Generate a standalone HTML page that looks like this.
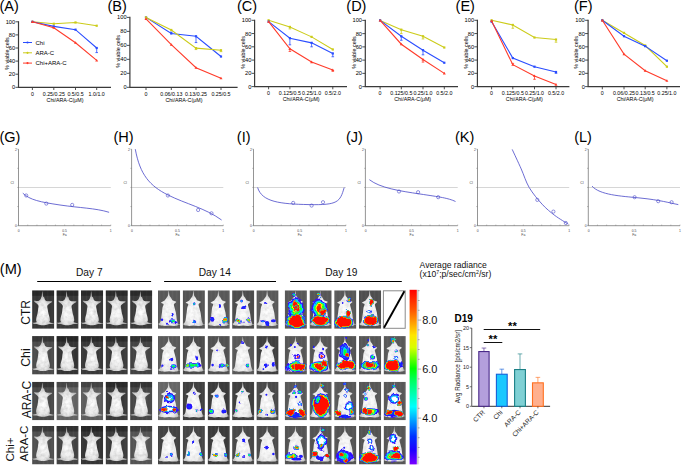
<!DOCTYPE html>
<html><head><meta charset="utf-8"><style>
html,body{margin:0;padding:0;background:#fff;width:685px;height:467px;overflow:hidden}
svg{display:block}
text{font-family:"Liberation Sans",sans-serif}
</style></head><body>
<svg width="685" height="467" viewBox="0 0 685 467">
<defs><radialGradient id="mg7" cx="0.5" cy="0.62" r="0.55"><stop offset="0" stop-color="#ffffff"/><stop offset="0.6" stop-color="#e8e8e8"/><stop offset="1" stop-color="#b0b0b0"/></radialGradient>
<radialGradient id="mg14" cx="0.5" cy="0.6" r="0.6"><stop offset="0" stop-color="#ffffff"/><stop offset="0.65" stop-color="#f0f0f0"/><stop offset="1" stop-color="#c8c8c8"/></radialGradient>
<linearGradient id="bg7" x1="0" y1="0" x2="0" y2="1"><stop offset="0" stop-color="#252525"/><stop offset="0.17" stop-color="#262626"/><stop offset="0.18" stop-color="#3b3b3b"/><stop offset="0.85" stop-color="#3d3d3d"/><stop offset="1" stop-color="#303030"/></linearGradient>
<linearGradient id="bg14" x1="0" y1="0" x2="1" y2="0"><stop offset="0" stop-color="#4e4e4e"/><stop offset="0.3" stop-color="#5c5c5c"/><stop offset="0.5" stop-color="#545454"/><stop offset="0.75" stop-color="#5e5e5e"/><stop offset="1" stop-color="#505050"/></linearGradient>
<filter id="bl" x="-20%" y="-20%" width="140%" height="140%"><feGaussianBlur stdDeviation="0.45"/></filter>
<pattern id="stripes" x="0" y="0" width="4.3" height="40" patternUnits="userSpaceOnUse"><rect x="0" y="0" width="0.9" height="40" fill="#fff" opacity="0.03"/><rect x="2.2" y="0" width="0.9" height="40" fill="#000" opacity="0.04"/></pattern>
<filter id="tex" x="-10%" y="-10%" width="120%" height="120%"><feTurbulence type="fractalNoise" baseFrequency="0.28" numOctaves="2" seed="11" result="n"/><feColorMatrix in="n" type="matrix" values="0 0 0 0 0  0 0 0 0 0  0 0 0 0 0  0 0 0 -1.6 1.0" result="na"/><feComposite in="na" in2="SourceAlpha" operator="in" result="nm"/><feComponentTransfer in="nm" result="nm2"><feFuncA type="linear" slope="0.32"/></feComponentTransfer><feMerge result="m"><feMergeNode in="SourceGraphic"/><feMergeNode in="nm2"/></feMerge><feGaussianBlur in="m" stdDeviation="0.45"/></filter>
<filter id="tex14" x="-10%" y="-10%" width="120%" height="120%"><feTurbulence type="fractalNoise" baseFrequency="0.28" numOctaves="2" seed="11" result="n"/><feColorMatrix in="n" type="matrix" values="0 0 0 0 0  0 0 0 0 0  0 0 0 0 0  0 0 0 -1.6 1.0" result="na"/><feComposite in="na" in2="SourceAlpha" operator="in" result="nm"/><feComponentTransfer in="nm" result="nm2"><feFuncA type="linear" slope="0.26"/></feComponentTransfer><feMerge result="m"><feMergeNode in="SourceGraphic"/><feMergeNode in="nm2"/></feMerge><feGaussianBlur in="m" stdDeviation="0.45"/></filter>
<filter id="bl3" x="-30%" y="-30%" width="160%" height="160%"><feTurbulence type="fractalNoise" baseFrequency="0.16" numOctaves="2" seed="8" result="t"/><feDisplacementMap in="SourceGraphic" in2="t" scale="5.0" xChannelSelector="R" yChannelSelector="G" result="d"/><feGaussianBlur in="d" stdDeviation="0.45"/></filter>
<filter id="bl2" x="-20%" y="-20%" width="140%" height="140%" filterUnits="objectBoundingBox"><feTurbulence type="fractalNoise" baseFrequency="0.22" numOctaves="2" seed="5" result="t"/><feDisplacementMap in="SourceGraphic" in2="t" scale="3.0" xChannelSelector="R" yChannelSelector="G" result="d"/><feGaussianBlur in="d" stdDeviation="0.5"/></filter>
<linearGradient id="cbar" x1="0" y1="0" x2="0" y2="1">
<stop offset="0" stop-color="#ff0000"/><stop offset="0.12" stop-color="#ff5a00"/><stop offset="0.26" stop-color="#ffe600"/><stop offset="0.33" stop-color="#d8ff00"/><stop offset="0.45" stop-color="#00ff00"/><stop offset="0.52" stop-color="#00ff60"/><stop offset="0.67" stop-color="#00ffff"/><stop offset="0.84" stop-color="#0030ff"/><stop offset="0.92" stop-color="#2000ff"/><stop offset="1" stop-color="#7a00ff"/></linearGradient><clipPath id="tc1"><rect x="32.1" y="290.3" width="22.2" height="38.5"/></clipPath><clipPath id="tc2"><rect x="56.4" y="290.3" width="22.2" height="38.5"/></clipPath><clipPath id="tc3"><rect x="81.0" y="290.3" width="22.2" height="38.5"/></clipPath><clipPath id="tc4"><rect x="105.6" y="290.3" width="22.2" height="38.5"/></clipPath><clipPath id="tc5"><rect x="130.1" y="290.3" width="22.2" height="38.5"/></clipPath><clipPath id="tc6"><rect x="158.0" y="290.3" width="22.2" height="38.5"/></clipPath><clipPath id="tc7"><rect x="182.7" y="290.3" width="22.2" height="38.5"/></clipPath><clipPath id="tc8"><rect x="207.6" y="290.3" width="22.2" height="38.5"/></clipPath><clipPath id="tc9"><rect x="232.1" y="290.3" width="22.2" height="38.5"/></clipPath><clipPath id="tc10"><rect x="256.4" y="290.3" width="22.2" height="38.5"/></clipPath><clipPath id="tc11"><rect x="284.7" y="290.3" width="22.2" height="38.5"/></clipPath><clipPath id="tc12"><rect x="309.5" y="290.3" width="22.2" height="38.5"/></clipPath><clipPath id="tc13"><rect x="334.2" y="290.3" width="22.2" height="38.5"/></clipPath><clipPath id="tc14"><rect x="359.0" y="290.3" width="22.2" height="38.5"/></clipPath><clipPath id="tc15"><rect x="32.1" y="336.1" width="22.2" height="38.5"/></clipPath><clipPath id="tc16"><rect x="56.4" y="336.1" width="22.2" height="38.5"/></clipPath><clipPath id="tc17"><rect x="81.0" y="336.1" width="22.2" height="38.5"/></clipPath><clipPath id="tc18"><rect x="105.6" y="336.1" width="22.2" height="38.5"/></clipPath><clipPath id="tc19"><rect x="130.1" y="336.1" width="22.2" height="38.5"/></clipPath><clipPath id="tc20"><rect x="158.0" y="336.1" width="22.2" height="38.5"/></clipPath><clipPath id="tc21"><rect x="182.7" y="336.1" width="22.2" height="38.5"/></clipPath><clipPath id="tc22"><rect x="207.6" y="336.1" width="22.2" height="38.5"/></clipPath><clipPath id="tc23"><rect x="232.1" y="336.1" width="22.2" height="38.5"/></clipPath><clipPath id="tc24"><rect x="256.4" y="336.1" width="22.2" height="38.5"/></clipPath><clipPath id="tc25"><rect x="284.7" y="336.1" width="22.2" height="38.5"/></clipPath><clipPath id="tc26"><rect x="309.5" y="336.1" width="22.2" height="38.5"/></clipPath><clipPath id="tc27"><rect x="334.2" y="336.1" width="22.2" height="38.5"/></clipPath><clipPath id="tc28"><rect x="359.0" y="336.1" width="22.2" height="38.5"/></clipPath><clipPath id="tc29"><rect x="383.6" y="336.1" width="22.2" height="38.5"/></clipPath><clipPath id="tc30"><rect x="32.1" y="381.8" width="22.2" height="38.5"/></clipPath><clipPath id="tc31"><rect x="56.4" y="381.8" width="22.2" height="38.5"/></clipPath><clipPath id="tc32"><rect x="81.0" y="381.8" width="22.2" height="38.5"/></clipPath><clipPath id="tc33"><rect x="105.6" y="381.8" width="22.2" height="38.5"/></clipPath><clipPath id="tc34"><rect x="130.1" y="381.8" width="22.2" height="38.5"/></clipPath><clipPath id="tc35"><rect x="158.0" y="381.8" width="22.2" height="38.5"/></clipPath><clipPath id="tc36"><rect x="182.7" y="381.8" width="22.2" height="38.5"/></clipPath><clipPath id="tc37"><rect x="207.6" y="381.8" width="22.2" height="38.5"/></clipPath><clipPath id="tc38"><rect x="232.1" y="381.8" width="22.2" height="38.5"/></clipPath><clipPath id="tc39"><rect x="256.4" y="381.8" width="22.2" height="38.5"/></clipPath><clipPath id="tc40"><rect x="284.7" y="381.8" width="22.2" height="38.5"/></clipPath><clipPath id="tc41"><rect x="309.5" y="381.8" width="22.2" height="38.5"/></clipPath><clipPath id="tc42"><rect x="334.2" y="381.8" width="22.2" height="38.5"/></clipPath><clipPath id="tc43"><rect x="359.0" y="381.8" width="22.2" height="38.5"/></clipPath><clipPath id="tc44"><rect x="383.6" y="381.8" width="22.2" height="38.5"/></clipPath><clipPath id="tc45"><rect x="32.1" y="426.0" width="22.2" height="38.5"/></clipPath><clipPath id="tc46"><rect x="56.4" y="426.0" width="22.2" height="38.5"/></clipPath><clipPath id="tc47"><rect x="81.0" y="426.0" width="22.2" height="38.5"/></clipPath><clipPath id="tc48"><rect x="105.6" y="426.0" width="22.2" height="38.5"/></clipPath><clipPath id="tc49"><rect x="130.1" y="426.0" width="22.2" height="38.5"/></clipPath><clipPath id="tc50"><rect x="158.0" y="426.0" width="22.2" height="38.5"/></clipPath><clipPath id="tc51"><rect x="182.7" y="426.0" width="22.2" height="38.5"/></clipPath><clipPath id="tc52"><rect x="207.6" y="426.0" width="22.2" height="38.5"/></clipPath><clipPath id="tc53"><rect x="232.1" y="426.0" width="22.2" height="38.5"/></clipPath><clipPath id="tc54"><rect x="256.4" y="426.0" width="22.2" height="38.5"/></clipPath><clipPath id="tc55"><rect x="284.7" y="426.0" width="22.2" height="38.5"/></clipPath><clipPath id="tc56"><rect x="309.5" y="426.0" width="22.2" height="38.5"/></clipPath><clipPath id="tc57"><rect x="334.2" y="426.0" width="22.2" height="38.5"/></clipPath><clipPath id="tc58"><rect x="359.0" y="426.0" width="22.2" height="38.5"/></clipPath><clipPath id="tc59"><rect x="383.6" y="426.0" width="22.2" height="38.5"/></clipPath></defs>
<text x="-0.50" y="10.80" font-size="14.5" text-anchor="start" fill="#000" font-weight="normal" >(A)</text>
<path d="M18.5 21.2 V87.3 H111" fill="none" stroke="#3a3a3a" stroke-width="1.2"/>
<line x1="15.5" y1="87.30" x2="18.5" y2="87.30" stroke="#3a3a3a" stroke-width="0.9"/>
<text x="15.20" y="89.30" font-size="5.7" text-anchor="end" fill="#000" font-weight="normal" >0</text>
<line x1="15.5" y1="74.20" x2="18.5" y2="74.20" stroke="#3a3a3a" stroke-width="0.9"/>
<text x="15.20" y="76.20" font-size="5.7" text-anchor="end" fill="#000" font-weight="normal" >20</text>
<line x1="15.5" y1="61.10" x2="18.5" y2="61.10" stroke="#3a3a3a" stroke-width="0.9"/>
<text x="15.20" y="63.10" font-size="5.7" text-anchor="end" fill="#000" font-weight="normal" >40</text>
<line x1="15.5" y1="48.00" x2="18.5" y2="48.00" stroke="#3a3a3a" stroke-width="0.9"/>
<text x="15.20" y="50.00" font-size="5.7" text-anchor="end" fill="#000" font-weight="normal" >60</text>
<line x1="15.5" y1="34.90" x2="18.5" y2="34.90" stroke="#3a3a3a" stroke-width="0.9"/>
<text x="15.20" y="36.90" font-size="5.7" text-anchor="end" fill="#000" font-weight="normal" >80</text>
<line x1="15.5" y1="21.80" x2="18.5" y2="21.80" stroke="#3a3a3a" stroke-width="0.9"/>
<text x="15.20" y="23.80" font-size="5.7" text-anchor="end" fill="#000" font-weight="normal" >100</text>
<line x1="32.40" y1="87.3" x2="32.40" y2="90.0" stroke="#3a3a3a" stroke-width="0.9"/>
<text x="32.40" y="95.70" font-size="5.3" text-anchor="middle" fill="#000" font-weight="normal" >0</text>
<line x1="53.80" y1="87.3" x2="53.80" y2="90.0" stroke="#3a3a3a" stroke-width="0.9"/>
<text x="53.80" y="95.70" font-size="5.3" text-anchor="middle" fill="#000" font-weight="normal" >0.25/0.25</text>
<line x1="75.50" y1="87.3" x2="75.50" y2="90.0" stroke="#3a3a3a" stroke-width="0.9"/>
<text x="75.50" y="95.70" font-size="5.3" text-anchor="middle" fill="#000" font-weight="normal" >0.5/0.5</text>
<line x1="96.70" y1="87.3" x2="96.70" y2="90.0" stroke="#3a3a3a" stroke-width="0.9"/>
<text x="96.70" y="95.70" font-size="5.3" text-anchor="middle" fill="#000" font-weight="normal" >1.0/1.0</text>
<text x="65.05" y="101.50" font-size="5.3" text-anchor="middle" fill="#000" font-weight="normal" >Chi/ARA-C(μM)</text>
<text x="8.70" y="53.55" font-size="5.4" text-anchor="middle" fill="#000" font-weight="normal" transform="rotate(-90 8.7 53.55)" >% viable cells</text>
<polyline points="32.40,21.80 53.80,23.77 75.50,22.45 96.70,25.73" fill="none" stroke="#cccc1a" stroke-width="1.1"/>
<rect x="31.30" y="20.70" width="2.2" height="2.2" fill="#cccc1a"/>
<rect x="52.70" y="22.66" width="2.2" height="2.2" fill="#cccc1a"/>
<rect x="74.40" y="21.35" width="2.2" height="2.2" fill="#cccc1a"/>
<rect x="95.60" y="24.63" width="2.2" height="2.2" fill="#cccc1a"/>
<polyline points="32.40,21.80 53.80,26.38 75.50,29.66 96.70,48.00" fill="none" stroke="#2a4dff" stroke-width="1.1"/>
<rect x="31.30" y="20.70" width="2.2" height="2.2" fill="#2a4dff"/>
<rect x="52.70" y="25.28" width="2.2" height="2.2" fill="#2a4dff"/>
<rect x="74.40" y="28.56" width="2.2" height="2.2" fill="#2a4dff"/>
<rect x="95.60" y="46.90" width="2.2" height="2.2" fill="#2a4dff"/>
<path d="M96.70 48.00V52.58M95.40 52.58h2.6" stroke="#2a4dff" stroke-width="0.8" fill="none"/>
<polyline points="32.40,21.80 53.80,27.70 75.50,42.76 96.70,60.44" fill="none" stroke="#ff3b2a" stroke-width="1.1"/>
<path d="M32.40 20.30L33.90 22.90H30.90Z" fill="#ff3b2a"/>
<path d="M53.80 26.20L55.30 28.80H52.30Z" fill="#ff3b2a"/>
<path d="M75.50 41.26L77.00 43.86H74.00Z" fill="#ff3b2a"/>
<path d="M96.70 58.94L98.20 61.54H95.20Z" fill="#ff3b2a"/>
<line x1="23" y1="42.5" x2="32" y2="42.5" stroke="#2a4dff" stroke-width="1"/>
<circle cx="27.5" cy="42.5" r="1.1" fill="#2a4dff"/>
<text x="35.50" y="44.60" font-size="6.0" text-anchor="start" fill="#000" font-weight="normal" >Chi</text>
<line x1="23" y1="52.8" x2="32" y2="52.8" stroke="#cccc1a" stroke-width="1"/>
<circle cx="27.5" cy="52.8" r="1.1" fill="#cccc1a"/>
<text x="35.50" y="54.90" font-size="6.0" text-anchor="start" fill="#000" font-weight="normal" >ARA-C</text>
<line x1="23" y1="63.1" x2="32" y2="63.1" stroke="#ff3b2a" stroke-width="1"/>
<circle cx="27.5" cy="63.1" r="1.1" fill="#ff3b2a"/>
<text x="35.50" y="65.20" font-size="6.0" text-anchor="start" fill="#000" font-weight="normal" >Chi+ARA-C</text>
<text x="107.50" y="10.80" font-size="14.5" text-anchor="start" fill="#000" font-weight="normal" >(B)</text>
<path d="M129.9 16.799999999999997 V87.3 H237.6" fill="none" stroke="#3a3a3a" stroke-width="1.2"/>
<line x1="126.9" y1="87.30" x2="129.9" y2="87.30" stroke="#3a3a3a" stroke-width="0.9"/>
<text x="126.60" y="89.30" font-size="5.7" text-anchor="end" fill="#000" font-weight="normal" >0</text>
<line x1="126.9" y1="73.32" x2="129.9" y2="73.32" stroke="#3a3a3a" stroke-width="0.9"/>
<text x="126.60" y="75.32" font-size="5.7" text-anchor="end" fill="#000" font-weight="normal" >20</text>
<line x1="126.9" y1="59.34" x2="129.9" y2="59.34" stroke="#3a3a3a" stroke-width="0.9"/>
<text x="126.60" y="61.34" font-size="5.7" text-anchor="end" fill="#000" font-weight="normal" >40</text>
<line x1="126.9" y1="45.36" x2="129.9" y2="45.36" stroke="#3a3a3a" stroke-width="0.9"/>
<text x="126.60" y="47.36" font-size="5.7" text-anchor="end" fill="#000" font-weight="normal" >60</text>
<line x1="126.9" y1="31.38" x2="129.9" y2="31.38" stroke="#3a3a3a" stroke-width="0.9"/>
<text x="126.60" y="33.38" font-size="5.7" text-anchor="end" fill="#000" font-weight="normal" >80</text>
<line x1="126.9" y1="17.40" x2="129.9" y2="17.40" stroke="#3a3a3a" stroke-width="0.9"/>
<text x="126.60" y="19.40" font-size="5.7" text-anchor="end" fill="#000" font-weight="normal" >100</text>
<line x1="146.00" y1="87.3" x2="146.00" y2="90.0" stroke="#3a3a3a" stroke-width="0.9"/>
<text x="146.00" y="95.70" font-size="5.3" text-anchor="middle" fill="#000" font-weight="normal" >0</text>
<line x1="171.30" y1="87.3" x2="171.30" y2="90.0" stroke="#3a3a3a" stroke-width="0.9"/>
<text x="171.30" y="95.70" font-size="5.3" text-anchor="middle" fill="#000" font-weight="normal" >0.06/0.13</text>
<line x1="196.00" y1="87.3" x2="196.00" y2="90.0" stroke="#3a3a3a" stroke-width="0.9"/>
<text x="196.00" y="95.70" font-size="5.3" text-anchor="middle" fill="#000" font-weight="normal" >0.13/0.25</text>
<line x1="221.00" y1="87.3" x2="221.00" y2="90.0" stroke="#3a3a3a" stroke-width="0.9"/>
<text x="221.00" y="95.70" font-size="5.3" text-anchor="middle" fill="#000" font-weight="normal" >0.25/0.5</text>
<text x="184.00" y="101.50" font-size="5.3" text-anchor="middle" fill="#000" font-weight="normal" >Chi/ARA-C(μM)</text>
<text x="120.10" y="51.35" font-size="5.4" text-anchor="middle" fill="#000" font-weight="normal" transform="rotate(-90 120.10000000000001 51.349999999999994)" >% viable cells</text>
<polyline points="146.00,17.40 171.30,33.48 196.00,36.27 221.00,56.54" fill="none" stroke="#2a4dff" stroke-width="1.1"/>
<rect x="144.90" y="16.30" width="2.2" height="2.2" fill="#2a4dff"/>
<rect x="170.20" y="32.38" width="2.2" height="2.2" fill="#2a4dff"/>
<path d="M171.30 33.48V32.08M170.00 32.08h2.6" stroke="#2a4dff" stroke-width="0.8" fill="none"/>
<rect x="194.90" y="35.17" width="2.2" height="2.2" fill="#2a4dff"/>
<path d="M196.00 36.27V42.56M194.70 42.56h2.6" stroke="#2a4dff" stroke-width="0.8" fill="none"/>
<rect x="219.90" y="55.44" width="2.2" height="2.2" fill="#2a4dff"/>
<polyline points="146.00,17.40 171.30,29.98 196.00,48.16 221.00,50.25" fill="none" stroke="#cccc1a" stroke-width="1.1"/>
<rect x="144.90" y="16.30" width="2.2" height="2.2" fill="#cccc1a"/>
<rect x="170.20" y="28.88" width="2.2" height="2.2" fill="#cccc1a"/>
<rect x="194.90" y="47.06" width="2.2" height="2.2" fill="#cccc1a"/>
<path d="M196.00 48.16V49.55M194.70 49.55h2.6" stroke="#cccc1a" stroke-width="0.8" fill="none"/>
<rect x="219.90" y="49.15" width="2.2" height="2.2" fill="#cccc1a"/>
<path d="M221.00 50.25V51.65M219.70 51.65h2.6" stroke="#cccc1a" stroke-width="0.8" fill="none"/>
<polyline points="146.00,18.80 171.30,44.66 196.00,67.73 221.00,78.21" fill="none" stroke="#ff3b2a" stroke-width="1.1"/>
<path d="M146.00 17.30L147.50 19.90H144.50Z" fill="#ff3b2a"/>
<path d="M171.30 43.16L172.80 45.76H169.80Z" fill="#ff3b2a"/>
<path d="M196.00 66.23L197.50 68.83H194.50Z" fill="#ff3b2a"/>
<path d="M221.00 76.71L222.50 79.31H219.50Z" fill="#ff3b2a"/>
<text x="237.00" y="10.80" font-size="14.5" text-anchor="start" fill="#000" font-weight="normal" >(C)</text>
<path d="M254.6 19.7 V86.6 H347" fill="none" stroke="#3a3a3a" stroke-width="1.2"/>
<line x1="251.6" y1="86.60" x2="254.6" y2="86.60" stroke="#3a3a3a" stroke-width="0.9"/>
<text x="251.30" y="88.60" font-size="5.7" text-anchor="end" fill="#000" font-weight="normal" >0</text>
<line x1="251.6" y1="73.34" x2="254.6" y2="73.34" stroke="#3a3a3a" stroke-width="0.9"/>
<text x="251.30" y="75.34" font-size="5.7" text-anchor="end" fill="#000" font-weight="normal" >20</text>
<line x1="251.6" y1="60.08" x2="254.6" y2="60.08" stroke="#3a3a3a" stroke-width="0.9"/>
<text x="251.30" y="62.08" font-size="5.7" text-anchor="end" fill="#000" font-weight="normal" >40</text>
<line x1="251.6" y1="46.82" x2="254.6" y2="46.82" stroke="#3a3a3a" stroke-width="0.9"/>
<text x="251.30" y="48.82" font-size="5.7" text-anchor="end" fill="#000" font-weight="normal" >60</text>
<line x1="251.6" y1="33.56" x2="254.6" y2="33.56" stroke="#3a3a3a" stroke-width="0.9"/>
<text x="251.30" y="35.56" font-size="5.7" text-anchor="end" fill="#000" font-weight="normal" >80</text>
<line x1="251.6" y1="20.30" x2="254.6" y2="20.30" stroke="#3a3a3a" stroke-width="0.9"/>
<text x="251.30" y="22.30" font-size="5.7" text-anchor="end" fill="#000" font-weight="normal" >100</text>
<line x1="268.60" y1="86.6" x2="268.60" y2="89.3" stroke="#3a3a3a" stroke-width="0.9"/>
<text x="268.60" y="95.00" font-size="5.3" text-anchor="middle" fill="#000" font-weight="normal" >0</text>
<line x1="289.90" y1="86.6" x2="289.90" y2="89.3" stroke="#3a3a3a" stroke-width="0.9"/>
<text x="289.90" y="95.00" font-size="5.3" text-anchor="middle" fill="#000" font-weight="normal" >0.125/0.5</text>
<line x1="311.60" y1="86.6" x2="311.60" y2="89.3" stroke="#3a3a3a" stroke-width="0.9"/>
<text x="311.60" y="95.00" font-size="5.3" text-anchor="middle" fill="#000" font-weight="normal" >0.25/1.0</text>
<line x1="332.80" y1="86.6" x2="332.80" y2="89.3" stroke="#3a3a3a" stroke-width="0.9"/>
<text x="332.80" y="95.00" font-size="5.3" text-anchor="middle" fill="#000" font-weight="normal" >0.5/2.0</text>
<text x="301.20" y="100.80" font-size="5.3" text-anchor="middle" fill="#000" font-weight="normal" >Chi/ARA-C(μM)</text>
<text x="244.80" y="52.45" font-size="5.4" text-anchor="middle" fill="#000" font-weight="normal" transform="rotate(-90 244.79999999999998 52.449999999999996)" >% viable cells</text>
<polyline points="268.60,20.30 289.90,26.93 311.60,36.87 332.80,49.47" fill="none" stroke="#cccc1a" stroke-width="1.1"/>
<rect x="267.50" y="19.20" width="2.2" height="2.2" fill="#cccc1a"/>
<rect x="288.80" y="25.83" width="2.2" height="2.2" fill="#cccc1a"/>
<path d="M289.90 26.93V28.92M288.60 28.92h2.6" stroke="#cccc1a" stroke-width="0.8" fill="none"/>
<rect x="310.50" y="35.77" width="2.2" height="2.2" fill="#cccc1a"/>
<rect x="331.70" y="48.37" width="2.2" height="2.2" fill="#cccc1a"/>
<polyline points="268.60,21.63 289.90,38.20 311.60,42.84 332.80,53.45" fill="none" stroke="#2a4dff" stroke-width="1.1"/>
<rect x="267.50" y="20.53" width="2.2" height="2.2" fill="#2a4dff"/>
<rect x="288.80" y="37.10" width="2.2" height="2.2" fill="#2a4dff"/>
<path d="M289.90 38.20V44.83M288.60 44.83h2.6" stroke="#2a4dff" stroke-width="0.8" fill="none"/>
<rect x="310.50" y="41.74" width="2.2" height="2.2" fill="#2a4dff"/>
<path d="M311.60 42.84V46.82M310.30 46.82h2.6" stroke="#2a4dff" stroke-width="0.8" fill="none"/>
<rect x="331.70" y="52.35" width="2.2" height="2.2" fill="#2a4dff"/>
<path d="M332.80 53.45V56.76M331.50 56.76h2.6" stroke="#2a4dff" stroke-width="0.8" fill="none"/>
<polyline points="268.60,21.63 289.90,48.81 311.60,62.07 332.80,70.02" fill="none" stroke="#ff3b2a" stroke-width="1.1"/>
<path d="M268.60 20.13L270.10 22.73H267.10Z" fill="#ff3b2a"/>
<path d="M289.90 47.31L291.40 49.91H288.40Z" fill="#ff3b2a"/>
<path d="M289.90 48.81V51.46M288.60 51.46h2.6" stroke="#ff3b2a" stroke-width="0.8" fill="none"/>
<path d="M311.60 60.57L313.10 63.17H310.10Z" fill="#ff3b2a"/>
<path d="M332.80 68.52L334.30 71.12H331.30Z" fill="#ff3b2a"/>
<path d="M332.80 70.02V71.35M331.50 71.35h2.6" stroke="#ff3b2a" stroke-width="0.8" fill="none"/>
<text x="346.30" y="10.80" font-size="14.5" text-anchor="start" fill="#000" font-weight="normal" >(D)</text>
<path d="M365.3 19.799999999999997 V86.6 H458" fill="none" stroke="#3a3a3a" stroke-width="1.2"/>
<line x1="362.3" y1="86.60" x2="365.3" y2="86.60" stroke="#3a3a3a" stroke-width="0.9"/>
<text x="362.00" y="88.60" font-size="5.7" text-anchor="end" fill="#000" font-weight="normal" >0</text>
<line x1="362.3" y1="73.36" x2="365.3" y2="73.36" stroke="#3a3a3a" stroke-width="0.9"/>
<text x="362.00" y="75.36" font-size="5.7" text-anchor="end" fill="#000" font-weight="normal" >20</text>
<line x1="362.3" y1="60.12" x2="365.3" y2="60.12" stroke="#3a3a3a" stroke-width="0.9"/>
<text x="362.00" y="62.12" font-size="5.7" text-anchor="end" fill="#000" font-weight="normal" >40</text>
<line x1="362.3" y1="46.88" x2="365.3" y2="46.88" stroke="#3a3a3a" stroke-width="0.9"/>
<text x="362.00" y="48.88" font-size="5.7" text-anchor="end" fill="#000" font-weight="normal" >60</text>
<line x1="362.3" y1="33.64" x2="365.3" y2="33.64" stroke="#3a3a3a" stroke-width="0.9"/>
<text x="362.00" y="35.64" font-size="5.7" text-anchor="end" fill="#000" font-weight="normal" >80</text>
<line x1="362.3" y1="20.40" x2="365.3" y2="20.40" stroke="#3a3a3a" stroke-width="0.9"/>
<text x="362.00" y="22.40" font-size="5.7" text-anchor="end" fill="#000" font-weight="normal" >100</text>
<line x1="380.10" y1="86.6" x2="380.10" y2="89.3" stroke="#3a3a3a" stroke-width="0.9"/>
<text x="380.10" y="95.00" font-size="5.3" text-anchor="middle" fill="#000" font-weight="normal" >0</text>
<line x1="401.30" y1="86.6" x2="401.30" y2="89.3" stroke="#3a3a3a" stroke-width="0.9"/>
<text x="401.30" y="95.00" font-size="5.3" text-anchor="middle" fill="#000" font-weight="normal" >0.125/0.5</text>
<line x1="423.00" y1="86.6" x2="423.00" y2="89.3" stroke="#3a3a3a" stroke-width="0.9"/>
<text x="423.00" y="95.00" font-size="5.3" text-anchor="middle" fill="#000" font-weight="normal" >0.25/1.0</text>
<line x1="444.30" y1="86.6" x2="444.30" y2="89.3" stroke="#3a3a3a" stroke-width="0.9"/>
<text x="444.30" y="95.00" font-size="5.3" text-anchor="middle" fill="#000" font-weight="normal" >0.5/2.0</text>
<text x="412.70" y="100.80" font-size="5.3" text-anchor="middle" fill="#000" font-weight="normal" >Chi/ARA-C(μM)</text>
<text x="355.50" y="52.50" font-size="5.4" text-anchor="middle" fill="#000" font-weight="normal" transform="rotate(-90 355.5 52.5)" >% viable cells</text>
<polyline points="380.10,20.40 401.30,29.67 423.00,36.29 444.30,47.54" fill="none" stroke="#cccc1a" stroke-width="1.1"/>
<rect x="379.00" y="19.30" width="2.2" height="2.2" fill="#cccc1a"/>
<rect x="400.20" y="28.57" width="2.2" height="2.2" fill="#cccc1a"/>
<path d="M401.30 29.67V33.64M400.00 33.64h2.6" stroke="#cccc1a" stroke-width="0.8" fill="none"/>
<rect x="421.90" y="35.19" width="2.2" height="2.2" fill="#cccc1a"/>
<path d="M423.00 36.29V38.94M421.70 38.94h2.6" stroke="#cccc1a" stroke-width="0.8" fill="none"/>
<rect x="443.20" y="46.44" width="2.2" height="2.2" fill="#cccc1a"/>
<polyline points="380.10,20.40 401.30,36.29 423.00,50.19 444.30,62.77" fill="none" stroke="#2a4dff" stroke-width="1.1"/>
<rect x="379.00" y="19.30" width="2.2" height="2.2" fill="#2a4dff"/>
<rect x="400.20" y="35.19" width="2.2" height="2.2" fill="#2a4dff"/>
<path d="M401.30 36.29V40.26M400.00 40.26h2.6" stroke="#2a4dff" stroke-width="0.8" fill="none"/>
<rect x="421.90" y="49.09" width="2.2" height="2.2" fill="#2a4dff"/>
<path d="M423.00 50.19V54.82M421.70 54.82h2.6" stroke="#2a4dff" stroke-width="0.8" fill="none"/>
<rect x="443.20" y="61.67" width="2.2" height="2.2" fill="#2a4dff"/>
<polyline points="380.10,20.40 401.30,44.23 423.00,59.46 444.30,73.36" fill="none" stroke="#ff3b2a" stroke-width="1.1"/>
<path d="M380.10 18.90L381.60 21.50H378.60Z" fill="#ff3b2a"/>
<path d="M401.30 42.73L402.80 45.33H399.80Z" fill="#ff3b2a"/>
<path d="M423.00 57.96L424.50 60.56H421.50Z" fill="#ff3b2a"/>
<path d="M423.00 59.46V62.11M421.70 62.11h2.6" stroke="#ff3b2a" stroke-width="0.8" fill="none"/>
<path d="M444.30 71.86L445.80 74.46H442.80Z" fill="#ff3b2a"/>
<text x="455.60" y="10.80" font-size="14.5" text-anchor="start" fill="#000" font-weight="normal" >(E)</text>
<path d="M477.4 19.7 V86.6 H569.4" fill="none" stroke="#3a3a3a" stroke-width="1.2"/>
<line x1="474.4" y1="86.60" x2="477.4" y2="86.60" stroke="#3a3a3a" stroke-width="0.9"/>
<text x="474.10" y="88.60" font-size="5.7" text-anchor="end" fill="#000" font-weight="normal" >0</text>
<line x1="474.4" y1="73.34" x2="477.4" y2="73.34" stroke="#3a3a3a" stroke-width="0.9"/>
<text x="474.10" y="75.34" font-size="5.7" text-anchor="end" fill="#000" font-weight="normal" >20</text>
<line x1="474.4" y1="60.08" x2="477.4" y2="60.08" stroke="#3a3a3a" stroke-width="0.9"/>
<text x="474.10" y="62.08" font-size="5.7" text-anchor="end" fill="#000" font-weight="normal" >40</text>
<line x1="474.4" y1="46.82" x2="477.4" y2="46.82" stroke="#3a3a3a" stroke-width="0.9"/>
<text x="474.10" y="48.82" font-size="5.7" text-anchor="end" fill="#000" font-weight="normal" >60</text>
<line x1="474.4" y1="33.56" x2="477.4" y2="33.56" stroke="#3a3a3a" stroke-width="0.9"/>
<text x="474.10" y="35.56" font-size="5.7" text-anchor="end" fill="#000" font-weight="normal" >80</text>
<line x1="474.4" y1="20.30" x2="477.4" y2="20.30" stroke="#3a3a3a" stroke-width="0.9"/>
<text x="474.10" y="22.30" font-size="5.7" text-anchor="end" fill="#000" font-weight="normal" >100</text>
<line x1="491.60" y1="86.6" x2="491.60" y2="89.3" stroke="#3a3a3a" stroke-width="0.9"/>
<text x="491.60" y="95.00" font-size="5.3" text-anchor="middle" fill="#000" font-weight="normal" >0</text>
<line x1="512.80" y1="86.6" x2="512.80" y2="89.3" stroke="#3a3a3a" stroke-width="0.9"/>
<text x="512.80" y="95.00" font-size="5.3" text-anchor="middle" fill="#000" font-weight="normal" >0.125/0.5</text>
<line x1="534.50" y1="86.6" x2="534.50" y2="89.3" stroke="#3a3a3a" stroke-width="0.9"/>
<text x="534.50" y="95.00" font-size="5.3" text-anchor="middle" fill="#000" font-weight="normal" >0.25/1.0</text>
<line x1="556.00" y1="86.6" x2="556.00" y2="89.3" stroke="#3a3a3a" stroke-width="0.9"/>
<text x="556.00" y="95.00" font-size="5.3" text-anchor="middle" fill="#000" font-weight="normal" >0.5/2.0</text>
<text x="524.30" y="100.80" font-size="5.3" text-anchor="middle" fill="#000" font-weight="normal" >Chi/ARA-C(μM)</text>
<text x="467.60" y="52.45" font-size="5.4" text-anchor="middle" fill="#000" font-weight="normal" transform="rotate(-90 467.59999999999997 52.449999999999996)" >% viable cells</text>
<polyline points="491.60,20.30 512.80,24.94 534.50,37.54 556.00,39.53" fill="none" stroke="#cccc1a" stroke-width="1.1"/>
<rect x="490.50" y="19.20" width="2.2" height="2.2" fill="#cccc1a"/>
<rect x="511.70" y="23.84" width="2.2" height="2.2" fill="#cccc1a"/>
<path d="M512.80 24.94V28.26M511.50 28.26h2.6" stroke="#cccc1a" stroke-width="0.8" fill="none"/>
<rect x="533.40" y="36.44" width="2.2" height="2.2" fill="#cccc1a"/>
<rect x="554.90" y="38.43" width="2.2" height="2.2" fill="#cccc1a"/>
<path d="M556.00 39.53V42.18M554.70 42.18h2.6" stroke="#cccc1a" stroke-width="0.8" fill="none"/>
<polyline points="491.60,21.63 512.80,58.09 534.50,66.71 556.00,72.01" fill="none" stroke="#2a4dff" stroke-width="1.1"/>
<rect x="490.50" y="20.53" width="2.2" height="2.2" fill="#2a4dff"/>
<rect x="511.70" y="56.99" width="2.2" height="2.2" fill="#2a4dff"/>
<rect x="533.40" y="65.61" width="2.2" height="2.2" fill="#2a4dff"/>
<rect x="554.90" y="70.91" width="2.2" height="2.2" fill="#2a4dff"/>
<path d="M556.00 72.01V73.34M554.70 73.34h2.6" stroke="#2a4dff" stroke-width="0.8" fill="none"/>
<polyline points="491.60,20.96 512.80,64.72 534.50,75.99 556.00,84.61" fill="none" stroke="#ff3b2a" stroke-width="1.1"/>
<path d="M491.60 19.46L493.10 22.06H490.10Z" fill="#ff3b2a"/>
<path d="M512.80 63.22L514.30 65.82H511.30Z" fill="#ff3b2a"/>
<path d="M512.80 64.72V63.39M511.50 63.39h2.6" stroke="#ff3b2a" stroke-width="0.8" fill="none"/>
<path d="M534.50 74.49L536.00 77.09H533.00Z" fill="#ff3b2a"/>
<path d="M534.50 75.99V79.31M533.20 79.31h2.6" stroke="#ff3b2a" stroke-width="0.8" fill="none"/>
<path d="M556.00 83.11L557.50 85.71H554.50Z" fill="#ff3b2a"/>
<text x="574.00" y="10.80" font-size="14.5" text-anchor="start" fill="#000" font-weight="normal" >(F)</text>
<path d="M588.1 19.7 V86.6 H680" fill="none" stroke="#3a3a3a" stroke-width="1.2"/>
<line x1="585.1" y1="86.60" x2="588.1" y2="86.60" stroke="#3a3a3a" stroke-width="0.9"/>
<text x="584.80" y="88.60" font-size="5.7" text-anchor="end" fill="#000" font-weight="normal" >0</text>
<line x1="585.1" y1="73.34" x2="588.1" y2="73.34" stroke="#3a3a3a" stroke-width="0.9"/>
<text x="584.80" y="75.34" font-size="5.7" text-anchor="end" fill="#000" font-weight="normal" >20</text>
<line x1="585.1" y1="60.08" x2="588.1" y2="60.08" stroke="#3a3a3a" stroke-width="0.9"/>
<text x="584.80" y="62.08" font-size="5.7" text-anchor="end" fill="#000" font-weight="normal" >40</text>
<line x1="585.1" y1="46.82" x2="588.1" y2="46.82" stroke="#3a3a3a" stroke-width="0.9"/>
<text x="584.80" y="48.82" font-size="5.7" text-anchor="end" fill="#000" font-weight="normal" >60</text>
<line x1="585.1" y1="33.56" x2="588.1" y2="33.56" stroke="#3a3a3a" stroke-width="0.9"/>
<text x="584.80" y="35.56" font-size="5.7" text-anchor="end" fill="#000" font-weight="normal" >80</text>
<line x1="585.1" y1="20.30" x2="588.1" y2="20.30" stroke="#3a3a3a" stroke-width="0.9"/>
<text x="584.80" y="22.30" font-size="5.7" text-anchor="end" fill="#000" font-weight="normal" >100</text>
<line x1="602.30" y1="86.6" x2="602.30" y2="89.3" stroke="#3a3a3a" stroke-width="0.9"/>
<text x="602.30" y="95.00" font-size="5.3" text-anchor="middle" fill="#000" font-weight="normal" >0</text>
<line x1="624.00" y1="86.6" x2="624.00" y2="89.3" stroke="#3a3a3a" stroke-width="0.9"/>
<text x="624.00" y="95.00" font-size="5.3" text-anchor="middle" fill="#000" font-weight="normal" >0.06/0.25</text>
<line x1="645.20" y1="86.6" x2="645.20" y2="89.3" stroke="#3a3a3a" stroke-width="0.9"/>
<text x="645.20" y="95.00" font-size="5.3" text-anchor="middle" fill="#000" font-weight="normal" >0.13/0.5</text>
<line x1="666.90" y1="86.6" x2="666.90" y2="89.3" stroke="#3a3a3a" stroke-width="0.9"/>
<text x="666.90" y="95.00" font-size="5.3" text-anchor="middle" fill="#000" font-weight="normal" >0.25/1.0</text>
<text x="635.10" y="100.80" font-size="5.3" text-anchor="middle" fill="#000" font-weight="normal" >Chi/ARA-C(μM)</text>
<text x="578.30" y="52.45" font-size="5.4" text-anchor="middle" fill="#000" font-weight="normal" transform="rotate(-90 578.3000000000001 52.449999999999996)" >% viable cells</text>
<polyline points="602.30,20.30 624.00,32.90 645.20,45.49 666.90,66.71" fill="none" stroke="#cccc1a" stroke-width="1.1"/>
<rect x="601.20" y="19.20" width="2.2" height="2.2" fill="#cccc1a"/>
<rect x="622.90" y="31.80" width="2.2" height="2.2" fill="#cccc1a"/>
<rect x="644.10" y="44.39" width="2.2" height="2.2" fill="#cccc1a"/>
<rect x="665.80" y="65.61" width="2.2" height="2.2" fill="#cccc1a"/>
<polyline points="602.30,20.30 624.00,36.21 645.20,46.16 666.90,60.74" fill="none" stroke="#2a4dff" stroke-width="1.1"/>
<rect x="601.20" y="19.20" width="2.2" height="2.2" fill="#2a4dff"/>
<rect x="622.90" y="35.11" width="2.2" height="2.2" fill="#2a4dff"/>
<rect x="644.10" y="45.06" width="2.2" height="2.2" fill="#2a4dff"/>
<rect x="665.80" y="59.64" width="2.2" height="2.2" fill="#2a4dff"/>
<polyline points="602.30,20.30 624.00,54.11 645.20,70.69 666.90,80.63" fill="none" stroke="#ff3b2a" stroke-width="1.1"/>
<path d="M602.30 18.80L603.80 21.40H600.80Z" fill="#ff3b2a"/>
<path d="M624.00 52.61L625.50 55.21H622.50Z" fill="#ff3b2a"/>
<path d="M645.20 69.19L646.70 71.79H643.70Z" fill="#ff3b2a"/>
<path d="M666.90 79.13L668.40 81.73H665.40Z" fill="#ff3b2a"/>
<text x="-0.50" y="141.70" font-size="14.5" text-anchor="start" fill="#000" font-weight="normal" >(G)</text>
<line x1="18.5" y1="187.45" x2="110.8" y2="187.45" stroke="#d6d6d6" stroke-width="1.1"/>
<path d="M18.5 149.2 V225.7 H110.8" fill="none" stroke="#7a7a7a" stroke-width="0.8"/>
<line x1="18.50" y1="225.7" x2="18.50" y2="224.6" stroke="#777" stroke-width="0.5"/>
<line x1="27.73" y1="225.7" x2="27.73" y2="224.6" stroke="#777" stroke-width="0.5"/>
<line x1="36.96" y1="225.7" x2="36.96" y2="224.6" stroke="#777" stroke-width="0.5"/>
<line x1="46.19" y1="225.7" x2="46.19" y2="224.6" stroke="#777" stroke-width="0.5"/>
<line x1="55.42" y1="225.7" x2="55.42" y2="224.6" stroke="#777" stroke-width="0.5"/>
<line x1="64.65" y1="225.7" x2="64.65" y2="224.6" stroke="#777" stroke-width="0.5"/>
<line x1="73.88" y1="225.7" x2="73.88" y2="224.6" stroke="#777" stroke-width="0.5"/>
<line x1="83.11" y1="225.7" x2="83.11" y2="224.6" stroke="#777" stroke-width="0.5"/>
<line x1="92.34" y1="225.7" x2="92.34" y2="224.6" stroke="#777" stroke-width="0.5"/>
<line x1="101.57" y1="225.7" x2="101.57" y2="224.6" stroke="#777" stroke-width="0.5"/>
<line x1="110.80" y1="225.7" x2="110.80" y2="224.6" stroke="#777" stroke-width="0.5"/>
<line x1="17.4" y1="225.70" x2="18.5" y2="225.70" stroke="#777" stroke-width="0.6"/>
<line x1="17.4" y1="206.57" x2="18.5" y2="206.57" stroke="#777" stroke-width="0.6"/>
<line x1="17.4" y1="187.45" x2="18.5" y2="187.45" stroke="#777" stroke-width="0.6"/>
<line x1="17.4" y1="168.32" x2="18.5" y2="168.32" stroke="#777" stroke-width="0.6"/>
<line x1="17.4" y1="149.20" x2="18.5" y2="149.20" stroke="#777" stroke-width="0.6"/>
<text x="16.90" y="150.90" font-size="3.4" text-anchor="end" fill="#444" font-weight="normal" >2</text>
<text x="16.90" y="226.90" font-size="3.4" text-anchor="end" fill="#444" font-weight="normal" >0</text>
<text x="13.90" y="184.25" font-size="3.4" text-anchor="end" fill="#444" font-weight="normal" >CI</text>
<text x="18.80" y="231.50" font-size="3.4" text-anchor="middle" fill="#444" font-weight="normal" >0</text>
<text x="64.65" y="231.50" font-size="3.4" text-anchor="middle" fill="#444" font-weight="normal" >0.5</text>
<text x="110.80" y="231.50" font-size="3.4" text-anchor="middle" fill="#444" font-weight="normal" >1</text>
<text x="64.65" y="235.50" font-size="3.4" text-anchor="middle" fill="#444" font-weight="normal" >Fa</text>
<path d="M22.8 193.2 C30 200, 40 202, 60 205 S95 208, 109.1 212.3" fill="none" stroke="#4848c8" stroke-width="0.8"/>
<circle cx="26.2" cy="195.5" r="1.6" fill="none" stroke="#4848c8" stroke-width="0.6"/>
<circle cx="46.3" cy="203.6" r="1.6" fill="none" stroke="#4848c8" stroke-width="0.6"/>
<circle cx="72.2" cy="204.9" r="1.6" fill="none" stroke="#4848c8" stroke-width="0.6"/>
<text x="113.50" y="141.70" font-size="14.5" text-anchor="start" fill="#000" font-weight="normal" >(H)</text>
<line x1="131.6" y1="187.45" x2="223.3" y2="187.45" stroke="#d6d6d6" stroke-width="1.1"/>
<path d="M131.6 149.2 V225.7 H223.3" fill="none" stroke="#7a7a7a" stroke-width="0.8"/>
<line x1="131.60" y1="225.7" x2="131.60" y2="224.6" stroke="#777" stroke-width="0.5"/>
<line x1="140.77" y1="225.7" x2="140.77" y2="224.6" stroke="#777" stroke-width="0.5"/>
<line x1="149.94" y1="225.7" x2="149.94" y2="224.6" stroke="#777" stroke-width="0.5"/>
<line x1="159.11" y1="225.7" x2="159.11" y2="224.6" stroke="#777" stroke-width="0.5"/>
<line x1="168.28" y1="225.7" x2="168.28" y2="224.6" stroke="#777" stroke-width="0.5"/>
<line x1="177.45" y1="225.7" x2="177.45" y2="224.6" stroke="#777" stroke-width="0.5"/>
<line x1="186.62" y1="225.7" x2="186.62" y2="224.6" stroke="#777" stroke-width="0.5"/>
<line x1="195.79" y1="225.7" x2="195.79" y2="224.6" stroke="#777" stroke-width="0.5"/>
<line x1="204.96" y1="225.7" x2="204.96" y2="224.6" stroke="#777" stroke-width="0.5"/>
<line x1="214.13" y1="225.7" x2="214.13" y2="224.6" stroke="#777" stroke-width="0.5"/>
<line x1="223.30" y1="225.7" x2="223.30" y2="224.6" stroke="#777" stroke-width="0.5"/>
<line x1="130.5" y1="225.70" x2="131.6" y2="225.70" stroke="#777" stroke-width="0.6"/>
<line x1="130.5" y1="206.57" x2="131.6" y2="206.57" stroke="#777" stroke-width="0.6"/>
<line x1="130.5" y1="187.45" x2="131.6" y2="187.45" stroke="#777" stroke-width="0.6"/>
<line x1="130.5" y1="168.32" x2="131.6" y2="168.32" stroke="#777" stroke-width="0.6"/>
<line x1="130.5" y1="149.20" x2="131.6" y2="149.20" stroke="#777" stroke-width="0.6"/>
<text x="130.00" y="150.90" font-size="3.4" text-anchor="end" fill="#444" font-weight="normal" >2</text>
<text x="130.00" y="226.90" font-size="3.4" text-anchor="end" fill="#444" font-weight="normal" >0</text>
<text x="127.00" y="184.25" font-size="3.4" text-anchor="end" fill="#444" font-weight="normal" >CI</text>
<text x="131.90" y="231.50" font-size="3.4" text-anchor="middle" fill="#444" font-weight="normal" >0</text>
<text x="177.45" y="231.50" font-size="3.4" text-anchor="middle" fill="#444" font-weight="normal" >0.5</text>
<text x="223.30" y="231.50" font-size="3.4" text-anchor="middle" fill="#444" font-weight="normal" >1</text>
<text x="177.45" y="235.50" font-size="3.4" text-anchor="middle" fill="#444" font-weight="normal" >Fa</text>
<path d="M135.3 149.2 C140 175, 150 186, 168 195 S205 208, 221.6 220" fill="none" stroke="#4848c8" stroke-width="0.8"/>
<circle cx="167.9" cy="195.5" r="1.6" fill="none" stroke="#4848c8" stroke-width="0.6"/>
<circle cx="198.1" cy="210" r="1.6" fill="none" stroke="#4848c8" stroke-width="0.6"/>
<circle cx="211.5" cy="213.3" r="1.6" fill="none" stroke="#4848c8" stroke-width="0.6"/>
<text x="236.80" y="141.70" font-size="14.5" text-anchor="start" fill="#000" font-weight="normal" >(I)</text>
<line x1="253.5" y1="187.45" x2="345.9" y2="187.45" stroke="#d6d6d6" stroke-width="1.1"/>
<path d="M253.5 149.2 V225.7 H345.9" fill="none" stroke="#7a7a7a" stroke-width="0.8"/>
<line x1="253.50" y1="225.7" x2="253.50" y2="224.6" stroke="#777" stroke-width="0.5"/>
<line x1="262.74" y1="225.7" x2="262.74" y2="224.6" stroke="#777" stroke-width="0.5"/>
<line x1="271.98" y1="225.7" x2="271.98" y2="224.6" stroke="#777" stroke-width="0.5"/>
<line x1="281.22" y1="225.7" x2="281.22" y2="224.6" stroke="#777" stroke-width="0.5"/>
<line x1="290.46" y1="225.7" x2="290.46" y2="224.6" stroke="#777" stroke-width="0.5"/>
<line x1="299.70" y1="225.7" x2="299.70" y2="224.6" stroke="#777" stroke-width="0.5"/>
<line x1="308.94" y1="225.7" x2="308.94" y2="224.6" stroke="#777" stroke-width="0.5"/>
<line x1="318.18" y1="225.7" x2="318.18" y2="224.6" stroke="#777" stroke-width="0.5"/>
<line x1="327.42" y1="225.7" x2="327.42" y2="224.6" stroke="#777" stroke-width="0.5"/>
<line x1="336.66" y1="225.7" x2="336.66" y2="224.6" stroke="#777" stroke-width="0.5"/>
<line x1="345.90" y1="225.7" x2="345.90" y2="224.6" stroke="#777" stroke-width="0.5"/>
<line x1="252.4" y1="225.70" x2="253.5" y2="225.70" stroke="#777" stroke-width="0.6"/>
<line x1="252.4" y1="206.57" x2="253.5" y2="206.57" stroke="#777" stroke-width="0.6"/>
<line x1="252.4" y1="187.45" x2="253.5" y2="187.45" stroke="#777" stroke-width="0.6"/>
<line x1="252.4" y1="168.32" x2="253.5" y2="168.32" stroke="#777" stroke-width="0.6"/>
<line x1="252.4" y1="149.20" x2="253.5" y2="149.20" stroke="#777" stroke-width="0.6"/>
<text x="251.90" y="150.90" font-size="3.4" text-anchor="end" fill="#444" font-weight="normal" >2</text>
<text x="251.90" y="226.90" font-size="3.4" text-anchor="end" fill="#444" font-weight="normal" >0</text>
<text x="248.90" y="184.25" font-size="3.4" text-anchor="end" fill="#444" font-weight="normal" >CI</text>
<text x="253.80" y="231.50" font-size="3.4" text-anchor="middle" fill="#444" font-weight="normal" >0</text>
<text x="299.70" y="231.50" font-size="3.4" text-anchor="middle" fill="#444" font-weight="normal" >0.5</text>
<text x="345.90" y="231.50" font-size="3.4" text-anchor="middle" fill="#444" font-weight="normal" >1</text>
<text x="299.70" y="235.50" font-size="3.4" text-anchor="middle" fill="#444" font-weight="normal" >Fa</text>
<path d="M257.6 187.5 C262 202, 280 204, 309 204.6 S340 202, 344.2 187.5" fill="none" stroke="#4848c8" stroke-width="0.8"/>
<circle cx="293.2" cy="202.9" r="1.6" fill="none" stroke="#4848c8" stroke-width="0.6"/>
<circle cx="311.6" cy="205.6" r="1.6" fill="none" stroke="#4848c8" stroke-width="0.6"/>
<circle cx="323" cy="202.2" r="1.6" fill="none" stroke="#4848c8" stroke-width="0.6"/>
<text x="345.90" y="141.70" font-size="14.5" text-anchor="start" fill="#000" font-weight="normal" >(J)</text>
<line x1="365.4" y1="187.45" x2="457.7" y2="187.45" stroke="#d6d6d6" stroke-width="1.1"/>
<path d="M365.4 149.2 V225.7 H457.7" fill="none" stroke="#7a7a7a" stroke-width="0.8"/>
<line x1="365.40" y1="225.7" x2="365.40" y2="224.6" stroke="#777" stroke-width="0.5"/>
<line x1="374.63" y1="225.7" x2="374.63" y2="224.6" stroke="#777" stroke-width="0.5"/>
<line x1="383.86" y1="225.7" x2="383.86" y2="224.6" stroke="#777" stroke-width="0.5"/>
<line x1="393.09" y1="225.7" x2="393.09" y2="224.6" stroke="#777" stroke-width="0.5"/>
<line x1="402.32" y1="225.7" x2="402.32" y2="224.6" stroke="#777" stroke-width="0.5"/>
<line x1="411.55" y1="225.7" x2="411.55" y2="224.6" stroke="#777" stroke-width="0.5"/>
<line x1="420.78" y1="225.7" x2="420.78" y2="224.6" stroke="#777" stroke-width="0.5"/>
<line x1="430.01" y1="225.7" x2="430.01" y2="224.6" stroke="#777" stroke-width="0.5"/>
<line x1="439.24" y1="225.7" x2="439.24" y2="224.6" stroke="#777" stroke-width="0.5"/>
<line x1="448.47" y1="225.7" x2="448.47" y2="224.6" stroke="#777" stroke-width="0.5"/>
<line x1="457.70" y1="225.7" x2="457.70" y2="224.6" stroke="#777" stroke-width="0.5"/>
<line x1="364.29999999999995" y1="225.70" x2="365.4" y2="225.70" stroke="#777" stroke-width="0.6"/>
<line x1="364.29999999999995" y1="206.57" x2="365.4" y2="206.57" stroke="#777" stroke-width="0.6"/>
<line x1="364.29999999999995" y1="187.45" x2="365.4" y2="187.45" stroke="#777" stroke-width="0.6"/>
<line x1="364.29999999999995" y1="168.32" x2="365.4" y2="168.32" stroke="#777" stroke-width="0.6"/>
<line x1="364.29999999999995" y1="149.20" x2="365.4" y2="149.20" stroke="#777" stroke-width="0.6"/>
<text x="363.80" y="150.90" font-size="3.4" text-anchor="end" fill="#444" font-weight="normal" >2</text>
<text x="363.80" y="226.90" font-size="3.4" text-anchor="end" fill="#444" font-weight="normal" >0</text>
<text x="360.80" y="184.25" font-size="3.4" text-anchor="end" fill="#444" font-weight="normal" >CI</text>
<text x="365.70" y="231.50" font-size="3.4" text-anchor="middle" fill="#444" font-weight="normal" >0</text>
<text x="411.55" y="231.50" font-size="3.4" text-anchor="middle" fill="#444" font-weight="normal" >0.5</text>
<text x="457.70" y="231.50" font-size="3.4" text-anchor="middle" fill="#444" font-weight="normal" >1</text>
<text x="411.55" y="235.50" font-size="3.4" text-anchor="middle" fill="#444" font-weight="normal" >Fa</text>
<path d="M369.4 179.7 C380 188, 400 191, 420 194 S448 198, 455.5 201.5" fill="none" stroke="#4848c8" stroke-width="0.8"/>
<circle cx="399" cy="191.5" r="1.6" fill="none" stroke="#4848c8" stroke-width="0.6"/>
<circle cx="418.1" cy="192.2" r="1.6" fill="none" stroke="#4848c8" stroke-width="0.6"/>
<circle cx="438.2" cy="197.2" r="1.6" fill="none" stroke="#4848c8" stroke-width="0.6"/>
<text x="455.00" y="141.70" font-size="14.5" text-anchor="start" fill="#000" font-weight="normal" >(K)</text>
<line x1="477.5" y1="187.45" x2="569.2" y2="187.45" stroke="#d6d6d6" stroke-width="1.1"/>
<path d="M477.5 149.2 V225.7 H569.2" fill="none" stroke="#7a7a7a" stroke-width="0.8"/>
<line x1="477.50" y1="225.7" x2="477.50" y2="224.6" stroke="#777" stroke-width="0.5"/>
<line x1="486.67" y1="225.7" x2="486.67" y2="224.6" stroke="#777" stroke-width="0.5"/>
<line x1="495.84" y1="225.7" x2="495.84" y2="224.6" stroke="#777" stroke-width="0.5"/>
<line x1="505.01" y1="225.7" x2="505.01" y2="224.6" stroke="#777" stroke-width="0.5"/>
<line x1="514.18" y1="225.7" x2="514.18" y2="224.6" stroke="#777" stroke-width="0.5"/>
<line x1="523.35" y1="225.7" x2="523.35" y2="224.6" stroke="#777" stroke-width="0.5"/>
<line x1="532.52" y1="225.7" x2="532.52" y2="224.6" stroke="#777" stroke-width="0.5"/>
<line x1="541.69" y1="225.7" x2="541.69" y2="224.6" stroke="#777" stroke-width="0.5"/>
<line x1="550.86" y1="225.7" x2="550.86" y2="224.6" stroke="#777" stroke-width="0.5"/>
<line x1="560.03" y1="225.7" x2="560.03" y2="224.6" stroke="#777" stroke-width="0.5"/>
<line x1="569.20" y1="225.7" x2="569.20" y2="224.6" stroke="#777" stroke-width="0.5"/>
<line x1="476.4" y1="225.70" x2="477.5" y2="225.70" stroke="#777" stroke-width="0.6"/>
<line x1="476.4" y1="206.57" x2="477.5" y2="206.57" stroke="#777" stroke-width="0.6"/>
<line x1="476.4" y1="187.45" x2="477.5" y2="187.45" stroke="#777" stroke-width="0.6"/>
<line x1="476.4" y1="168.32" x2="477.5" y2="168.32" stroke="#777" stroke-width="0.6"/>
<line x1="476.4" y1="149.20" x2="477.5" y2="149.20" stroke="#777" stroke-width="0.6"/>
<text x="475.90" y="150.90" font-size="3.4" text-anchor="end" fill="#444" font-weight="normal" >2</text>
<text x="475.90" y="226.90" font-size="3.4" text-anchor="end" fill="#444" font-weight="normal" >0</text>
<text x="472.90" y="184.25" font-size="3.4" text-anchor="end" fill="#444" font-weight="normal" >CI</text>
<text x="477.80" y="231.50" font-size="3.4" text-anchor="middle" fill="#444" font-weight="normal" >0</text>
<text x="523.35" y="231.50" font-size="3.4" text-anchor="middle" fill="#444" font-weight="normal" >0.5</text>
<text x="569.20" y="231.50" font-size="3.4" text-anchor="middle" fill="#444" font-weight="normal" >1</text>
<text x="523.35" y="235.50" font-size="3.4" text-anchor="middle" fill="#444" font-weight="normal" >Fa</text>
<path d="M512.20 149.40 C513.70 152.65 518.37 162.55 521.20 168.90 C524.03 175.25 525.72 181.62 529.20 187.50 C532.68 193.38 537.82 199.53 542.10 204.20 C546.38 208.87 550.52 212.17 554.90 215.50 C559.28 218.83 566.15 222.75 568.40 224.20" fill="none" stroke="#4848c8" stroke-width="0.8"/>
<circle cx="537.3" cy="199.9" r="1.6" fill="none" stroke="#4848c8" stroke-width="0.6"/>
<circle cx="553.4" cy="211.6" r="1.6" fill="none" stroke="#4848c8" stroke-width="0.6"/>
<circle cx="565.8" cy="223" r="1.6" fill="none" stroke="#4848c8" stroke-width="0.6"/>
<text x="574.20" y="141.70" font-size="14.5" text-anchor="start" fill="#000" font-weight="normal" >(L)</text>
<line x1="588.3" y1="187.45" x2="680" y2="187.45" stroke="#d6d6d6" stroke-width="1.1"/>
<path d="M588.3 149.2 V225.7 H680" fill="none" stroke="#7a7a7a" stroke-width="0.8"/>
<line x1="588.30" y1="225.7" x2="588.30" y2="224.6" stroke="#777" stroke-width="0.5"/>
<line x1="597.47" y1="225.7" x2="597.47" y2="224.6" stroke="#777" stroke-width="0.5"/>
<line x1="606.64" y1="225.7" x2="606.64" y2="224.6" stroke="#777" stroke-width="0.5"/>
<line x1="615.81" y1="225.7" x2="615.81" y2="224.6" stroke="#777" stroke-width="0.5"/>
<line x1="624.98" y1="225.7" x2="624.98" y2="224.6" stroke="#777" stroke-width="0.5"/>
<line x1="634.15" y1="225.7" x2="634.15" y2="224.6" stroke="#777" stroke-width="0.5"/>
<line x1="643.32" y1="225.7" x2="643.32" y2="224.6" stroke="#777" stroke-width="0.5"/>
<line x1="652.49" y1="225.7" x2="652.49" y2="224.6" stroke="#777" stroke-width="0.5"/>
<line x1="661.66" y1="225.7" x2="661.66" y2="224.6" stroke="#777" stroke-width="0.5"/>
<line x1="670.83" y1="225.7" x2="670.83" y2="224.6" stroke="#777" stroke-width="0.5"/>
<line x1="680.00" y1="225.7" x2="680.00" y2="224.6" stroke="#777" stroke-width="0.5"/>
<line x1="587.1999999999999" y1="225.70" x2="588.3" y2="225.70" stroke="#777" stroke-width="0.6"/>
<line x1="587.1999999999999" y1="206.57" x2="588.3" y2="206.57" stroke="#777" stroke-width="0.6"/>
<line x1="587.1999999999999" y1="187.45" x2="588.3" y2="187.45" stroke="#777" stroke-width="0.6"/>
<line x1="587.1999999999999" y1="168.32" x2="588.3" y2="168.32" stroke="#777" stroke-width="0.6"/>
<line x1="587.1999999999999" y1="149.20" x2="588.3" y2="149.20" stroke="#777" stroke-width="0.6"/>
<text x="586.70" y="150.90" font-size="3.4" text-anchor="end" fill="#444" font-weight="normal" >2</text>
<text x="586.70" y="226.90" font-size="3.4" text-anchor="end" fill="#444" font-weight="normal" >0</text>
<text x="583.70" y="184.25" font-size="3.4" text-anchor="end" fill="#444" font-weight="normal" >CI</text>
<text x="588.60" y="231.50" font-size="3.4" text-anchor="middle" fill="#444" font-weight="normal" >0</text>
<text x="634.15" y="231.50" font-size="3.4" text-anchor="middle" fill="#444" font-weight="normal" >0.5</text>
<text x="680.00" y="231.50" font-size="3.4" text-anchor="middle" fill="#444" font-weight="normal" >1</text>
<text x="634.15" y="235.50" font-size="3.4" text-anchor="middle" fill="#444" font-weight="normal" >Fa</text>
<path d="M592 186.1 C600 195, 620 196, 640 198 S670 203, 678.3 204.6" fill="none" stroke="#4848c8" stroke-width="0.8"/>
<circle cx="634.6" cy="197.2" r="1.6" fill="none" stroke="#4848c8" stroke-width="0.6"/>
<circle cx="658.2" cy="201.2" r="1.6" fill="none" stroke="#4848c8" stroke-width="0.6"/>
<circle cx="671.6" cy="202.2" r="1.6" fill="none" stroke="#4848c8" stroke-width="0.6"/>
<text x="-0.20" y="273.90" font-size="14.6" text-anchor="start" fill="#000" font-weight="normal" >(M)</text>
<text x="89.30" y="275.60" font-size="10.2" text-anchor="middle" fill="#111" font-weight="normal" >Day 7</text>
<line x1="37.2" y1="281.5" x2="151.1" y2="281.5" stroke="#000" stroke-width="1.2"/>
<text x="214.80" y="275.60" font-size="10.2" text-anchor="middle" fill="#111" font-weight="normal" >Day 14</text>
<line x1="164.1" y1="281.5" x2="276" y2="281.5" stroke="#000" stroke-width="1.2"/>
<text x="341.40" y="275.60" font-size="10.2" text-anchor="middle" fill="#111" font-weight="normal" >Day 19</text>
<line x1="290.2" y1="281.5" x2="401.8" y2="281.5" stroke="#000" stroke-width="1.2"/>
<text x="0" y="0" font-size="12" text-anchor="middle" fill="#111" transform="translate(30.2 312.4) rotate(-90)">CTR</text>
<text x="0" y="0" font-size="12.3" text-anchor="middle" fill="#111" transform="translate(30.4 357.6) rotate(-90)">Chi</text>
<text x="0" y="0" font-size="12" text-anchor="middle" fill="#111" transform="translate(30.6 399.6) rotate(-90)">ARA-C</text>
<text x="0" y="0" font-size="11.6" text-anchor="start" fill="#111" transform="translate(13.6 461.6) rotate(-90)">Chi+</text>
<text x="0" y="0" font-size="11.6" text-anchor="start" fill="#111" transform="translate(27.5 461.6) rotate(-90)">ARA-C</text>
<g clip-path="url(#tc1)"><rect x="32.1" y="290.3" width="22.2" height="38.5" fill="#383838"/><rect x="32.1" y="290.3" width="22.2" height="38.5" fill="url(#stripes)"/><rect x="32.1" y="290.3" width="22.2" height="5.5" fill="#000" opacity="0.28"/><line x1="32.1" y1="322.90000000000003" x2="54.3" y2="323.5" stroke="#9a9a9a" stroke-width="0.6"/><path d="M42.30 291.30 C42.45 291.30 42.68 293.42 42.80 294.30 C42.92 295.18 42.75 296.03 43.00 296.60 C43.25 297.17 44.02 297.25 44.30 297.70 C44.58 298.15 44.37 298.77 44.70 299.30 C45.03 299.83 45.17 300.57 46.30 300.90 C47.43 301.23 50.60 301.08 51.50 301.30 C52.40 301.52 52.37 301.53 51.70 302.20 C51.03 302.87 48.17 304.12 47.50 305.30 C46.83 306.48 47.53 307.88 47.70 309.30 C47.87 310.72 48.20 312.47 48.50 313.80 C48.80 315.13 49.27 316.22 49.50 317.30 C49.73 318.38 49.90 319.47 49.90 320.30 C49.90 321.13 49.07 321.80 49.50 322.30 C49.93 322.80 52.03 323.00 52.50 323.30 C52.97 323.60 53.00 323.93 52.30 324.10 C51.60 324.27 49.42 324.13 48.30 324.30 C47.18 324.47 46.50 324.93 45.60 325.10 C44.70 325.27 43.82 325.30 42.90 325.30 C41.98 325.30 41.00 325.27 40.10 325.10 C39.20 324.93 38.57 324.47 37.50 324.30 C36.43 324.13 34.37 324.27 33.70 324.10 C33.03 323.93 33.03 323.60 33.50 323.30 C33.97 323.00 36.07 322.80 36.50 322.30 C36.93 321.80 36.10 321.13 36.10 320.30 C36.10 319.47 36.27 318.38 36.50 317.30 C36.73 316.22 37.23 315.13 37.50 313.80 C37.77 312.47 37.97 310.72 38.10 309.30 C38.23 307.88 38.90 306.57 38.30 305.30 C37.70 304.03 35.17 302.47 34.50 301.70 C33.83 300.93 33.63 300.83 34.30 300.70 C34.97 300.57 37.47 301.13 38.50 300.90 C39.53 300.67 40.07 299.83 40.50 299.30 C40.93 298.77 40.90 298.15 41.10 297.70 C41.30 297.25 41.57 297.17 41.70 296.60 C41.83 296.03 41.80 295.18 41.90 294.30 C42.00 293.42 42.15 291.30 42.30 291.30Z" fill="url(#mg7)" filter="url(#tex)"/></g>
<g clip-path="url(#tc2)"><rect x="56.4" y="290.3" width="22.2" height="38.5" fill="#3a3a3a"/><rect x="56.4" y="290.3" width="22.2" height="38.5" fill="url(#stripes)"/><rect x="56.4" y="290.3" width="22.2" height="5.5" fill="#000" opacity="0.28"/><line x1="56.4" y1="322.90000000000003" x2="78.6" y2="323.5" stroke="#9a9a9a" stroke-width="0.6"/><path d="M66.60 291.30 C66.75 291.30 66.98 293.42 67.10 294.30 C67.22 295.18 67.05 296.03 67.30 296.60 C67.55 297.17 68.32 297.25 68.60 297.70 C68.88 298.15 68.67 298.77 69.00 299.30 C69.33 299.83 69.47 300.57 70.60 300.90 C71.73 301.23 74.90 301.08 75.80 301.30 C76.70 301.52 76.67 301.53 76.00 302.20 C75.33 302.87 72.47 304.12 71.80 305.30 C71.13 306.48 71.83 307.88 72.00 309.30 C72.17 310.72 72.50 312.47 72.80 313.80 C73.10 315.13 73.57 316.22 73.80 317.30 C74.03 318.38 74.20 319.47 74.20 320.30 C74.20 321.13 73.37 321.80 73.80 322.30 C74.23 322.80 76.33 323.00 76.80 323.30 C77.27 323.60 77.30 323.93 76.60 324.10 C75.90 324.27 73.72 324.13 72.60 324.30 C71.48 324.47 70.80 324.93 69.90 325.10 C69.00 325.27 68.12 325.30 67.20 325.30 C66.28 325.30 65.30 325.27 64.40 325.10 C63.50 324.93 62.87 324.47 61.80 324.30 C60.73 324.13 58.67 324.27 58.00 324.10 C57.33 323.93 57.33 323.60 57.80 323.30 C58.27 323.00 60.37 322.80 60.80 322.30 C61.23 321.80 60.40 321.13 60.40 320.30 C60.40 319.47 60.57 318.38 60.80 317.30 C61.03 316.22 61.53 315.13 61.80 313.80 C62.07 312.47 62.27 310.72 62.40 309.30 C62.53 307.88 63.20 306.57 62.60 305.30 C62.00 304.03 59.47 302.47 58.80 301.70 C58.13 300.93 57.93 300.83 58.60 300.70 C59.27 300.57 61.77 301.13 62.80 300.90 C63.83 300.67 64.37 299.83 64.80 299.30 C65.23 298.77 65.20 298.15 65.40 297.70 C65.60 297.25 65.87 297.17 66.00 296.60 C66.13 296.03 66.10 295.18 66.20 294.30 C66.30 293.42 66.45 291.30 66.60 291.30Z" fill="url(#mg7)" filter="url(#tex)"/></g>
<g clip-path="url(#tc3)"><rect x="81.0" y="290.3" width="22.2" height="38.5" fill="#3a3a3a"/><rect x="81.0" y="290.3" width="22.2" height="38.5" fill="url(#stripes)"/><rect x="81.0" y="290.3" width="22.2" height="5.5" fill="#000" opacity="0.28"/><line x1="81.0" y1="322.90000000000003" x2="103.2" y2="323.5" stroke="#9a9a9a" stroke-width="0.6"/><path d="M91.20 291.30 C91.35 291.30 91.58 293.42 91.70 294.30 C91.82 295.18 91.65 296.03 91.90 296.60 C92.15 297.17 92.92 297.25 93.20 297.70 C93.48 298.15 93.27 298.77 93.60 299.30 C93.93 299.83 94.07 300.57 95.20 300.90 C96.33 301.23 99.50 301.08 100.40 301.30 C101.30 301.52 101.27 301.53 100.60 302.20 C99.93 302.87 97.07 304.12 96.40 305.30 C95.73 306.48 96.43 307.88 96.60 309.30 C96.77 310.72 97.10 312.47 97.40 313.80 C97.70 315.13 98.17 316.22 98.40 317.30 C98.63 318.38 98.80 319.47 98.80 320.30 C98.80 321.13 97.97 321.80 98.40 322.30 C98.83 322.80 100.93 323.00 101.40 323.30 C101.87 323.60 101.90 323.93 101.20 324.10 C100.50 324.27 98.32 324.13 97.20 324.30 C96.08 324.47 95.40 324.93 94.50 325.10 C93.60 325.27 92.72 325.30 91.80 325.30 C90.88 325.30 89.90 325.27 89.00 325.10 C88.10 324.93 87.47 324.47 86.40 324.30 C85.33 324.13 83.27 324.27 82.60 324.10 C81.93 323.93 81.93 323.60 82.40 323.30 C82.87 323.00 84.97 322.80 85.40 322.30 C85.83 321.80 85.00 321.13 85.00 320.30 C85.00 319.47 85.17 318.38 85.40 317.30 C85.63 316.22 86.13 315.13 86.40 313.80 C86.67 312.47 86.87 310.72 87.00 309.30 C87.13 307.88 87.80 306.57 87.20 305.30 C86.60 304.03 84.07 302.47 83.40 301.70 C82.73 300.93 82.53 300.83 83.20 300.70 C83.87 300.57 86.37 301.13 87.40 300.90 C88.43 300.67 88.97 299.83 89.40 299.30 C89.83 298.77 89.80 298.15 90.00 297.70 C90.20 297.25 90.47 297.17 90.60 296.60 C90.73 296.03 90.70 295.18 90.80 294.30 C90.90 293.42 91.05 291.30 91.20 291.30Z" fill="url(#mg7)" filter="url(#tex)"/></g>
<g clip-path="url(#tc4)"><rect x="105.6" y="290.3" width="22.2" height="38.5" fill="#3c3c3c"/><rect x="105.6" y="290.3" width="22.2" height="38.5" fill="url(#stripes)"/><rect x="105.6" y="290.3" width="22.2" height="5.5" fill="#000" opacity="0.28"/><line x1="105.6" y1="322.90000000000003" x2="127.8" y2="323.5" stroke="#9a9a9a" stroke-width="0.6"/><path d="M115.80 291.30 C115.95 291.30 116.18 293.42 116.30 294.30 C116.42 295.18 116.25 296.03 116.50 296.60 C116.75 297.17 117.52 297.25 117.80 297.70 C118.08 298.15 117.87 298.77 118.20 299.30 C118.53 299.83 118.67 300.57 119.80 300.90 C120.93 301.23 124.10 301.08 125.00 301.30 C125.90 301.52 125.87 301.53 125.20 302.20 C124.53 302.87 121.67 304.12 121.00 305.30 C120.33 306.48 121.03 307.88 121.20 309.30 C121.37 310.72 121.70 312.47 122.00 313.80 C122.30 315.13 122.77 316.22 123.00 317.30 C123.23 318.38 123.40 319.47 123.40 320.30 C123.40 321.13 122.57 321.80 123.00 322.30 C123.43 322.80 125.53 323.00 126.00 323.30 C126.47 323.60 126.50 323.93 125.80 324.10 C125.10 324.27 122.92 324.13 121.80 324.30 C120.68 324.47 120.00 324.93 119.10 325.10 C118.20 325.27 117.32 325.30 116.40 325.30 C115.48 325.30 114.50 325.27 113.60 325.10 C112.70 324.93 112.07 324.47 111.00 324.30 C109.93 324.13 107.87 324.27 107.20 324.10 C106.53 323.93 106.53 323.60 107.00 323.30 C107.47 323.00 109.57 322.80 110.00 322.30 C110.43 321.80 109.60 321.13 109.60 320.30 C109.60 319.47 109.77 318.38 110.00 317.30 C110.23 316.22 110.73 315.13 111.00 313.80 C111.27 312.47 111.47 310.72 111.60 309.30 C111.73 307.88 112.40 306.57 111.80 305.30 C111.20 304.03 108.67 302.47 108.00 301.70 C107.33 300.93 107.13 300.83 107.80 300.70 C108.47 300.57 110.97 301.13 112.00 300.90 C113.03 300.67 113.57 299.83 114.00 299.30 C114.43 298.77 114.40 298.15 114.60 297.70 C114.80 297.25 115.07 297.17 115.20 296.60 C115.33 296.03 115.30 295.18 115.40 294.30 C115.50 293.42 115.65 291.30 115.80 291.30Z" fill="url(#mg7)" filter="url(#tex)"/></g>
<g clip-path="url(#tc5)"><rect x="130.1" y="290.3" width="22.2" height="38.5" fill="#3a3a3a"/><rect x="130.1" y="290.3" width="22.2" height="38.5" fill="url(#stripes)"/><rect x="130.1" y="290.3" width="22.2" height="5.5" fill="#000" opacity="0.28"/><line x1="130.1" y1="322.90000000000003" x2="152.29999999999998" y2="323.5" stroke="#9a9a9a" stroke-width="0.6"/><path d="M140.30 291.30 C140.45 291.30 140.68 293.42 140.80 294.30 C140.92 295.18 140.75 296.03 141.00 296.60 C141.25 297.17 142.02 297.25 142.30 297.70 C142.58 298.15 142.37 298.77 142.70 299.30 C143.03 299.83 143.17 300.57 144.30 300.90 C145.43 301.23 148.60 301.08 149.50 301.30 C150.40 301.52 150.37 301.53 149.70 302.20 C149.03 302.87 146.17 304.12 145.50 305.30 C144.83 306.48 145.53 307.88 145.70 309.30 C145.87 310.72 146.20 312.47 146.50 313.80 C146.80 315.13 147.27 316.22 147.50 317.30 C147.73 318.38 147.90 319.47 147.90 320.30 C147.90 321.13 147.07 321.80 147.50 322.30 C147.93 322.80 150.03 323.00 150.50 323.30 C150.97 323.60 151.00 323.93 150.30 324.10 C149.60 324.27 147.42 324.13 146.30 324.30 C145.18 324.47 144.50 324.93 143.60 325.10 C142.70 325.27 141.82 325.30 140.90 325.30 C139.98 325.30 139.00 325.27 138.10 325.10 C137.20 324.93 136.57 324.47 135.50 324.30 C134.43 324.13 132.37 324.27 131.70 324.10 C131.03 323.93 131.03 323.60 131.50 323.30 C131.97 323.00 134.07 322.80 134.50 322.30 C134.93 321.80 134.10 321.13 134.10 320.30 C134.10 319.47 134.27 318.38 134.50 317.30 C134.73 316.22 135.23 315.13 135.50 313.80 C135.77 312.47 135.97 310.72 136.10 309.30 C136.23 307.88 136.90 306.57 136.30 305.30 C135.70 304.03 133.17 302.47 132.50 301.70 C131.83 300.93 131.63 300.83 132.30 300.70 C132.97 300.57 135.47 301.13 136.50 300.90 C137.53 300.67 138.07 299.83 138.50 299.30 C138.93 298.77 138.90 298.15 139.10 297.70 C139.30 297.25 139.57 297.17 139.70 296.60 C139.83 296.03 139.80 295.18 139.90 294.30 C140.00 293.42 140.15 291.30 140.30 291.30Z" fill="url(#mg7)" filter="url(#tex)"/></g>
<g clip-path="url(#tc6)"><rect x="158.0" y="290.3" width="22.2" height="38.5" fill="#5a5a5a"/><rect x="158.0" y="290.3" width="22.2" height="38.5" fill="url(#stripes)"/><line x1="158.0" y1="323.90000000000003" x2="180.2" y2="324.5" stroke="#b0b0b0" stroke-width="0.6"/><path d="M168.70 290.60 C168.83 290.60 168.97 292.43 169.10 293.30 C169.23 294.17 169.18 295.05 169.50 295.80 C169.82 296.55 170.45 297.02 171.00 297.80 C171.55 298.58 172.00 299.88 172.80 300.50 C173.60 301.12 175.28 301.17 175.80 301.50 C176.32 301.83 176.22 302.03 175.90 302.50 C175.58 302.97 174.12 303.42 173.90 304.30 C173.68 305.18 174.28 306.47 174.60 307.80 C174.92 309.13 175.50 310.85 175.80 312.30 C176.10 313.75 176.17 315.00 176.40 316.50 C176.63 318.00 176.90 320.03 177.20 321.30 C177.50 322.57 178.17 323.40 178.20 324.10 C178.23 324.80 178.18 325.20 177.40 325.50 C176.62 325.80 174.90 325.90 173.50 325.90 C172.10 325.90 170.50 325.50 169.00 325.50 C167.50 325.50 165.97 325.93 164.50 325.90 C163.03 325.87 161.15 325.53 160.20 325.30 C159.25 325.07 158.73 325.17 158.80 324.50 C158.87 323.83 160.17 322.63 160.60 321.30 C161.03 319.97 161.17 318.00 161.40 316.50 C161.63 315.00 161.82 313.75 162.00 312.30 C162.18 310.85 162.23 309.13 162.50 307.80 C162.77 306.47 163.78 305.08 163.60 304.30 C163.42 303.52 161.78 303.43 161.40 303.10 C161.02 302.77 160.77 302.73 161.30 302.30 C161.83 301.87 163.72 301.25 164.60 300.50 C165.48 299.75 166.05 298.58 166.60 297.80 C167.15 297.02 167.62 296.55 167.90 295.80 C168.18 295.05 168.17 294.17 168.30 293.30 C168.43 292.43 168.57 290.60 168.70 290.60Z" fill="url(#mg14)" filter="url(#tex14)"/><g filter="url(#bl2)"><ellipse cx="172.50" cy="314.80" rx="1.20" ry="1.80" fill="#2a10ff"/><ellipse cx="172.50" cy="314.80" rx="0.66" ry="0.99" fill="#1030ff"/><ellipse cx="162.00" cy="319.80" rx="1.20" ry="1.20" fill="#2a10ff"/><ellipse cx="162.00" cy="319.80" rx="0.66" ry="0.66" fill="#1030ff"/><ellipse cx="167.00" cy="323.80" rx="1.00" ry="1.00" fill="#2a10ff"/><ellipse cx="167.00" cy="323.80" rx="0.55" ry="0.55" fill="#1030ff"/><ellipse cx="176.00" cy="322.80" rx="1.50" ry="1.20" fill="#2a10ff"/><ellipse cx="176.00" cy="322.80" rx="0.83" ry="0.66" fill="#1030ff"/></g><g filter="url(#bl3)"><ellipse cx="172.00" cy="321.30" rx="4.00" ry="2.00" fill="#3010ff"/><ellipse cx="172.00" cy="321.30" rx="2.88" ry="1.44" fill="#00d0ff"/><ellipse cx="172.00" cy="321.30" rx="1.80" ry="0.90" fill="#10ff30"/></g></g>
<g clip-path="url(#tc7)"><rect x="182.7" y="290.3" width="22.2" height="38.5" fill="#555555"/><rect x="182.7" y="290.3" width="22.2" height="38.5" fill="url(#stripes)"/><line x1="182.7" y1="323.90000000000003" x2="204.89999999999998" y2="324.5" stroke="#b0b0b0" stroke-width="0.6"/><path d="M193.40 290.60 C193.53 290.60 193.67 292.43 193.80 293.30 C193.93 294.17 193.88 295.05 194.20 295.80 C194.52 296.55 195.15 297.02 195.70 297.80 C196.25 298.58 196.70 299.88 197.50 300.50 C198.30 301.12 199.98 301.17 200.50 301.50 C201.02 301.83 200.92 302.03 200.60 302.50 C200.28 302.97 198.82 303.42 198.60 304.30 C198.38 305.18 198.98 306.47 199.30 307.80 C199.62 309.13 200.20 310.85 200.50 312.30 C200.80 313.75 200.87 315.00 201.10 316.50 C201.33 318.00 201.60 320.03 201.90 321.30 C202.20 322.57 202.87 323.40 202.90 324.10 C202.93 324.80 202.88 325.20 202.10 325.50 C201.32 325.80 199.60 325.90 198.20 325.90 C196.80 325.90 195.20 325.50 193.70 325.50 C192.20 325.50 190.67 325.93 189.20 325.90 C187.73 325.87 185.85 325.53 184.90 325.30 C183.95 325.07 183.43 325.17 183.50 324.50 C183.57 323.83 184.87 322.63 185.30 321.30 C185.73 319.97 185.87 318.00 186.10 316.50 C186.33 315.00 186.52 313.75 186.70 312.30 C186.88 310.85 186.93 309.13 187.20 307.80 C187.47 306.47 188.48 305.08 188.30 304.30 C188.12 303.52 186.48 303.43 186.10 303.10 C185.72 302.77 185.47 302.73 186.00 302.30 C186.53 301.87 188.42 301.25 189.30 300.50 C190.18 299.75 190.75 298.58 191.30 297.80 C191.85 297.02 192.32 296.55 192.60 295.80 C192.88 295.05 192.87 294.17 193.00 293.30 C193.13 292.43 193.27 290.60 193.40 290.60Z" fill="url(#mg14)" filter="url(#tex14)"/><g filter="url(#bl2)"><ellipse cx="193.70" cy="303.80" rx="1.80" ry="1.50" fill="#3010ff"/><ellipse cx="193.70" cy="303.80" rx="1.30" ry="1.08" fill="#00d0ff"/><ellipse cx="193.70" cy="303.80" rx="0.81" ry="0.68" fill="#10ff30"/><ellipse cx="194.70" cy="321.80" rx="1.40" ry="1.50" fill="#3010ff"/><ellipse cx="194.70" cy="321.80" rx="0.84" ry="0.90" fill="#00c8ff"/></g></g>
<g clip-path="url(#tc8)"><rect x="207.6" y="290.3" width="22.2" height="38.5" fill="#5a5a5a"/><rect x="207.6" y="290.3" width="22.2" height="38.5" fill="url(#stripes)"/><line x1="207.6" y1="323.90000000000003" x2="229.79999999999998" y2="324.5" stroke="#b0b0b0" stroke-width="0.6"/><path d="M218.30 290.60 C218.43 290.60 218.57 292.43 218.70 293.30 C218.83 294.17 218.78 295.05 219.10 295.80 C219.42 296.55 220.05 297.02 220.60 297.80 C221.15 298.58 221.60 299.88 222.40 300.50 C223.20 301.12 224.88 301.17 225.40 301.50 C225.92 301.83 225.82 302.03 225.50 302.50 C225.18 302.97 223.72 303.42 223.50 304.30 C223.28 305.18 223.88 306.47 224.20 307.80 C224.52 309.13 225.10 310.85 225.40 312.30 C225.70 313.75 225.77 315.00 226.00 316.50 C226.23 318.00 226.50 320.03 226.80 321.30 C227.10 322.57 227.77 323.40 227.80 324.10 C227.83 324.80 227.78 325.20 227.00 325.50 C226.22 325.80 224.50 325.90 223.10 325.90 C221.70 325.90 220.10 325.50 218.60 325.50 C217.10 325.50 215.57 325.93 214.10 325.90 C212.63 325.87 210.75 325.53 209.80 325.30 C208.85 325.07 208.33 325.17 208.40 324.50 C208.47 323.83 209.77 322.63 210.20 321.30 C210.63 319.97 210.77 318.00 211.00 316.50 C211.23 315.00 211.42 313.75 211.60 312.30 C211.78 310.85 211.83 309.13 212.10 307.80 C212.37 306.47 213.38 305.08 213.20 304.30 C213.02 303.52 211.38 303.43 211.00 303.10 C210.62 302.77 210.37 302.73 210.90 302.30 C211.43 301.87 213.32 301.25 214.20 300.50 C215.08 299.75 215.65 298.58 216.20 297.80 C216.75 297.02 217.22 296.55 217.50 295.80 C217.78 295.05 217.77 294.17 217.90 293.30 C218.03 292.43 218.17 290.60 218.30 290.60Z" fill="url(#mg14)" filter="url(#tex14)"/><g filter="url(#bl2)"><ellipse cx="219.80" cy="306.10" rx="1.20" ry="2.00" fill="#2a10ff"/><ellipse cx="219.80" cy="306.10" rx="0.66" ry="1.10" fill="#1030ff"/><ellipse cx="212.30" cy="319.30" rx="2.00" ry="2.50" fill="#2a10ff"/><ellipse cx="212.30" cy="319.30" rx="1.10" ry="1.38" fill="#1030ff"/><ellipse cx="220.00" cy="325.00" rx="1.00" ry="1.00" fill="#2a10ff"/><ellipse cx="220.00" cy="325.00" rx="0.55" ry="0.55" fill="#1030ff"/></g><g filter="url(#bl3)"><ellipse cx="225.00" cy="319.60" rx="2.00" ry="2.80" fill="#3010ff"/><ellipse cx="225.00" cy="319.60" rx="1.64" ry="2.30" fill="#00d8ff"/><ellipse cx="225.00" cy="319.60" rx="1.32" ry="1.85" fill="#20ff20"/><ellipse cx="225.00" cy="319.60" rx="1.00" ry="1.40" fill="#ffff00"/><ellipse cx="225.00" cy="319.60" rx="0.72" ry="1.01" fill="#ff2000"/></g></g>
<g clip-path="url(#tc9)"><rect x="232.1" y="290.3" width="22.2" height="38.5" fill="#4e4e4e"/><rect x="232.1" y="290.3" width="22.2" height="38.5" fill="url(#stripes)"/><line x1="232.1" y1="323.90000000000003" x2="254.29999999999998" y2="324.5" stroke="#b0b0b0" stroke-width="0.6"/><path d="M242.80 290.60 C242.93 290.60 243.07 292.43 243.20 293.30 C243.33 294.17 243.28 295.05 243.60 295.80 C243.92 296.55 244.55 297.02 245.10 297.80 C245.65 298.58 246.10 299.88 246.90 300.50 C247.70 301.12 249.38 301.17 249.90 301.50 C250.42 301.83 250.32 302.03 250.00 302.50 C249.68 302.97 248.22 303.42 248.00 304.30 C247.78 305.18 248.38 306.47 248.70 307.80 C249.02 309.13 249.60 310.85 249.90 312.30 C250.20 313.75 250.27 315.00 250.50 316.50 C250.73 318.00 251.00 320.03 251.30 321.30 C251.60 322.57 252.27 323.40 252.30 324.10 C252.33 324.80 252.28 325.20 251.50 325.50 C250.72 325.80 249.00 325.90 247.60 325.90 C246.20 325.90 244.60 325.50 243.10 325.50 C241.60 325.50 240.07 325.93 238.60 325.90 C237.13 325.87 235.25 325.53 234.30 325.30 C233.35 325.07 232.83 325.17 232.90 324.50 C232.97 323.83 234.27 322.63 234.70 321.30 C235.13 319.97 235.27 318.00 235.50 316.50 C235.73 315.00 235.92 313.75 236.10 312.30 C236.28 310.85 236.33 309.13 236.60 307.80 C236.87 306.47 237.88 305.08 237.70 304.30 C237.52 303.52 235.88 303.43 235.50 303.10 C235.12 302.77 234.87 302.73 235.40 302.30 C235.93 301.87 237.82 301.25 238.70 300.50 C239.58 299.75 240.15 298.58 240.70 297.80 C241.25 297.02 241.72 296.55 242.00 295.80 C242.28 295.05 242.27 294.17 242.40 293.30 C242.53 292.43 242.67 290.60 242.80 290.60Z" fill="url(#mg14)" filter="url(#tex14)"/><g filter="url(#bl2)"><ellipse cx="241.60" cy="301.10" rx="1.40" ry="1.40" fill="#3010ff"/><ellipse cx="241.60" cy="301.10" rx="0.84" ry="0.84" fill="#00c8ff"/><ellipse cx="243.80" cy="307.50" rx="2.50" ry="1.50" fill="#2a10ff"/><ellipse cx="243.80" cy="307.50" rx="1.38" ry="0.83" fill="#1030ff"/><ellipse cx="243.60" cy="322.30" rx="1.00" ry="0.80" fill="#2a10ff"/><ellipse cx="243.60" cy="322.30" rx="0.55" ry="0.44" fill="#1030ff"/></g><g filter="url(#bl3)"><ellipse cx="238.20" cy="320.50" rx="2.60" ry="2.20" fill="#3010ff"/><ellipse cx="238.20" cy="320.50" rx="2.13" ry="1.80" fill="#00d8ff"/><ellipse cx="238.20" cy="320.50" rx="1.72" ry="1.45" fill="#20ff20"/><ellipse cx="238.20" cy="320.50" rx="1.30" ry="1.10" fill="#ffff00"/><ellipse cx="238.20" cy="320.50" rx="0.94" ry="0.79" fill="#ff2000"/><ellipse cx="248.80" cy="320.50" rx="2.60" ry="2.20" fill="#3010ff"/><ellipse cx="248.80" cy="320.50" rx="2.13" ry="1.80" fill="#00d8ff"/><ellipse cx="248.80" cy="320.50" rx="1.72" ry="1.45" fill="#20ff20"/><ellipse cx="248.80" cy="320.50" rx="1.30" ry="1.10" fill="#ffff00"/><ellipse cx="248.80" cy="320.50" rx="0.94" ry="0.79" fill="#ff2000"/></g></g>
<g clip-path="url(#tc10)"><rect x="256.4" y="290.3" width="22.2" height="38.5" fill="#5a5a5a"/><rect x="256.4" y="290.3" width="22.2" height="38.5" fill="url(#stripes)"/><line x1="256.4" y1="323.90000000000003" x2="278.59999999999997" y2="324.5" stroke="#b0b0b0" stroke-width="0.6"/><path d="M267.10 290.60 C267.23 290.60 267.37 292.43 267.50 293.30 C267.63 294.17 267.58 295.05 267.90 295.80 C268.22 296.55 268.85 297.02 269.40 297.80 C269.95 298.58 270.40 299.88 271.20 300.50 C272.00 301.12 273.68 301.17 274.20 301.50 C274.72 301.83 274.62 302.03 274.30 302.50 C273.98 302.97 272.52 303.42 272.30 304.30 C272.08 305.18 272.68 306.47 273.00 307.80 C273.32 309.13 273.90 310.85 274.20 312.30 C274.50 313.75 274.57 315.00 274.80 316.50 C275.03 318.00 275.30 320.03 275.60 321.30 C275.90 322.57 276.57 323.40 276.60 324.10 C276.63 324.80 276.58 325.20 275.80 325.50 C275.02 325.80 273.30 325.90 271.90 325.90 C270.50 325.90 268.90 325.50 267.40 325.50 C265.90 325.50 264.37 325.93 262.90 325.90 C261.43 325.87 259.55 325.53 258.60 325.30 C257.65 325.07 257.13 325.17 257.20 324.50 C257.27 323.83 258.57 322.63 259.00 321.30 C259.43 319.97 259.57 318.00 259.80 316.50 C260.03 315.00 260.22 313.75 260.40 312.30 C260.58 310.85 260.63 309.13 260.90 307.80 C261.17 306.47 262.18 305.08 262.00 304.30 C261.82 303.52 260.18 303.43 259.80 303.10 C259.42 302.77 259.17 302.73 259.70 302.30 C260.23 301.87 262.12 301.25 263.00 300.50 C263.88 299.75 264.45 298.58 265.00 297.80 C265.55 297.02 266.02 296.55 266.30 295.80 C266.58 295.05 266.57 294.17 266.70 293.30 C266.83 292.43 266.97 290.60 267.10 290.60Z" fill="url(#mg14)" filter="url(#tex14)"/><g filter="url(#bl2)"><ellipse cx="266.20" cy="303.00" rx="1.20" ry="1.10" fill="#2a10ff"/><ellipse cx="266.20" cy="303.00" rx="0.66" ry="0.61" fill="#1030ff"/><ellipse cx="262.90" cy="320.70" rx="2.50" ry="1.60" fill="#3010ff"/><ellipse cx="262.90" cy="320.70" rx="1.50" ry="0.96" fill="#00c8ff"/><ellipse cx="267.30" cy="323.50" rx="2.00" ry="2.50" fill="#2a10ff"/><ellipse cx="267.30" cy="323.50" rx="1.10" ry="1.38" fill="#1030ff"/><ellipse cx="273.40" cy="320.80" rx="2.50" ry="1.50" fill="#2a10ff"/><ellipse cx="273.40" cy="320.80" rx="1.38" ry="0.83" fill="#1030ff"/></g></g>
<g clip-path="url(#tc11)"><rect x="284.7" y="290.3" width="22.2" height="38.5" fill="#5a5a5a"/><rect x="284.7" y="290.3" width="22.2" height="38.5" fill="url(#stripes)"/><line x1="284.7" y1="323.90000000000003" x2="306.9" y2="324.5" stroke="#b0b0b0" stroke-width="0.6"/><path d="M295.40 290.60 C295.53 290.60 295.67 292.43 295.80 293.30 C295.93 294.17 295.88 295.05 296.20 295.80 C296.52 296.55 297.15 297.02 297.70 297.80 C298.25 298.58 298.70 299.88 299.50 300.50 C300.30 301.12 301.98 301.17 302.50 301.50 C303.02 301.83 302.92 302.03 302.60 302.50 C302.28 302.97 300.82 303.42 300.60 304.30 C300.38 305.18 300.98 306.47 301.30 307.80 C301.62 309.13 302.20 310.85 302.50 312.30 C302.80 313.75 302.87 315.00 303.10 316.50 C303.33 318.00 303.60 320.03 303.90 321.30 C304.20 322.57 304.87 323.40 304.90 324.10 C304.93 324.80 304.88 325.20 304.10 325.50 C303.32 325.80 301.60 325.90 300.20 325.90 C298.80 325.90 297.20 325.50 295.70 325.50 C294.20 325.50 292.67 325.93 291.20 325.90 C289.73 325.87 287.85 325.53 286.90 325.30 C285.95 325.07 285.43 325.17 285.50 324.50 C285.57 323.83 286.87 322.63 287.30 321.30 C287.73 319.97 287.87 318.00 288.10 316.50 C288.33 315.00 288.52 313.75 288.70 312.30 C288.88 310.85 288.93 309.13 289.20 307.80 C289.47 306.47 290.48 305.08 290.30 304.30 C290.12 303.52 288.48 303.43 288.10 303.10 C287.72 302.77 287.47 302.73 288.00 302.30 C288.53 301.87 290.42 301.25 291.30 300.50 C292.18 299.75 292.75 298.58 293.30 297.80 C293.85 297.02 294.32 296.55 294.60 295.80 C294.88 295.05 294.87 294.17 295.00 293.30 C295.13 292.43 295.27 290.60 295.40 290.60Z" fill="url(#mg14)" filter="url(#tex14)"/><g filter="url(#bl2)"><ellipse cx="293.80" cy="294.90" rx="2.00" ry="2.00" fill="#3010ff"/><ellipse cx="293.80" cy="294.90" rx="1.44" ry="1.44" fill="#00d0ff"/><ellipse cx="293.80" cy="294.90" rx="0.90" ry="0.90" fill="#10ff30"/></g><g filter="url(#bl3)"><ellipse cx="295.80" cy="307.70" rx="7.90" ry="9.80" fill="#3010ff"/><ellipse cx="295.80" cy="307.70" rx="6.48" ry="8.04" fill="#00d8ff"/><ellipse cx="295.80" cy="307.70" rx="5.21" ry="6.47" fill="#20ff20"/><ellipse cx="295.80" cy="307.70" rx="3.95" ry="4.90" fill="#ffff00"/><ellipse cx="295.80" cy="307.70" rx="2.84" ry="3.53" fill="#ff2000"/><ellipse cx="294.80" cy="303.70" rx="2.60" ry="3.20" fill="#3010ff"/><ellipse cx="294.80" cy="303.70" rx="2.42" ry="2.98" fill="#00d8ff"/><ellipse cx="294.80" cy="303.70" rx="2.29" ry="2.82" fill="#20ff20"/><ellipse cx="294.80" cy="303.70" rx="2.16" ry="2.66" fill="#ffee00"/><ellipse cx="294.80" cy="303.70" rx="2.03" ry="2.50" fill="#ff1000"/><ellipse cx="297.70" cy="309.30" rx="2.00" ry="2.50" fill="#3010ff"/><ellipse cx="297.70" cy="309.30" rx="1.86" ry="2.33" fill="#00d8ff"/><ellipse cx="297.70" cy="309.30" rx="1.76" ry="2.20" fill="#20ff20"/><ellipse cx="297.70" cy="309.30" rx="1.66" ry="2.07" fill="#ffee00"/><ellipse cx="297.70" cy="309.30" rx="1.56" ry="1.95" fill="#ff1000"/><ellipse cx="295.80" cy="321.40" rx="10.20" ry="7.50" fill="#3010ff"/><ellipse cx="295.80" cy="321.40" rx="9.49" ry="6.98" fill="#00d8ff"/><ellipse cx="295.80" cy="321.40" rx="8.98" ry="6.60" fill="#20ff20"/><ellipse cx="295.80" cy="321.40" rx="8.47" ry="6.22" fill="#ffee00"/><ellipse cx="295.80" cy="321.40" rx="7.96" ry="5.85" fill="#ff1000"/></g></g>
<g clip-path="url(#tc12)"><rect x="309.5" y="290.3" width="22.2" height="38.5" fill="#585858"/><rect x="309.5" y="290.3" width="22.2" height="38.5" fill="url(#stripes)"/><line x1="309.5" y1="323.90000000000003" x2="331.7" y2="324.5" stroke="#b0b0b0" stroke-width="0.6"/><path d="M320.20 290.60 C320.33 290.60 320.47 292.43 320.60 293.30 C320.73 294.17 320.68 295.05 321.00 295.80 C321.32 296.55 321.95 297.02 322.50 297.80 C323.05 298.58 323.50 299.88 324.30 300.50 C325.10 301.12 326.78 301.17 327.30 301.50 C327.82 301.83 327.72 302.03 327.40 302.50 C327.08 302.97 325.62 303.42 325.40 304.30 C325.18 305.18 325.78 306.47 326.10 307.80 C326.42 309.13 327.00 310.85 327.30 312.30 C327.60 313.75 327.67 315.00 327.90 316.50 C328.13 318.00 328.40 320.03 328.70 321.30 C329.00 322.57 329.67 323.40 329.70 324.10 C329.73 324.80 329.68 325.20 328.90 325.50 C328.12 325.80 326.40 325.90 325.00 325.90 C323.60 325.90 322.00 325.50 320.50 325.50 C319.00 325.50 317.47 325.93 316.00 325.90 C314.53 325.87 312.65 325.53 311.70 325.30 C310.75 325.07 310.23 325.17 310.30 324.50 C310.37 323.83 311.67 322.63 312.10 321.30 C312.53 319.97 312.67 318.00 312.90 316.50 C313.13 315.00 313.32 313.75 313.50 312.30 C313.68 310.85 313.73 309.13 314.00 307.80 C314.27 306.47 315.28 305.08 315.10 304.30 C314.92 303.52 313.28 303.43 312.90 303.10 C312.52 302.77 312.27 302.73 312.80 302.30 C313.33 301.87 315.22 301.25 316.10 300.50 C316.98 299.75 317.55 298.58 318.10 297.80 C318.65 297.02 319.12 296.55 319.40 295.80 C319.68 295.05 319.67 294.17 319.80 293.30 C319.93 292.43 320.07 290.60 320.20 290.60Z" fill="url(#mg14)" filter="url(#tex14)"/><g filter="url(#bl3)"><ellipse cx="318.40" cy="294.90" rx="2.20" ry="2.40" fill="#3010ff"/><ellipse cx="318.40" cy="294.90" rx="1.80" ry="1.97" fill="#00d8ff"/><ellipse cx="318.40" cy="294.90" rx="1.45" ry="1.58" fill="#20ff20"/><ellipse cx="318.40" cy="294.90" rx="1.10" ry="1.20" fill="#ffff00"/><ellipse cx="318.40" cy="294.90" rx="0.79" ry="0.86" fill="#ff2000"/><ellipse cx="319.40" cy="308.60" rx="7.80" ry="10.00" fill="#3010ff"/><ellipse cx="319.40" cy="308.60" rx="6.40" ry="8.20" fill="#00d8ff"/><ellipse cx="319.40" cy="308.60" rx="5.15" ry="6.60" fill="#20ff20"/><ellipse cx="319.40" cy="308.60" rx="3.90" ry="5.00" fill="#ffff00"/><ellipse cx="319.40" cy="308.60" rx="2.81" ry="3.60" fill="#ff2000"/><ellipse cx="323.30" cy="311.60" rx="3.00" ry="3.00" fill="#3010ff"/><ellipse cx="323.30" cy="311.60" rx="2.79" ry="2.79" fill="#00d8ff"/><ellipse cx="323.30" cy="311.60" rx="2.64" ry="2.64" fill="#20ff20"/><ellipse cx="323.30" cy="311.60" rx="2.49" ry="2.49" fill="#ffee00"/><ellipse cx="323.30" cy="311.60" rx="2.34" ry="2.34" fill="#ff1000"/><ellipse cx="320.40" cy="320.40" rx="9.20" ry="5.80" fill="#3010ff"/><ellipse cx="320.40" cy="320.40" rx="8.56" ry="5.39" fill="#00d8ff"/><ellipse cx="320.40" cy="320.40" rx="8.10" ry="5.10" fill="#20ff20"/><ellipse cx="320.40" cy="320.40" rx="7.64" ry="4.81" fill="#ffee00"/><ellipse cx="320.40" cy="320.40" rx="7.18" ry="4.52" fill="#ff1000"/></g></g>
<g clip-path="url(#tc13)"><rect x="334.2" y="290.3" width="22.2" height="38.5" fill="#5a5a5a"/><rect x="334.2" y="290.3" width="22.2" height="38.5" fill="url(#stripes)"/><line x1="334.2" y1="323.90000000000003" x2="356.4" y2="324.5" stroke="#b0b0b0" stroke-width="0.6"/><path d="M344.90 290.60 C345.03 290.60 345.17 292.43 345.30 293.30 C345.43 294.17 345.38 295.05 345.70 295.80 C346.02 296.55 346.65 297.02 347.20 297.80 C347.75 298.58 348.20 299.88 349.00 300.50 C349.80 301.12 351.48 301.17 352.00 301.50 C352.52 301.83 352.42 302.03 352.10 302.50 C351.78 302.97 350.32 303.42 350.10 304.30 C349.88 305.18 350.48 306.47 350.80 307.80 C351.12 309.13 351.70 310.85 352.00 312.30 C352.30 313.75 352.37 315.00 352.60 316.50 C352.83 318.00 353.10 320.03 353.40 321.30 C353.70 322.57 354.37 323.40 354.40 324.10 C354.43 324.80 354.38 325.20 353.60 325.50 C352.82 325.80 351.10 325.90 349.70 325.90 C348.30 325.90 346.70 325.50 345.20 325.50 C343.70 325.50 342.17 325.93 340.70 325.90 C339.23 325.87 337.35 325.53 336.40 325.30 C335.45 325.07 334.93 325.17 335.00 324.50 C335.07 323.83 336.37 322.63 336.80 321.30 C337.23 319.97 337.37 318.00 337.60 316.50 C337.83 315.00 338.02 313.75 338.20 312.30 C338.38 310.85 338.43 309.13 338.70 307.80 C338.97 306.47 339.98 305.08 339.80 304.30 C339.62 303.52 337.98 303.43 337.60 303.10 C337.22 302.77 336.97 302.73 337.50 302.30 C338.03 301.87 339.92 301.25 340.80 300.50 C341.68 299.75 342.25 298.58 342.80 297.80 C343.35 297.02 343.82 296.55 344.10 295.80 C344.38 295.05 344.37 294.17 344.50 293.30 C344.63 292.43 344.77 290.60 344.90 290.60Z" fill="url(#mg14)" filter="url(#tex14)"/><g filter="url(#bl2)"><ellipse cx="342.70" cy="302.90" rx="0.80" ry="0.80" fill="#2a10ff"/><ellipse cx="342.70" cy="302.90" rx="0.44" ry="0.44" fill="#1030ff"/></g><g filter="url(#bl3)"><ellipse cx="348.90" cy="299.80" rx="2.50" ry="2.50" fill="#3010ff"/><ellipse cx="348.90" cy="299.80" rx="2.05" ry="2.05" fill="#00d8ff"/><ellipse cx="348.90" cy="299.80" rx="1.65" ry="1.65" fill="#20ff20"/><ellipse cx="348.90" cy="299.80" rx="1.25" ry="1.25" fill="#ffff00"/><ellipse cx="348.90" cy="299.80" rx="0.90" ry="0.90" fill="#ff2000"/><ellipse cx="347.90" cy="313.60" rx="3.00" ry="3.50" fill="#3010ff"/><ellipse cx="347.90" cy="313.60" rx="2.79" ry="3.26" fill="#00d8ff"/><ellipse cx="347.90" cy="313.60" rx="2.64" ry="3.08" fill="#20ff20"/><ellipse cx="347.90" cy="313.60" rx="2.49" ry="2.90" fill="#ffee00"/><ellipse cx="347.90" cy="313.60" rx="2.34" ry="2.73" fill="#ff1000"/><ellipse cx="344.00" cy="322.40" rx="9.20" ry="6.60" fill="#3010ff"/><ellipse cx="344.00" cy="322.40" rx="8.56" ry="6.14" fill="#00d8ff"/><ellipse cx="344.00" cy="322.40" rx="8.10" ry="5.81" fill="#20ff20"/><ellipse cx="344.00" cy="322.40" rx="7.64" ry="5.48" fill="#ffee00"/><ellipse cx="344.00" cy="322.40" rx="7.18" ry="5.15" fill="#ff1000"/></g></g>
<g clip-path="url(#tc14)"><rect x="359.0" y="290.3" width="22.2" height="38.5" fill="#505050"/><rect x="359.0" y="290.3" width="22.2" height="38.5" fill="url(#stripes)"/><line x1="359.0" y1="323.90000000000003" x2="381.2" y2="324.5" stroke="#b0b0b0" stroke-width="0.6"/><path d="M369.70 290.60 C369.83 290.60 369.97 292.43 370.10 293.30 C370.23 294.17 370.18 295.05 370.50 295.80 C370.82 296.55 371.45 297.02 372.00 297.80 C372.55 298.58 373.00 299.88 373.80 300.50 C374.60 301.12 376.28 301.17 376.80 301.50 C377.32 301.83 377.22 302.03 376.90 302.50 C376.58 302.97 375.12 303.42 374.90 304.30 C374.68 305.18 375.28 306.47 375.60 307.80 C375.92 309.13 376.50 310.85 376.80 312.30 C377.10 313.75 377.17 315.00 377.40 316.50 C377.63 318.00 377.90 320.03 378.20 321.30 C378.50 322.57 379.17 323.40 379.20 324.10 C379.23 324.80 379.18 325.20 378.40 325.50 C377.62 325.80 375.90 325.90 374.50 325.90 C373.10 325.90 371.50 325.50 370.00 325.50 C368.50 325.50 366.97 325.93 365.50 325.90 C364.03 325.87 362.15 325.53 361.20 325.30 C360.25 325.07 359.73 325.17 359.80 324.50 C359.87 323.83 361.17 322.63 361.60 321.30 C362.03 319.97 362.17 318.00 362.40 316.50 C362.63 315.00 362.82 313.75 363.00 312.30 C363.18 310.85 363.23 309.13 363.50 307.80 C363.77 306.47 364.78 305.08 364.60 304.30 C364.42 303.52 362.78 303.43 362.40 303.10 C362.02 302.77 361.77 302.73 362.30 302.30 C362.83 301.87 364.72 301.25 365.60 300.50 C366.48 299.75 367.05 298.58 367.60 297.80 C368.15 297.02 368.62 296.55 368.90 295.80 C369.18 295.05 369.17 294.17 369.30 293.30 C369.43 292.43 369.57 290.60 369.70 290.60Z" fill="url(#mg14)" filter="url(#tex14)"/><g filter="url(#bl2)"><ellipse cx="369.60" cy="311.60" rx="2.50" ry="1.60" fill="#3010ff"/><ellipse cx="369.60" cy="311.60" rx="1.85" ry="1.18" fill="#00c0ff"/><ellipse cx="369.60" cy="311.60" rx="1.25" ry="0.80" fill="#ffffff"/></g><g filter="url(#bl3)"><ellipse cx="371.60" cy="302.70" rx="2.20" ry="4.00" fill="#3010ff"/><ellipse cx="371.60" cy="302.70" rx="2.05" ry="3.72" fill="#00d8ff"/><ellipse cx="371.60" cy="302.70" rx="1.94" ry="3.52" fill="#20ff20"/><ellipse cx="371.60" cy="302.70" rx="1.83" ry="3.32" fill="#ffee00"/><ellipse cx="371.60" cy="302.70" rx="1.72" ry="3.12" fill="#ff1000"/><ellipse cx="370.60" cy="320.40" rx="7.80" ry="5.60" fill="#3010ff"/><ellipse cx="370.60" cy="320.40" rx="7.25" ry="5.21" fill="#00d8ff"/><ellipse cx="370.60" cy="320.40" rx="6.86" ry="4.93" fill="#20ff20"/><ellipse cx="370.60" cy="320.40" rx="6.47" ry="4.65" fill="#ffee00"/><ellipse cx="370.60" cy="320.40" rx="6.08" ry="4.37" fill="#ff1000"/></g></g>
<rect x="383.40000000000003" y="290.8" width="21.8" height="37.5" fill="#fff" stroke="#8a8a8a" stroke-width="1"/>
<line x1="384.0" y1="327.8" x2="404.40000000000003" y2="291.3" stroke="#000" stroke-width="1.9"/>
<g clip-path="url(#tc15)"><rect x="32.1" y="336.1" width="22.2" height="38.5" fill="#4c4c4c"/><rect x="32.1" y="336.1" width="22.2" height="38.5" fill="url(#stripes)"/><rect x="32.1" y="336.1" width="22.2" height="5.5" fill="#000" opacity="0.28"/><line x1="32.1" y1="368.70000000000005" x2="54.3" y2="369.3" stroke="#9a9a9a" stroke-width="0.6"/><path d="M42.30 337.10 C42.45 337.10 42.68 339.22 42.80 340.10 C42.92 340.98 42.75 341.83 43.00 342.40 C43.25 342.97 44.02 343.05 44.30 343.50 C44.58 343.95 44.37 344.57 44.70 345.10 C45.03 345.63 45.17 346.37 46.30 346.70 C47.43 347.03 50.60 346.88 51.50 347.10 C52.40 347.32 52.37 347.33 51.70 348.00 C51.03 348.67 48.17 349.92 47.50 351.10 C46.83 352.28 47.53 353.68 47.70 355.10 C47.87 356.52 48.20 358.27 48.50 359.60 C48.80 360.93 49.27 362.02 49.50 363.10 C49.73 364.18 49.90 365.27 49.90 366.10 C49.90 366.93 49.07 367.60 49.50 368.10 C49.93 368.60 52.03 368.80 52.50 369.10 C52.97 369.40 53.00 369.73 52.30 369.90 C51.60 370.07 49.42 369.93 48.30 370.10 C47.18 370.27 46.50 370.73 45.60 370.90 C44.70 371.07 43.82 371.10 42.90 371.10 C41.98 371.10 41.00 371.07 40.10 370.90 C39.20 370.73 38.57 370.27 37.50 370.10 C36.43 369.93 34.37 370.07 33.70 369.90 C33.03 369.73 33.03 369.40 33.50 369.10 C33.97 368.80 36.07 368.60 36.50 368.10 C36.93 367.60 36.10 366.93 36.10 366.10 C36.10 365.27 36.27 364.18 36.50 363.10 C36.73 362.02 37.23 360.93 37.50 359.60 C37.77 358.27 37.97 356.52 38.10 355.10 C38.23 353.68 38.90 352.37 38.30 351.10 C37.70 349.83 35.17 348.27 34.50 347.50 C33.83 346.73 33.63 346.63 34.30 346.50 C34.97 346.37 37.47 346.93 38.50 346.70 C39.53 346.47 40.07 345.63 40.50 345.10 C40.93 344.57 40.90 343.95 41.10 343.50 C41.30 343.05 41.57 342.97 41.70 342.40 C41.83 341.83 41.80 340.98 41.90 340.10 C42.00 339.22 42.15 337.10 42.30 337.10Z" fill="url(#mg7)" filter="url(#tex)"/></g>
<g clip-path="url(#tc16)"><rect x="56.4" y="336.1" width="22.2" height="38.5" fill="#353535"/><rect x="56.4" y="336.1" width="22.2" height="38.5" fill="url(#stripes)"/><rect x="56.4" y="336.1" width="22.2" height="5.5" fill="#000" opacity="0.28"/><line x1="56.4" y1="368.70000000000005" x2="78.6" y2="369.3" stroke="#9a9a9a" stroke-width="0.6"/><path d="M66.60 337.10 C66.75 337.10 66.98 339.22 67.10 340.10 C67.22 340.98 67.05 341.83 67.30 342.40 C67.55 342.97 68.32 343.05 68.60 343.50 C68.88 343.95 68.67 344.57 69.00 345.10 C69.33 345.63 69.47 346.37 70.60 346.70 C71.73 347.03 74.90 346.88 75.80 347.10 C76.70 347.32 76.67 347.33 76.00 348.00 C75.33 348.67 72.47 349.92 71.80 351.10 C71.13 352.28 71.83 353.68 72.00 355.10 C72.17 356.52 72.50 358.27 72.80 359.60 C73.10 360.93 73.57 362.02 73.80 363.10 C74.03 364.18 74.20 365.27 74.20 366.10 C74.20 366.93 73.37 367.60 73.80 368.10 C74.23 368.60 76.33 368.80 76.80 369.10 C77.27 369.40 77.30 369.73 76.60 369.90 C75.90 370.07 73.72 369.93 72.60 370.10 C71.48 370.27 70.80 370.73 69.90 370.90 C69.00 371.07 68.12 371.10 67.20 371.10 C66.28 371.10 65.30 371.07 64.40 370.90 C63.50 370.73 62.87 370.27 61.80 370.10 C60.73 369.93 58.67 370.07 58.00 369.90 C57.33 369.73 57.33 369.40 57.80 369.10 C58.27 368.80 60.37 368.60 60.80 368.10 C61.23 367.60 60.40 366.93 60.40 366.10 C60.40 365.27 60.57 364.18 60.80 363.10 C61.03 362.02 61.53 360.93 61.80 359.60 C62.07 358.27 62.27 356.52 62.40 355.10 C62.53 353.68 63.20 352.37 62.60 351.10 C62.00 349.83 59.47 348.27 58.80 347.50 C58.13 346.73 57.93 346.63 58.60 346.50 C59.27 346.37 61.77 346.93 62.80 346.70 C63.83 346.47 64.37 345.63 64.80 345.10 C65.23 344.57 65.20 343.95 65.40 343.50 C65.60 343.05 65.87 342.97 66.00 342.40 C66.13 341.83 66.10 340.98 66.20 340.10 C66.30 339.22 66.45 337.10 66.60 337.10Z" fill="url(#mg7)" filter="url(#tex)"/></g>
<g clip-path="url(#tc17)"><rect x="81.0" y="336.1" width="22.2" height="38.5" fill="#3a3a3a"/><rect x="81.0" y="336.1" width="22.2" height="38.5" fill="url(#stripes)"/><rect x="81.0" y="336.1" width="22.2" height="5.5" fill="#000" opacity="0.28"/><line x1="81.0" y1="368.70000000000005" x2="103.2" y2="369.3" stroke="#9a9a9a" stroke-width="0.6"/><path d="M91.20 337.10 C91.35 337.10 91.58 339.22 91.70 340.10 C91.82 340.98 91.65 341.83 91.90 342.40 C92.15 342.97 92.92 343.05 93.20 343.50 C93.48 343.95 93.27 344.57 93.60 345.10 C93.93 345.63 94.07 346.37 95.20 346.70 C96.33 347.03 99.50 346.88 100.40 347.10 C101.30 347.32 101.27 347.33 100.60 348.00 C99.93 348.67 97.07 349.92 96.40 351.10 C95.73 352.28 96.43 353.68 96.60 355.10 C96.77 356.52 97.10 358.27 97.40 359.60 C97.70 360.93 98.17 362.02 98.40 363.10 C98.63 364.18 98.80 365.27 98.80 366.10 C98.80 366.93 97.97 367.60 98.40 368.10 C98.83 368.60 100.93 368.80 101.40 369.10 C101.87 369.40 101.90 369.73 101.20 369.90 C100.50 370.07 98.32 369.93 97.20 370.10 C96.08 370.27 95.40 370.73 94.50 370.90 C93.60 371.07 92.72 371.10 91.80 371.10 C90.88 371.10 89.90 371.07 89.00 370.90 C88.10 370.73 87.47 370.27 86.40 370.10 C85.33 369.93 83.27 370.07 82.60 369.90 C81.93 369.73 81.93 369.40 82.40 369.10 C82.87 368.80 84.97 368.60 85.40 368.10 C85.83 367.60 85.00 366.93 85.00 366.10 C85.00 365.27 85.17 364.18 85.40 363.10 C85.63 362.02 86.13 360.93 86.40 359.60 C86.67 358.27 86.87 356.52 87.00 355.10 C87.13 353.68 87.80 352.37 87.20 351.10 C86.60 349.83 84.07 348.27 83.40 347.50 C82.73 346.73 82.53 346.63 83.20 346.50 C83.87 346.37 86.37 346.93 87.40 346.70 C88.43 346.47 88.97 345.63 89.40 345.10 C89.83 344.57 89.80 343.95 90.00 343.50 C90.20 343.05 90.47 342.97 90.60 342.40 C90.73 341.83 90.70 340.98 90.80 340.10 C90.90 339.22 91.05 337.10 91.20 337.10Z" fill="url(#mg7)" filter="url(#tex)"/></g>
<g clip-path="url(#tc18)"><rect x="105.6" y="336.1" width="22.2" height="38.5" fill="#3c3c3c"/><rect x="105.6" y="336.1" width="22.2" height="38.5" fill="url(#stripes)"/><rect x="105.6" y="336.1" width="22.2" height="5.5" fill="#000" opacity="0.28"/><line x1="105.6" y1="368.70000000000005" x2="127.8" y2="369.3" stroke="#9a9a9a" stroke-width="0.6"/><path d="M115.80 337.10 C115.95 337.10 116.18 339.22 116.30 340.10 C116.42 340.98 116.25 341.83 116.50 342.40 C116.75 342.97 117.52 343.05 117.80 343.50 C118.08 343.95 117.87 344.57 118.20 345.10 C118.53 345.63 118.67 346.37 119.80 346.70 C120.93 347.03 124.10 346.88 125.00 347.10 C125.90 347.32 125.87 347.33 125.20 348.00 C124.53 348.67 121.67 349.92 121.00 351.10 C120.33 352.28 121.03 353.68 121.20 355.10 C121.37 356.52 121.70 358.27 122.00 359.60 C122.30 360.93 122.77 362.02 123.00 363.10 C123.23 364.18 123.40 365.27 123.40 366.10 C123.40 366.93 122.57 367.60 123.00 368.10 C123.43 368.60 125.53 368.80 126.00 369.10 C126.47 369.40 126.50 369.73 125.80 369.90 C125.10 370.07 122.92 369.93 121.80 370.10 C120.68 370.27 120.00 370.73 119.10 370.90 C118.20 371.07 117.32 371.10 116.40 371.10 C115.48 371.10 114.50 371.07 113.60 370.90 C112.70 370.73 112.07 370.27 111.00 370.10 C109.93 369.93 107.87 370.07 107.20 369.90 C106.53 369.73 106.53 369.40 107.00 369.10 C107.47 368.80 109.57 368.60 110.00 368.10 C110.43 367.60 109.60 366.93 109.60 366.10 C109.60 365.27 109.77 364.18 110.00 363.10 C110.23 362.02 110.73 360.93 111.00 359.60 C111.27 358.27 111.47 356.52 111.60 355.10 C111.73 353.68 112.40 352.37 111.80 351.10 C111.20 349.83 108.67 348.27 108.00 347.50 C107.33 346.73 107.13 346.63 107.80 346.50 C108.47 346.37 110.97 346.93 112.00 346.70 C113.03 346.47 113.57 345.63 114.00 345.10 C114.43 344.57 114.40 343.95 114.60 343.50 C114.80 343.05 115.07 342.97 115.20 342.40 C115.33 341.83 115.30 340.98 115.40 340.10 C115.50 339.22 115.65 337.10 115.80 337.10Z" fill="url(#mg7)" filter="url(#tex)"/></g>
<g clip-path="url(#tc19)"><rect x="130.1" y="336.1" width="22.2" height="38.5" fill="#444444"/><rect x="130.1" y="336.1" width="22.2" height="38.5" fill="url(#stripes)"/><rect x="130.1" y="336.1" width="22.2" height="5.5" fill="#000" opacity="0.28"/><line x1="130.1" y1="368.70000000000005" x2="152.29999999999998" y2="369.3" stroke="#9a9a9a" stroke-width="0.6"/><path d="M140.30 337.10 C140.45 337.10 140.68 339.22 140.80 340.10 C140.92 340.98 140.75 341.83 141.00 342.40 C141.25 342.97 142.02 343.05 142.30 343.50 C142.58 343.95 142.37 344.57 142.70 345.10 C143.03 345.63 143.17 346.37 144.30 346.70 C145.43 347.03 148.60 346.88 149.50 347.10 C150.40 347.32 150.37 347.33 149.70 348.00 C149.03 348.67 146.17 349.92 145.50 351.10 C144.83 352.28 145.53 353.68 145.70 355.10 C145.87 356.52 146.20 358.27 146.50 359.60 C146.80 360.93 147.27 362.02 147.50 363.10 C147.73 364.18 147.90 365.27 147.90 366.10 C147.90 366.93 147.07 367.60 147.50 368.10 C147.93 368.60 150.03 368.80 150.50 369.10 C150.97 369.40 151.00 369.73 150.30 369.90 C149.60 370.07 147.42 369.93 146.30 370.10 C145.18 370.27 144.50 370.73 143.60 370.90 C142.70 371.07 141.82 371.10 140.90 371.10 C139.98 371.10 139.00 371.07 138.10 370.90 C137.20 370.73 136.57 370.27 135.50 370.10 C134.43 369.93 132.37 370.07 131.70 369.90 C131.03 369.73 131.03 369.40 131.50 369.10 C131.97 368.80 134.07 368.60 134.50 368.10 C134.93 367.60 134.10 366.93 134.10 366.10 C134.10 365.27 134.27 364.18 134.50 363.10 C134.73 362.02 135.23 360.93 135.50 359.60 C135.77 358.27 135.97 356.52 136.10 355.10 C136.23 353.68 136.90 352.37 136.30 351.10 C135.70 349.83 133.17 348.27 132.50 347.50 C131.83 346.73 131.63 346.63 132.30 346.50 C132.97 346.37 135.47 346.93 136.50 346.70 C137.53 346.47 138.07 345.63 138.50 345.10 C138.93 344.57 138.90 343.95 139.10 343.50 C139.30 343.05 139.57 342.97 139.70 342.40 C139.83 341.83 139.80 340.98 139.90 340.10 C140.00 339.22 140.15 337.10 140.30 337.10Z" fill="url(#mg7)" filter="url(#tex)"/></g>
<g clip-path="url(#tc20)"><rect x="158.0" y="336.1" width="22.2" height="38.5" fill="#5a5a5a"/><rect x="158.0" y="336.1" width="22.2" height="38.5" fill="url(#stripes)"/><line x1="158.0" y1="369.70000000000005" x2="180.2" y2="370.3" stroke="#b0b0b0" stroke-width="0.6"/><path d="M168.70 336.40 C168.83 336.40 168.97 338.23 169.10 339.10 C169.23 339.97 169.18 340.85 169.50 341.60 C169.82 342.35 170.45 342.82 171.00 343.60 C171.55 344.38 172.00 345.68 172.80 346.30 C173.60 346.92 175.28 346.97 175.80 347.30 C176.32 347.63 176.22 347.83 175.90 348.30 C175.58 348.77 174.12 349.22 173.90 350.10 C173.68 350.98 174.28 352.27 174.60 353.60 C174.92 354.93 175.50 356.65 175.80 358.10 C176.10 359.55 176.17 360.80 176.40 362.30 C176.63 363.80 176.90 365.83 177.20 367.10 C177.50 368.37 178.17 369.20 178.20 369.90 C178.23 370.60 178.18 371.00 177.40 371.30 C176.62 371.60 174.90 371.70 173.50 371.70 C172.10 371.70 170.50 371.30 169.00 371.30 C167.50 371.30 165.97 371.73 164.50 371.70 C163.03 371.67 161.15 371.33 160.20 371.10 C159.25 370.87 158.73 370.97 158.80 370.30 C158.87 369.63 160.17 368.43 160.60 367.10 C161.03 365.77 161.17 363.80 161.40 362.30 C161.63 360.80 161.82 359.55 162.00 358.10 C162.18 356.65 162.23 354.93 162.50 353.60 C162.77 352.27 163.78 350.88 163.60 350.10 C163.42 349.32 161.78 349.23 161.40 348.90 C161.02 348.57 160.77 348.53 161.30 348.10 C161.83 347.67 163.72 347.05 164.60 346.30 C165.48 345.55 166.05 344.38 166.60 343.60 C167.15 342.82 167.62 342.35 167.90 341.60 C168.18 340.85 168.17 339.97 168.30 339.10 C168.43 338.23 168.57 336.40 168.70 336.40Z" fill="url(#mg14)" filter="url(#tex14)"/><g filter="url(#bl2)"><ellipse cx="171.70" cy="359.40" rx="1.50" ry="1.80" fill="#2a10ff"/><ellipse cx="171.70" cy="359.40" rx="0.83" ry="0.99" fill="#1030ff"/><ellipse cx="173.50" cy="366.30" rx="3.00" ry="2.00" fill="#3010ff"/><ellipse cx="173.50" cy="366.30" rx="2.16" ry="1.44" fill="#00d0ff"/><ellipse cx="173.50" cy="366.30" rx="1.35" ry="0.90" fill="#10ff30"/><ellipse cx="162.40" cy="365.70" rx="1.10" ry="1.10" fill="#2a10ff"/><ellipse cx="162.40" cy="365.70" rx="0.61" ry="0.61" fill="#1030ff"/><ellipse cx="171.00" cy="369.10" rx="1.00" ry="0.80" fill="#2a10ff"/><ellipse cx="171.00" cy="369.10" rx="0.55" ry="0.44" fill="#1030ff"/></g></g>
<g clip-path="url(#tc21)"><rect x="182.7" y="336.1" width="22.2" height="38.5" fill="#4c4c4c"/><rect x="182.7" y="336.1" width="22.2" height="38.5" fill="url(#stripes)"/><line x1="182.7" y1="369.70000000000005" x2="204.89999999999998" y2="370.3" stroke="#b0b0b0" stroke-width="0.6"/><path d="M193.40 336.40 C193.53 336.40 193.67 338.23 193.80 339.10 C193.93 339.97 193.88 340.85 194.20 341.60 C194.52 342.35 195.15 342.82 195.70 343.60 C196.25 344.38 196.70 345.68 197.50 346.30 C198.30 346.92 199.98 346.97 200.50 347.30 C201.02 347.63 200.92 347.83 200.60 348.30 C200.28 348.77 198.82 349.22 198.60 350.10 C198.38 350.98 198.98 352.27 199.30 353.60 C199.62 354.93 200.20 356.65 200.50 358.10 C200.80 359.55 200.87 360.80 201.10 362.30 C201.33 363.80 201.60 365.83 201.90 367.10 C202.20 368.37 202.87 369.20 202.90 369.90 C202.93 370.60 202.88 371.00 202.10 371.30 C201.32 371.60 199.60 371.70 198.20 371.70 C196.80 371.70 195.20 371.30 193.70 371.30 C192.20 371.30 190.67 371.73 189.20 371.70 C187.73 371.67 185.85 371.33 184.90 371.10 C183.95 370.87 183.43 370.97 183.50 370.30 C183.57 369.63 184.87 368.43 185.30 367.10 C185.73 365.77 185.87 363.80 186.10 362.30 C186.33 360.80 186.52 359.55 186.70 358.10 C186.88 356.65 186.93 354.93 187.20 353.60 C187.47 352.27 188.48 350.88 188.30 350.10 C188.12 349.32 186.48 349.23 186.10 348.90 C185.72 348.57 185.47 348.53 186.00 348.10 C186.53 347.67 188.42 347.05 189.30 346.30 C190.18 345.55 190.75 344.38 191.30 343.60 C191.85 342.82 192.32 342.35 192.60 341.60 C192.88 340.85 192.87 339.97 193.00 339.10 C193.13 338.23 193.27 336.40 193.40 336.40Z" fill="url(#mg14)" filter="url(#tex14)"/><g filter="url(#bl2)"><ellipse cx="196.70" cy="357.60" rx="1.30" ry="1.30" fill="#2a10ff"/><ellipse cx="196.70" cy="357.60" rx="0.72" ry="0.72" fill="#1030ff"/></g><g filter="url(#bl3)"><ellipse cx="193.50" cy="365.40" rx="8.00" ry="2.40" fill="#3010ff"/><ellipse cx="193.50" cy="365.40" rx="5.76" ry="1.73" fill="#00d0ff"/><ellipse cx="193.50" cy="365.40" rx="3.60" ry="1.08" fill="#10ff30"/><ellipse cx="187.70" cy="365.40" rx="2.00" ry="2.00" fill="#3010ff"/><ellipse cx="187.70" cy="365.40" rx="1.64" ry="1.64" fill="#00d8ff"/><ellipse cx="187.70" cy="365.40" rx="1.32" ry="1.32" fill="#20ff20"/><ellipse cx="187.70" cy="365.40" rx="1.00" ry="1.00" fill="#ffff00"/><ellipse cx="187.70" cy="365.40" rx="0.72" ry="0.72" fill="#ff2000"/></g></g>
<g clip-path="url(#tc22)"><rect x="207.6" y="336.1" width="22.2" height="38.5" fill="#525252"/><rect x="207.6" y="336.1" width="22.2" height="38.5" fill="url(#stripes)"/><line x1="207.6" y1="369.70000000000005" x2="229.79999999999998" y2="370.3" stroke="#b0b0b0" stroke-width="0.6"/><path d="M218.30 336.40 C218.43 336.40 218.57 338.23 218.70 339.10 C218.83 339.97 218.78 340.85 219.10 341.60 C219.42 342.35 220.05 342.82 220.60 343.60 C221.15 344.38 221.60 345.68 222.40 346.30 C223.20 346.92 224.88 346.97 225.40 347.30 C225.92 347.63 225.82 347.83 225.50 348.30 C225.18 348.77 223.72 349.22 223.50 350.10 C223.28 350.98 223.88 352.27 224.20 353.60 C224.52 354.93 225.10 356.65 225.40 358.10 C225.70 359.55 225.77 360.80 226.00 362.30 C226.23 363.80 226.50 365.83 226.80 367.10 C227.10 368.37 227.77 369.20 227.80 369.90 C227.83 370.60 227.78 371.00 227.00 371.30 C226.22 371.60 224.50 371.70 223.10 371.70 C221.70 371.70 220.10 371.30 218.60 371.30 C217.10 371.30 215.57 371.73 214.10 371.70 C212.63 371.67 210.75 371.33 209.80 371.10 C208.85 370.87 208.33 370.97 208.40 370.30 C208.47 369.63 209.77 368.43 210.20 367.10 C210.63 365.77 210.77 363.80 211.00 362.30 C211.23 360.80 211.42 359.55 211.60 358.10 C211.78 356.65 211.83 354.93 212.10 353.60 C212.37 352.27 213.38 350.88 213.20 350.10 C213.02 349.32 211.38 349.23 211.00 348.90 C210.62 348.57 210.37 348.53 210.90 348.10 C211.43 347.67 213.32 347.05 214.20 346.30 C215.08 345.55 215.65 344.38 216.20 343.60 C216.75 342.82 217.22 342.35 217.50 341.60 C217.78 340.85 217.77 339.97 217.90 339.10 C218.03 338.23 218.17 336.40 218.30 336.40Z" fill="url(#mg14)" filter="url(#tex14)"/><g filter="url(#bl2)"><ellipse cx="217.20" cy="350.50" rx="1.00" ry="1.00" fill="#2a10ff"/><ellipse cx="217.20" cy="350.50" rx="0.55" ry="0.55" fill="#1030ff"/><ellipse cx="221.80" cy="365.40" rx="3.00" ry="2.00" fill="#3010ff"/><ellipse cx="221.80" cy="365.40" rx="2.16" ry="1.44" fill="#00d0ff"/><ellipse cx="221.80" cy="365.40" rx="1.35" ry="0.90" fill="#10ff30"/><ellipse cx="212.60" cy="365.10" rx="1.20" ry="1.40" fill="#2a10ff"/><ellipse cx="212.60" cy="365.10" rx="0.66" ry="0.77" fill="#1030ff"/></g><g filter="url(#bl3)"><ellipse cx="226.60" cy="365.60" rx="1.50" ry="1.50" fill="#3010ff"/><ellipse cx="226.60" cy="365.60" rx="1.23" ry="1.23" fill="#00d8ff"/><ellipse cx="226.60" cy="365.60" rx="0.99" ry="0.99" fill="#20ff20"/><ellipse cx="226.60" cy="365.60" rx="0.75" ry="0.75" fill="#ffff00"/><ellipse cx="226.60" cy="365.60" rx="0.54" ry="0.54" fill="#ff2000"/></g></g>
<g clip-path="url(#tc23)"><rect x="232.1" y="336.1" width="22.2" height="38.5" fill="#5a5a5a"/><rect x="232.1" y="336.1" width="22.2" height="38.5" fill="url(#stripes)"/><line x1="232.1" y1="369.70000000000005" x2="254.29999999999998" y2="370.3" stroke="#b0b0b0" stroke-width="0.6"/><path d="M242.80 336.40 C242.93 336.40 243.07 338.23 243.20 339.10 C243.33 339.97 243.28 340.85 243.60 341.60 C243.92 342.35 244.55 342.82 245.10 343.60 C245.65 344.38 246.10 345.68 246.90 346.30 C247.70 346.92 249.38 346.97 249.90 347.30 C250.42 347.63 250.32 347.83 250.00 348.30 C249.68 348.77 248.22 349.22 248.00 350.10 C247.78 350.98 248.38 352.27 248.70 353.60 C249.02 354.93 249.60 356.65 249.90 358.10 C250.20 359.55 250.27 360.80 250.50 362.30 C250.73 363.80 251.00 365.83 251.30 367.10 C251.60 368.37 252.27 369.20 252.30 369.90 C252.33 370.60 252.28 371.00 251.50 371.30 C250.72 371.60 249.00 371.70 247.60 371.70 C246.20 371.70 244.60 371.30 243.10 371.30 C241.60 371.30 240.07 371.73 238.60 371.70 C237.13 371.67 235.25 371.33 234.30 371.10 C233.35 370.87 232.83 370.97 232.90 370.30 C232.97 369.63 234.27 368.43 234.70 367.10 C235.13 365.77 235.27 363.80 235.50 362.30 C235.73 360.80 235.92 359.55 236.10 358.10 C236.28 356.65 236.33 354.93 236.60 353.60 C236.87 352.27 237.88 350.88 237.70 350.10 C237.52 349.32 235.88 349.23 235.50 348.90 C235.12 348.57 234.87 348.53 235.40 348.10 C235.93 347.67 237.82 347.05 238.70 346.30 C239.58 345.55 240.15 344.38 240.70 343.60 C241.25 342.82 241.72 342.35 242.00 341.60 C242.28 340.85 242.27 339.97 242.40 339.10 C242.53 338.23 242.67 336.40 242.80 336.40Z" fill="url(#mg14)" filter="url(#tex14)"/><g filter="url(#bl2)"><ellipse cx="243.10" cy="343.10" rx="1.00" ry="1.00" fill="#2a10ff"/><ellipse cx="243.10" cy="343.10" rx="0.55" ry="0.55" fill="#1030ff"/><ellipse cx="247.70" cy="365.40" rx="2.00" ry="2.00" fill="#3010ff"/><ellipse cx="247.70" cy="365.40" rx="1.44" ry="1.44" fill="#00d0ff"/><ellipse cx="247.70" cy="365.40" rx="0.90" ry="0.90" fill="#10ff30"/></g></g>
<g clip-path="url(#tc24)"><rect x="256.4" y="336.1" width="22.2" height="38.5" fill="#404040"/><rect x="256.4" y="336.1" width="22.2" height="38.5" fill="url(#stripes)"/><line x1="256.4" y1="369.70000000000005" x2="278.59999999999997" y2="370.3" stroke="#b0b0b0" stroke-width="0.6"/><path d="M267.10 336.40 C267.23 336.40 267.37 338.23 267.50 339.10 C267.63 339.97 267.58 340.85 267.90 341.60 C268.22 342.35 268.85 342.82 269.40 343.60 C269.95 344.38 270.40 345.68 271.20 346.30 C272.00 346.92 273.68 346.97 274.20 347.30 C274.72 347.63 274.62 347.83 274.30 348.30 C273.98 348.77 272.52 349.22 272.30 350.10 C272.08 350.98 272.68 352.27 273.00 353.60 C273.32 354.93 273.90 356.65 274.20 358.10 C274.50 359.55 274.57 360.80 274.80 362.30 C275.03 363.80 275.30 365.83 275.60 367.10 C275.90 368.37 276.57 369.20 276.60 369.90 C276.63 370.60 276.58 371.00 275.80 371.30 C275.02 371.60 273.30 371.70 271.90 371.70 C270.50 371.70 268.90 371.30 267.40 371.30 C265.90 371.30 264.37 371.73 262.90 371.70 C261.43 371.67 259.55 371.33 258.60 371.10 C257.65 370.87 257.13 370.97 257.20 370.30 C257.27 369.63 258.57 368.43 259.00 367.10 C259.43 365.77 259.57 363.80 259.80 362.30 C260.03 360.80 260.22 359.55 260.40 358.10 C260.58 356.65 260.63 354.93 260.90 353.60 C261.17 352.27 262.18 350.88 262.00 350.10 C261.82 349.32 260.18 349.23 259.80 348.90 C259.42 348.57 259.17 348.53 259.70 348.10 C260.23 347.67 262.12 347.05 263.00 346.30 C263.88 345.55 264.45 344.38 265.00 343.60 C265.55 342.82 266.02 342.35 266.30 341.60 C266.58 340.85 266.57 339.97 266.70 339.10 C266.83 338.23 266.97 336.40 267.10 336.40Z" fill="url(#mg14)" filter="url(#tex14)"/><g filter="url(#bl2)"><ellipse cx="266.80" cy="346.50" rx="1.10" ry="1.10" fill="#2a10ff"/><ellipse cx="266.80" cy="346.50" rx="0.61" ry="0.61" fill="#1030ff"/><ellipse cx="266.20" cy="365.40" rx="1.50" ry="2.00" fill="#2a10ff"/><ellipse cx="266.20" cy="365.40" rx="0.83" ry="1.10" fill="#1030ff"/><ellipse cx="273.30" cy="364.40" rx="1.50" ry="2.30" fill="#2a10ff"/><ellipse cx="273.30" cy="364.40" rx="0.83" ry="1.26" fill="#1030ff"/><ellipse cx="263.40" cy="369.10" rx="0.90" ry="0.90" fill="#2a10ff"/><ellipse cx="263.40" cy="369.10" rx="0.50" ry="0.50" fill="#1030ff"/></g></g>
<g clip-path="url(#tc25)"><rect x="284.7" y="336.1" width="22.2" height="38.5" fill="#585858"/><rect x="284.7" y="336.1" width="22.2" height="38.5" fill="url(#stripes)"/><line x1="284.7" y1="369.70000000000005" x2="306.9" y2="370.3" stroke="#b0b0b0" stroke-width="0.6"/><path d="M295.40 336.40 C295.53 336.40 295.67 338.23 295.80 339.10 C295.93 339.97 295.88 340.85 296.20 341.60 C296.52 342.35 297.15 342.82 297.70 343.60 C298.25 344.38 298.70 345.68 299.50 346.30 C300.30 346.92 301.98 346.97 302.50 347.30 C303.02 347.63 302.92 347.83 302.60 348.30 C302.28 348.77 300.82 349.22 300.60 350.10 C300.38 350.98 300.98 352.27 301.30 353.60 C301.62 354.93 302.20 356.65 302.50 358.10 C302.80 359.55 302.87 360.80 303.10 362.30 C303.33 363.80 303.60 365.83 303.90 367.10 C304.20 368.37 304.87 369.20 304.90 369.90 C304.93 370.60 304.88 371.00 304.10 371.30 C303.32 371.60 301.60 371.70 300.20 371.70 C298.80 371.70 297.20 371.30 295.70 371.30 C294.20 371.30 292.67 371.73 291.20 371.70 C289.73 371.67 287.85 371.33 286.90 371.10 C285.95 370.87 285.43 370.97 285.50 370.30 C285.57 369.63 286.87 368.43 287.30 367.10 C287.73 365.77 287.87 363.80 288.10 362.30 C288.33 360.80 288.52 359.55 288.70 358.10 C288.88 356.65 288.93 354.93 289.20 353.60 C289.47 352.27 290.48 350.88 290.30 350.10 C290.12 349.32 288.48 349.23 288.10 348.90 C287.72 348.57 287.47 348.53 288.00 348.10 C288.53 347.67 290.42 347.05 291.30 346.30 C292.18 345.55 292.75 344.38 293.30 343.60 C293.85 342.82 294.32 342.35 294.60 341.60 C294.88 340.85 294.87 339.97 295.00 339.10 C295.13 338.23 295.27 336.40 295.40 336.40Z" fill="url(#mg14)" filter="url(#tex14)"/><g filter="url(#bl2)"><ellipse cx="290.90" cy="345.10" rx="1.00" ry="1.00" fill="#2a10ff"/><ellipse cx="290.90" cy="345.10" rx="0.55" ry="0.55" fill="#1030ff"/><ellipse cx="294.80" cy="347.00" rx="1.00" ry="1.00" fill="#2a10ff"/><ellipse cx="294.80" cy="347.00" rx="0.55" ry="0.55" fill="#1030ff"/><ellipse cx="297.70" cy="344.10" rx="1.00" ry="1.00" fill="#2a10ff"/><ellipse cx="297.70" cy="344.10" rx="0.55" ry="0.55" fill="#1030ff"/></g><g filter="url(#bl3)"><ellipse cx="296.80" cy="356.90" rx="3.50" ry="2.80" fill="#3010ff"/><ellipse cx="296.80" cy="356.90" rx="2.10" ry="1.68" fill="#ffffff"/><ellipse cx="296.80" cy="356.90" rx="1.22" ry="0.98" fill="#ff1a00"/><ellipse cx="295.80" cy="366.70" rx="10.00" ry="5.50" fill="#3010ff"/><ellipse cx="295.80" cy="366.70" rx="8.50" ry="4.67" fill="#00d8ff"/><ellipse cx="295.80" cy="366.70" rx="7.20" ry="3.96" fill="#20ff20"/><ellipse cx="295.80" cy="366.70" rx="6.00" ry="3.30" fill="#ffee00"/><ellipse cx="295.80" cy="366.70" rx="4.80" ry="2.64" fill="#ff1a00"/><ellipse cx="299.70" cy="366.70" rx="5.50" ry="3.50" fill="#3010ff"/><ellipse cx="299.70" cy="366.70" rx="5.12" ry="3.26" fill="#00d8ff"/><ellipse cx="299.70" cy="366.70" rx="4.84" ry="3.08" fill="#20ff20"/><ellipse cx="299.70" cy="366.70" rx="4.56" ry="2.90" fill="#ffee00"/><ellipse cx="299.70" cy="366.70" rx="4.29" ry="2.73" fill="#ff1000"/></g></g>
<g clip-path="url(#tc26)"><rect x="309.5" y="336.1" width="22.2" height="38.5" fill="#585858"/><rect x="309.5" y="336.1" width="22.2" height="38.5" fill="url(#stripes)"/><line x1="309.5" y1="369.70000000000005" x2="331.7" y2="370.3" stroke="#b0b0b0" stroke-width="0.6"/><path d="M320.20 336.40 C320.33 336.40 320.47 338.23 320.60 339.10 C320.73 339.97 320.68 340.85 321.00 341.60 C321.32 342.35 321.95 342.82 322.50 343.60 C323.05 344.38 323.50 345.68 324.30 346.30 C325.10 346.92 326.78 346.97 327.30 347.30 C327.82 347.63 327.72 347.83 327.40 348.30 C327.08 348.77 325.62 349.22 325.40 350.10 C325.18 350.98 325.78 352.27 326.10 353.60 C326.42 354.93 327.00 356.65 327.30 358.10 C327.60 359.55 327.67 360.80 327.90 362.30 C328.13 363.80 328.40 365.83 328.70 367.10 C329.00 368.37 329.67 369.20 329.70 369.90 C329.73 370.60 329.68 371.00 328.90 371.30 C328.12 371.60 326.40 371.70 325.00 371.70 C323.60 371.70 322.00 371.30 320.50 371.30 C319.00 371.30 317.47 371.73 316.00 371.70 C314.53 371.67 312.65 371.33 311.70 371.10 C310.75 370.87 310.23 370.97 310.30 370.30 C310.37 369.63 311.67 368.43 312.10 367.10 C312.53 365.77 312.67 363.80 312.90 362.30 C313.13 360.80 313.32 359.55 313.50 358.10 C313.68 356.65 313.73 354.93 314.00 353.60 C314.27 352.27 315.28 350.88 315.10 350.10 C314.92 349.32 313.28 349.23 312.90 348.90 C312.52 348.57 312.27 348.53 312.80 348.10 C313.33 347.67 315.22 347.05 316.10 346.30 C316.98 345.55 317.55 344.38 318.10 343.60 C318.65 342.82 319.12 342.35 319.40 341.60 C319.68 340.85 319.67 339.97 319.80 339.10 C319.93 338.23 320.07 336.40 320.20 336.40Z" fill="url(#mg14)" filter="url(#tex14)"/><g filter="url(#bl2)"><ellipse cx="313.50" cy="347.00" rx="1.20" ry="1.20" fill="#2a10ff"/><ellipse cx="313.50" cy="347.00" rx="0.66" ry="0.66" fill="#1030ff"/><ellipse cx="323.30" cy="349.00" rx="1.20" ry="1.20" fill="#2a10ff"/><ellipse cx="323.30" cy="349.00" rx="0.66" ry="0.66" fill="#1030ff"/><ellipse cx="321.40" cy="355.90" rx="2.80" ry="2.80" fill="#3010ff"/><ellipse cx="321.40" cy="355.90" rx="1.68" ry="1.68" fill="#ffffff"/><ellipse cx="321.40" cy="355.90" rx="0.98" ry="0.98" fill="#ff1a00"/></g><g filter="url(#bl3)"><ellipse cx="319.40" cy="366.70" rx="9.50" ry="5.50" fill="#3010ff"/><ellipse cx="319.40" cy="366.70" rx="8.07" ry="4.67" fill="#00d8ff"/><ellipse cx="319.40" cy="366.70" rx="6.84" ry="3.96" fill="#20ff20"/><ellipse cx="319.40" cy="366.70" rx="5.70" ry="3.30" fill="#ffee00"/><ellipse cx="319.40" cy="366.70" rx="4.56" ry="2.64" fill="#ff1a00"/><ellipse cx="324.30" cy="363.80" rx="4.50" ry="3.20" fill="#3010ff"/><ellipse cx="324.30" cy="363.80" rx="4.19" ry="2.98" fill="#00d8ff"/><ellipse cx="324.30" cy="363.80" rx="3.96" ry="2.82" fill="#20ff20"/><ellipse cx="324.30" cy="363.80" rx="3.73" ry="2.66" fill="#ffee00"/><ellipse cx="324.30" cy="363.80" rx="3.51" ry="2.50" fill="#ff1000"/></g></g>
<g clip-path="url(#tc27)"><rect x="334.2" y="336.1" width="22.2" height="38.5" fill="#555555"/><rect x="334.2" y="336.1" width="22.2" height="38.5" fill="url(#stripes)"/><line x1="334.2" y1="369.70000000000005" x2="356.4" y2="370.3" stroke="#b0b0b0" stroke-width="0.6"/><path d="M344.90 336.40 C345.03 336.40 345.17 338.23 345.30 339.10 C345.43 339.97 345.38 340.85 345.70 341.60 C346.02 342.35 346.65 342.82 347.20 343.60 C347.75 344.38 348.20 345.68 349.00 346.30 C349.80 346.92 351.48 346.97 352.00 347.30 C352.52 347.63 352.42 347.83 352.10 348.30 C351.78 348.77 350.32 349.22 350.10 350.10 C349.88 350.98 350.48 352.27 350.80 353.60 C351.12 354.93 351.70 356.65 352.00 358.10 C352.30 359.55 352.37 360.80 352.60 362.30 C352.83 363.80 353.10 365.83 353.40 367.10 C353.70 368.37 354.37 369.20 354.40 369.90 C354.43 370.60 354.38 371.00 353.60 371.30 C352.82 371.60 351.10 371.70 349.70 371.70 C348.30 371.70 346.70 371.30 345.20 371.30 C343.70 371.30 342.17 371.73 340.70 371.70 C339.23 371.67 337.35 371.33 336.40 371.10 C335.45 370.87 334.93 370.97 335.00 370.30 C335.07 369.63 336.37 368.43 336.80 367.10 C337.23 365.77 337.37 363.80 337.60 362.30 C337.83 360.80 338.02 359.55 338.20 358.10 C338.38 356.65 338.43 354.93 338.70 353.60 C338.97 352.27 339.98 350.88 339.80 350.10 C339.62 349.32 337.98 349.23 337.60 348.90 C337.22 348.57 336.97 348.53 337.50 348.10 C338.03 347.67 339.92 347.05 340.80 346.30 C341.68 345.55 342.25 344.38 342.80 343.60 C343.35 342.82 343.82 342.35 344.10 341.60 C344.38 340.85 344.37 339.97 344.50 339.10 C344.63 338.23 344.77 336.40 344.90 336.40Z" fill="url(#mg14)" filter="url(#tex14)"/><g filter="url(#bl2)"><ellipse cx="345.00" cy="338.10" rx="1.20" ry="1.20" fill="#2a10ff"/><ellipse cx="345.00" cy="338.10" rx="0.66" ry="0.66" fill="#1030ff"/></g><g filter="url(#bl3)"><ellipse cx="345.00" cy="351.90" rx="5.50" ry="8.50" fill="#3010ff"/><ellipse cx="345.00" cy="351.90" rx="4.07" ry="6.29" fill="#00c0ff"/><ellipse cx="345.00" cy="351.90" rx="2.75" ry="4.25" fill="#ffffff"/><ellipse cx="345.00" cy="351.90" rx="3.50" ry="6.00" fill="#3010ff"/><ellipse cx="345.00" cy="351.90" rx="2.52" ry="4.32" fill="#00d0ff"/><ellipse cx="345.00" cy="351.90" rx="1.57" ry="2.70" fill="#10ff30"/><ellipse cx="347.00" cy="354.90" rx="2.20" ry="2.20" fill="#3010ff"/><ellipse cx="347.00" cy="354.90" rx="2.05" ry="2.05" fill="#00d8ff"/><ellipse cx="347.00" cy="354.90" rx="1.94" ry="1.94" fill="#20ff20"/><ellipse cx="347.00" cy="354.90" rx="1.83" ry="1.83" fill="#ffee00"/><ellipse cx="347.00" cy="354.90" rx="1.72" ry="1.72" fill="#ff1000"/><ellipse cx="346.00" cy="364.70" rx="9.50" ry="5.00" fill="#3010ff"/><ellipse cx="346.00" cy="364.70" rx="8.84" ry="4.65" fill="#00d8ff"/><ellipse cx="346.00" cy="364.70" rx="8.36" ry="4.40" fill="#20ff20"/><ellipse cx="346.00" cy="364.70" rx="7.88" ry="4.15" fill="#ffee00"/><ellipse cx="346.00" cy="364.70" rx="7.41" ry="3.90" fill="#ff1000"/></g></g>
<g clip-path="url(#tc28)"><rect x="359.0" y="336.1" width="22.2" height="38.5" fill="#585858"/><rect x="359.0" y="336.1" width="22.2" height="38.5" fill="url(#stripes)"/><line x1="359.0" y1="369.70000000000005" x2="381.2" y2="370.3" stroke="#b0b0b0" stroke-width="0.6"/><path d="M369.70 336.40 C369.83 336.40 369.97 338.23 370.10 339.10 C370.23 339.97 370.18 340.85 370.50 341.60 C370.82 342.35 371.45 342.82 372.00 343.60 C372.55 344.38 373.00 345.68 373.80 346.30 C374.60 346.92 376.28 346.97 376.80 347.30 C377.32 347.63 377.22 347.83 376.90 348.30 C376.58 348.77 375.12 349.22 374.90 350.10 C374.68 350.98 375.28 352.27 375.60 353.60 C375.92 354.93 376.50 356.65 376.80 358.10 C377.10 359.55 377.17 360.80 377.40 362.30 C377.63 363.80 377.90 365.83 378.20 367.10 C378.50 368.37 379.17 369.20 379.20 369.90 C379.23 370.60 379.18 371.00 378.40 371.30 C377.62 371.60 375.90 371.70 374.50 371.70 C373.10 371.70 371.50 371.30 370.00 371.30 C368.50 371.30 366.97 371.73 365.50 371.70 C364.03 371.67 362.15 371.33 361.20 371.10 C360.25 370.87 359.73 370.97 359.80 370.30 C359.87 369.63 361.17 368.43 361.60 367.10 C362.03 365.77 362.17 363.80 362.40 362.30 C362.63 360.80 362.82 359.55 363.00 358.10 C363.18 356.65 363.23 354.93 363.50 353.60 C363.77 352.27 364.78 350.88 364.60 350.10 C364.42 349.32 362.78 349.23 362.40 348.90 C362.02 348.57 361.77 348.53 362.30 348.10 C362.83 347.67 364.72 347.05 365.60 346.30 C366.48 345.55 367.05 344.38 367.60 343.60 C368.15 342.82 368.62 342.35 368.90 341.60 C369.18 340.85 369.17 339.97 369.30 339.10 C369.43 338.23 369.57 336.40 369.70 336.40Z" fill="url(#mg14)" filter="url(#tex14)"/><g filter="url(#bl2)"><ellipse cx="368.60" cy="340.10" rx="1.20" ry="1.20" fill="#2a10ff"/><ellipse cx="368.60" cy="340.10" rx="0.66" ry="0.66" fill="#1030ff"/><ellipse cx="367.70" cy="345.10" rx="1.20" ry="1.20" fill="#3010ff"/><ellipse cx="367.70" cy="345.10" rx="0.86" ry="0.86" fill="#00d0ff"/><ellipse cx="367.70" cy="345.10" rx="0.54" ry="0.54" fill="#10ff30"/><ellipse cx="373.40" cy="347.00" rx="1.20" ry="1.20" fill="#2a10ff"/><ellipse cx="373.40" cy="347.00" rx="0.66" ry="0.66" fill="#1030ff"/><ellipse cx="372.60" cy="356.90" rx="2.50" ry="2.50" fill="#3010ff"/><ellipse cx="372.60" cy="356.90" rx="1.80" ry="1.80" fill="#00d0ff"/><ellipse cx="372.60" cy="356.90" rx="1.12" ry="1.12" fill="#10ff30"/></g><g filter="url(#bl3)"><ellipse cx="370.60" cy="365.70" rx="9.50" ry="4.80" fill="#3010ff"/><ellipse cx="370.60" cy="365.70" rx="8.07" ry="4.08" fill="#00d8ff"/><ellipse cx="370.60" cy="365.70" rx="6.84" ry="3.46" fill="#20ff20"/><ellipse cx="370.60" cy="365.70" rx="5.70" ry="2.88" fill="#ffee00"/><ellipse cx="370.60" cy="365.70" rx="4.56" ry="2.30" fill="#ff1a00"/><ellipse cx="369.60" cy="364.70" rx="5.00" ry="3.00" fill="#3010ff"/><ellipse cx="369.60" cy="364.70" rx="4.65" ry="2.79" fill="#00d8ff"/><ellipse cx="369.60" cy="364.70" rx="4.40" ry="2.64" fill="#20ff20"/><ellipse cx="369.60" cy="364.70" rx="4.15" ry="2.49" fill="#ffee00"/><ellipse cx="369.60" cy="364.70" rx="3.90" ry="2.34" fill="#ff1000"/></g></g>
<g clip-path="url(#tc29)"><rect x="383.6" y="336.1" width="22.2" height="38.5" fill="#5a5a5a"/><rect x="383.6" y="336.1" width="22.2" height="38.5" fill="url(#stripes)"/><line x1="383.6" y1="369.70000000000005" x2="405.8" y2="370.3" stroke="#b0b0b0" stroke-width="0.6"/><path d="M394.30 336.40 C394.43 336.40 394.57 338.23 394.70 339.10 C394.83 339.97 394.78 340.85 395.10 341.60 C395.42 342.35 396.05 342.82 396.60 343.60 C397.15 344.38 397.60 345.68 398.40 346.30 C399.20 346.92 400.88 346.97 401.40 347.30 C401.92 347.63 401.82 347.83 401.50 348.30 C401.18 348.77 399.72 349.22 399.50 350.10 C399.28 350.98 399.88 352.27 400.20 353.60 C400.52 354.93 401.10 356.65 401.40 358.10 C401.70 359.55 401.77 360.80 402.00 362.30 C402.23 363.80 402.50 365.83 402.80 367.10 C403.10 368.37 403.77 369.20 403.80 369.90 C403.83 370.60 403.78 371.00 403.00 371.30 C402.22 371.60 400.50 371.70 399.10 371.70 C397.70 371.70 396.10 371.30 394.60 371.30 C393.10 371.30 391.57 371.73 390.10 371.70 C388.63 371.67 386.75 371.33 385.80 371.10 C384.85 370.87 384.33 370.97 384.40 370.30 C384.47 369.63 385.77 368.43 386.20 367.10 C386.63 365.77 386.77 363.80 387.00 362.30 C387.23 360.80 387.42 359.55 387.60 358.10 C387.78 356.65 387.83 354.93 388.10 353.60 C388.37 352.27 389.38 350.88 389.20 350.10 C389.02 349.32 387.38 349.23 387.00 348.90 C386.62 348.57 386.37 348.53 386.90 348.10 C387.43 347.67 389.32 347.05 390.20 346.30 C391.08 345.55 391.65 344.38 392.20 343.60 C392.75 342.82 393.22 342.35 393.50 341.60 C393.78 340.85 393.77 339.97 393.90 339.10 C394.03 338.23 394.17 336.40 394.30 336.40Z" fill="url(#mg14)" filter="url(#tex14)"/><g filter="url(#bl2)"><ellipse cx="396.20" cy="351.00" rx="1.60" ry="1.60" fill="#3010ff"/><ellipse cx="396.20" cy="351.00" rx="1.15" ry="1.15" fill="#00d0ff"/><ellipse cx="396.20" cy="351.00" rx="0.72" ry="0.72" fill="#10ff30"/><ellipse cx="395.80" cy="357.90" rx="2.50" ry="1.80" fill="#3010ff"/><ellipse cx="395.80" cy="357.90" rx="1.85" ry="1.33" fill="#00c0ff"/><ellipse cx="395.80" cy="357.90" rx="1.25" ry="0.90" fill="#ffffff"/><ellipse cx="400.10" cy="364.70" rx="2.50" ry="2.50" fill="#2a10ff"/><ellipse cx="400.10" cy="364.70" rx="1.38" ry="1.38" fill="#1030ff"/></g><g filter="url(#bl3)"><ellipse cx="393.20" cy="341.10" rx="2.20" ry="2.40" fill="#3010ff"/><ellipse cx="393.20" cy="341.10" rx="1.80" ry="1.97" fill="#00d8ff"/><ellipse cx="393.20" cy="341.10" rx="1.45" ry="1.58" fill="#20ff20"/><ellipse cx="393.20" cy="341.10" rx="1.10" ry="1.20" fill="#ffff00"/><ellipse cx="393.20" cy="341.10" rx="0.79" ry="0.86" fill="#ff2000"/><ellipse cx="392.20" cy="365.70" rx="8.50" ry="6.00" fill="#3010ff"/><ellipse cx="392.20" cy="365.70" rx="7.91" ry="5.58" fill="#00d8ff"/><ellipse cx="392.20" cy="365.70" rx="7.48" ry="5.28" fill="#20ff20"/><ellipse cx="392.20" cy="365.70" rx="7.05" ry="4.98" fill="#ffee00"/><ellipse cx="392.20" cy="365.70" rx="6.63" ry="4.68" fill="#ff1000"/></g></g>
<g clip-path="url(#tc30)"><rect x="32.1" y="381.8" width="22.2" height="38.5" fill="#4a4a4a"/><rect x="32.1" y="381.8" width="22.2" height="38.5" fill="url(#stripes)"/><rect x="32.1" y="381.8" width="22.2" height="5.5" fill="#000" opacity="0.28"/><line x1="32.1" y1="414.40000000000003" x2="54.3" y2="415.0" stroke="#9a9a9a" stroke-width="0.6"/><path d="M42.30 382.80 C42.45 382.80 42.68 384.92 42.80 385.80 C42.92 386.68 42.75 387.53 43.00 388.10 C43.25 388.67 44.02 388.75 44.30 389.20 C44.58 389.65 44.37 390.27 44.70 390.80 C45.03 391.33 45.17 392.07 46.30 392.40 C47.43 392.73 50.60 392.58 51.50 392.80 C52.40 393.02 52.37 393.03 51.70 393.70 C51.03 394.37 48.17 395.62 47.50 396.80 C46.83 397.98 47.53 399.38 47.70 400.80 C47.87 402.22 48.20 403.97 48.50 405.30 C48.80 406.63 49.27 407.72 49.50 408.80 C49.73 409.88 49.90 410.97 49.90 411.80 C49.90 412.63 49.07 413.30 49.50 413.80 C49.93 414.30 52.03 414.50 52.50 414.80 C52.97 415.10 53.00 415.43 52.30 415.60 C51.60 415.77 49.42 415.63 48.30 415.80 C47.18 415.97 46.50 416.43 45.60 416.60 C44.70 416.77 43.82 416.80 42.90 416.80 C41.98 416.80 41.00 416.77 40.10 416.60 C39.20 416.43 38.57 415.97 37.50 415.80 C36.43 415.63 34.37 415.77 33.70 415.60 C33.03 415.43 33.03 415.10 33.50 414.80 C33.97 414.50 36.07 414.30 36.50 413.80 C36.93 413.30 36.10 412.63 36.10 411.80 C36.10 410.97 36.27 409.88 36.50 408.80 C36.73 407.72 37.23 406.63 37.50 405.30 C37.77 403.97 37.97 402.22 38.10 400.80 C38.23 399.38 38.90 398.07 38.30 396.80 C37.70 395.53 35.17 393.97 34.50 393.20 C33.83 392.43 33.63 392.33 34.30 392.20 C34.97 392.07 37.47 392.63 38.50 392.40 C39.53 392.17 40.07 391.33 40.50 390.80 C40.93 390.27 40.90 389.65 41.10 389.20 C41.30 388.75 41.57 388.67 41.70 388.10 C41.83 387.53 41.80 386.68 41.90 385.80 C42.00 384.92 42.15 382.80 42.30 382.80Z" fill="url(#mg7)" filter="url(#tex)"/></g>
<g clip-path="url(#tc31)"><rect x="56.4" y="381.8" width="22.2" height="38.5" fill="#646464"/><rect x="56.4" y="381.8" width="22.2" height="38.5" fill="url(#stripes)"/><rect x="56.4" y="381.8" width="22.2" height="5.5" fill="#000" opacity="0.28"/><line x1="56.4" y1="414.40000000000003" x2="78.6" y2="415.0" stroke="#9a9a9a" stroke-width="0.6"/><path d="M66.60 382.80 C66.75 382.80 66.98 384.92 67.10 385.80 C67.22 386.68 67.05 387.53 67.30 388.10 C67.55 388.67 68.32 388.75 68.60 389.20 C68.88 389.65 68.67 390.27 69.00 390.80 C69.33 391.33 69.47 392.07 70.60 392.40 C71.73 392.73 74.90 392.58 75.80 392.80 C76.70 393.02 76.67 393.03 76.00 393.70 C75.33 394.37 72.47 395.62 71.80 396.80 C71.13 397.98 71.83 399.38 72.00 400.80 C72.17 402.22 72.50 403.97 72.80 405.30 C73.10 406.63 73.57 407.72 73.80 408.80 C74.03 409.88 74.20 410.97 74.20 411.80 C74.20 412.63 73.37 413.30 73.80 413.80 C74.23 414.30 76.33 414.50 76.80 414.80 C77.27 415.10 77.30 415.43 76.60 415.60 C75.90 415.77 73.72 415.63 72.60 415.80 C71.48 415.97 70.80 416.43 69.90 416.60 C69.00 416.77 68.12 416.80 67.20 416.80 C66.28 416.80 65.30 416.77 64.40 416.60 C63.50 416.43 62.87 415.97 61.80 415.80 C60.73 415.63 58.67 415.77 58.00 415.60 C57.33 415.43 57.33 415.10 57.80 414.80 C58.27 414.50 60.37 414.30 60.80 413.80 C61.23 413.30 60.40 412.63 60.40 411.80 C60.40 410.97 60.57 409.88 60.80 408.80 C61.03 407.72 61.53 406.63 61.80 405.30 C62.07 403.97 62.27 402.22 62.40 400.80 C62.53 399.38 63.20 398.07 62.60 396.80 C62.00 395.53 59.47 393.97 58.80 393.20 C58.13 392.43 57.93 392.33 58.60 392.20 C59.27 392.07 61.77 392.63 62.80 392.40 C63.83 392.17 64.37 391.33 64.80 390.80 C65.23 390.27 65.20 389.65 65.40 389.20 C65.60 388.75 65.87 388.67 66.00 388.10 C66.13 387.53 66.10 386.68 66.20 385.80 C66.30 384.92 66.45 382.80 66.60 382.80Z" fill="url(#mg7)" filter="url(#tex)"/></g>
<g clip-path="url(#tc32)"><rect x="81.0" y="381.8" width="22.2" height="38.5" fill="#5e5e5e"/><rect x="81.0" y="381.8" width="22.2" height="38.5" fill="url(#stripes)"/><rect x="81.0" y="381.8" width="22.2" height="5.5" fill="#000" opacity="0.28"/><line x1="81.0" y1="414.40000000000003" x2="103.2" y2="415.0" stroke="#9a9a9a" stroke-width="0.6"/><path d="M91.20 382.80 C91.35 382.80 91.58 384.92 91.70 385.80 C91.82 386.68 91.65 387.53 91.90 388.10 C92.15 388.67 92.92 388.75 93.20 389.20 C93.48 389.65 93.27 390.27 93.60 390.80 C93.93 391.33 94.07 392.07 95.20 392.40 C96.33 392.73 99.50 392.58 100.40 392.80 C101.30 393.02 101.27 393.03 100.60 393.70 C99.93 394.37 97.07 395.62 96.40 396.80 C95.73 397.98 96.43 399.38 96.60 400.80 C96.77 402.22 97.10 403.97 97.40 405.30 C97.70 406.63 98.17 407.72 98.40 408.80 C98.63 409.88 98.80 410.97 98.80 411.80 C98.80 412.63 97.97 413.30 98.40 413.80 C98.83 414.30 100.93 414.50 101.40 414.80 C101.87 415.10 101.90 415.43 101.20 415.60 C100.50 415.77 98.32 415.63 97.20 415.80 C96.08 415.97 95.40 416.43 94.50 416.60 C93.60 416.77 92.72 416.80 91.80 416.80 C90.88 416.80 89.90 416.77 89.00 416.60 C88.10 416.43 87.47 415.97 86.40 415.80 C85.33 415.63 83.27 415.77 82.60 415.60 C81.93 415.43 81.93 415.10 82.40 414.80 C82.87 414.50 84.97 414.30 85.40 413.80 C85.83 413.30 85.00 412.63 85.00 411.80 C85.00 410.97 85.17 409.88 85.40 408.80 C85.63 407.72 86.13 406.63 86.40 405.30 C86.67 403.97 86.87 402.22 87.00 400.80 C87.13 399.38 87.80 398.07 87.20 396.80 C86.60 395.53 84.07 393.97 83.40 393.20 C82.73 392.43 82.53 392.33 83.20 392.20 C83.87 392.07 86.37 392.63 87.40 392.40 C88.43 392.17 88.97 391.33 89.40 390.80 C89.83 390.27 89.80 389.65 90.00 389.20 C90.20 388.75 90.47 388.67 90.60 388.10 C90.73 387.53 90.70 386.68 90.80 385.80 C90.90 384.92 91.05 382.80 91.20 382.80Z" fill="url(#mg7)" filter="url(#tex)"/></g>
<g clip-path="url(#tc33)"><rect x="105.6" y="381.8" width="22.2" height="38.5" fill="#3a3a3a"/><rect x="105.6" y="381.8" width="22.2" height="38.5" fill="url(#stripes)"/><rect x="105.6" y="381.8" width="22.2" height="5.5" fill="#000" opacity="0.28"/><line x1="105.6" y1="414.40000000000003" x2="127.8" y2="415.0" stroke="#9a9a9a" stroke-width="0.6"/><path d="M115.80 382.80 C115.95 382.80 116.18 384.92 116.30 385.80 C116.42 386.68 116.25 387.53 116.50 388.10 C116.75 388.67 117.52 388.75 117.80 389.20 C118.08 389.65 117.87 390.27 118.20 390.80 C118.53 391.33 118.67 392.07 119.80 392.40 C120.93 392.73 124.10 392.58 125.00 392.80 C125.90 393.02 125.87 393.03 125.20 393.70 C124.53 394.37 121.67 395.62 121.00 396.80 C120.33 397.98 121.03 399.38 121.20 400.80 C121.37 402.22 121.70 403.97 122.00 405.30 C122.30 406.63 122.77 407.72 123.00 408.80 C123.23 409.88 123.40 410.97 123.40 411.80 C123.40 412.63 122.57 413.30 123.00 413.80 C123.43 414.30 125.53 414.50 126.00 414.80 C126.47 415.10 126.50 415.43 125.80 415.60 C125.10 415.77 122.92 415.63 121.80 415.80 C120.68 415.97 120.00 416.43 119.10 416.60 C118.20 416.77 117.32 416.80 116.40 416.80 C115.48 416.80 114.50 416.77 113.60 416.60 C112.70 416.43 112.07 415.97 111.00 415.80 C109.93 415.63 107.87 415.77 107.20 415.60 C106.53 415.43 106.53 415.10 107.00 414.80 C107.47 414.50 109.57 414.30 110.00 413.80 C110.43 413.30 109.60 412.63 109.60 411.80 C109.60 410.97 109.77 409.88 110.00 408.80 C110.23 407.72 110.73 406.63 111.00 405.30 C111.27 403.97 111.47 402.22 111.60 400.80 C111.73 399.38 112.40 398.07 111.80 396.80 C111.20 395.53 108.67 393.97 108.00 393.20 C107.33 392.43 107.13 392.33 107.80 392.20 C108.47 392.07 110.97 392.63 112.00 392.40 C113.03 392.17 113.57 391.33 114.00 390.80 C114.43 390.27 114.40 389.65 114.60 389.20 C114.80 388.75 115.07 388.67 115.20 388.10 C115.33 387.53 115.30 386.68 115.40 385.80 C115.50 384.92 115.65 382.80 115.80 382.80Z" fill="url(#mg7)" filter="url(#tex)"/></g>
<g clip-path="url(#tc34)"><rect x="130.1" y="381.8" width="22.2" height="38.5" fill="#484848"/><rect x="130.1" y="381.8" width="22.2" height="38.5" fill="url(#stripes)"/><rect x="130.1" y="381.8" width="22.2" height="5.5" fill="#000" opacity="0.28"/><line x1="130.1" y1="414.40000000000003" x2="152.29999999999998" y2="415.0" stroke="#9a9a9a" stroke-width="0.6"/><path d="M140.30 382.80 C140.45 382.80 140.68 384.92 140.80 385.80 C140.92 386.68 140.75 387.53 141.00 388.10 C141.25 388.67 142.02 388.75 142.30 389.20 C142.58 389.65 142.37 390.27 142.70 390.80 C143.03 391.33 143.17 392.07 144.30 392.40 C145.43 392.73 148.60 392.58 149.50 392.80 C150.40 393.02 150.37 393.03 149.70 393.70 C149.03 394.37 146.17 395.62 145.50 396.80 C144.83 397.98 145.53 399.38 145.70 400.80 C145.87 402.22 146.20 403.97 146.50 405.30 C146.80 406.63 147.27 407.72 147.50 408.80 C147.73 409.88 147.90 410.97 147.90 411.80 C147.90 412.63 147.07 413.30 147.50 413.80 C147.93 414.30 150.03 414.50 150.50 414.80 C150.97 415.10 151.00 415.43 150.30 415.60 C149.60 415.77 147.42 415.63 146.30 415.80 C145.18 415.97 144.50 416.43 143.60 416.60 C142.70 416.77 141.82 416.80 140.90 416.80 C139.98 416.80 139.00 416.77 138.10 416.60 C137.20 416.43 136.57 415.97 135.50 415.80 C134.43 415.63 132.37 415.77 131.70 415.60 C131.03 415.43 131.03 415.10 131.50 414.80 C131.97 414.50 134.07 414.30 134.50 413.80 C134.93 413.30 134.10 412.63 134.10 411.80 C134.10 410.97 134.27 409.88 134.50 408.80 C134.73 407.72 135.23 406.63 135.50 405.30 C135.77 403.97 135.97 402.22 136.10 400.80 C136.23 399.38 136.90 398.07 136.30 396.80 C135.70 395.53 133.17 393.97 132.50 393.20 C131.83 392.43 131.63 392.33 132.30 392.20 C132.97 392.07 135.47 392.63 136.50 392.40 C137.53 392.17 138.07 391.33 138.50 390.80 C138.93 390.27 138.90 389.65 139.10 389.20 C139.30 388.75 139.57 388.67 139.70 388.10 C139.83 387.53 139.80 386.68 139.90 385.80 C140.00 384.92 140.15 382.80 140.30 382.80Z" fill="url(#mg7)" filter="url(#tex)"/></g>
<g clip-path="url(#tc35)"><rect x="158.0" y="381.8" width="22.2" height="38.5" fill="#686868"/><rect x="158.0" y="381.8" width="22.2" height="38.5" fill="url(#stripes)"/><line x1="158.0" y1="415.40000000000003" x2="180.2" y2="416.0" stroke="#b0b0b0" stroke-width="0.6"/><path d="M168.70 382.10 C168.83 382.10 168.97 383.93 169.10 384.80 C169.23 385.67 169.18 386.55 169.50 387.30 C169.82 388.05 170.45 388.52 171.00 389.30 C171.55 390.08 172.00 391.38 172.80 392.00 C173.60 392.62 175.28 392.67 175.80 393.00 C176.32 393.33 176.22 393.53 175.90 394.00 C175.58 394.47 174.12 394.92 173.90 395.80 C173.68 396.68 174.28 397.97 174.60 399.30 C174.92 400.63 175.50 402.35 175.80 403.80 C176.10 405.25 176.17 406.50 176.40 408.00 C176.63 409.50 176.90 411.53 177.20 412.80 C177.50 414.07 178.17 414.90 178.20 415.60 C178.23 416.30 178.18 416.70 177.40 417.00 C176.62 417.30 174.90 417.40 173.50 417.40 C172.10 417.40 170.50 417.00 169.00 417.00 C167.50 417.00 165.97 417.43 164.50 417.40 C163.03 417.37 161.15 417.03 160.20 416.80 C159.25 416.57 158.73 416.67 158.80 416.00 C158.87 415.33 160.17 414.13 160.60 412.80 C161.03 411.47 161.17 409.50 161.40 408.00 C161.63 406.50 161.82 405.25 162.00 403.80 C162.18 402.35 162.23 400.63 162.50 399.30 C162.77 397.97 163.78 396.58 163.60 395.80 C163.42 395.02 161.78 394.93 161.40 394.60 C161.02 394.27 160.77 394.23 161.30 393.80 C161.83 393.37 163.72 392.75 164.60 392.00 C165.48 391.25 166.05 390.08 166.60 389.30 C167.15 388.52 167.62 388.05 167.90 387.30 C168.18 386.55 168.17 385.67 168.30 384.80 C168.43 383.93 168.57 382.10 168.70 382.10Z" fill="url(#mg14)" filter="url(#tex14)"/><g filter="url(#bl2)"><ellipse cx="167.00" cy="391.80" rx="1.00" ry="1.00" fill="#2a10ff"/><ellipse cx="167.00" cy="391.80" rx="0.55" ry="0.55" fill="#1030ff"/></g><g filter="url(#bl3)"><ellipse cx="169.30" cy="398.00" rx="5.80" ry="5.20" fill="#3010ff"/><ellipse cx="169.30" cy="398.00" rx="4.29" ry="3.85" fill="#00c0ff"/><ellipse cx="169.30" cy="398.00" rx="2.90" ry="2.60" fill="#ffffff"/><ellipse cx="167.00" cy="396.80" rx="1.80" ry="1.80" fill="#3010ff"/><ellipse cx="167.00" cy="396.80" rx="1.67" ry="1.67" fill="#00d8ff"/><ellipse cx="167.00" cy="396.80" rx="1.58" ry="1.58" fill="#20ff20"/><ellipse cx="167.00" cy="396.80" rx="1.49" ry="1.49" fill="#ffee00"/><ellipse cx="167.00" cy="396.80" rx="1.40" ry="1.40" fill="#ff1000"/><ellipse cx="172.00" cy="399.30" rx="1.80" ry="1.60" fill="#3010ff"/><ellipse cx="172.00" cy="399.30" rx="1.48" ry="1.31" fill="#00d8ff"/><ellipse cx="172.00" cy="399.30" rx="1.19" ry="1.06" fill="#20ff20"/><ellipse cx="172.00" cy="399.30" rx="0.90" ry="0.80" fill="#ffff00"/><ellipse cx="172.00" cy="399.30" rx="0.65" ry="0.58" fill="#ff2000"/><ellipse cx="169.00" cy="409.50" rx="9.00" ry="3.80" fill="#3010ff"/><ellipse cx="169.00" cy="409.50" rx="6.66" ry="2.81" fill="#00c0ff"/><ellipse cx="169.00" cy="409.50" rx="4.50" ry="1.90" fill="#ffffff"/><ellipse cx="164.00" cy="409.80" rx="2.40" ry="1.90" fill="#3010ff"/><ellipse cx="164.00" cy="409.80" rx="2.23" ry="1.77" fill="#00d8ff"/><ellipse cx="164.00" cy="409.80" rx="2.11" ry="1.67" fill="#20ff20"/><ellipse cx="164.00" cy="409.80" rx="1.99" ry="1.58" fill="#ffee00"/><ellipse cx="164.00" cy="409.80" rx="1.87" ry="1.48" fill="#ff1000"/><ellipse cx="173.50" cy="410.00" rx="2.40" ry="1.80" fill="#3010ff"/><ellipse cx="173.50" cy="410.00" rx="2.23" ry="1.67" fill="#00d8ff"/><ellipse cx="173.50" cy="410.00" rx="2.11" ry="1.58" fill="#20ff20"/><ellipse cx="173.50" cy="410.00" rx="1.99" ry="1.49" fill="#ffee00"/><ellipse cx="173.50" cy="410.00" rx="1.87" ry="1.40" fill="#ff1000"/></g></g>
<g clip-path="url(#tc36)"><rect x="182.7" y="381.8" width="22.2" height="38.5" fill="#404040"/><rect x="182.7" y="381.8" width="22.2" height="38.5" fill="url(#stripes)"/><line x1="182.7" y1="415.40000000000003" x2="204.89999999999998" y2="416.0" stroke="#b0b0b0" stroke-width="0.6"/><path d="M193.40 382.10 C193.53 382.10 193.67 383.93 193.80 384.80 C193.93 385.67 193.88 386.55 194.20 387.30 C194.52 388.05 195.15 388.52 195.70 389.30 C196.25 390.08 196.70 391.38 197.50 392.00 C198.30 392.62 199.98 392.67 200.50 393.00 C201.02 393.33 200.92 393.53 200.60 394.00 C200.28 394.47 198.82 394.92 198.60 395.80 C198.38 396.68 198.98 397.97 199.30 399.30 C199.62 400.63 200.20 402.35 200.50 403.80 C200.80 405.25 200.87 406.50 201.10 408.00 C201.33 409.50 201.60 411.53 201.90 412.80 C202.20 414.07 202.87 414.90 202.90 415.60 C202.93 416.30 202.88 416.70 202.10 417.00 C201.32 417.30 199.60 417.40 198.20 417.40 C196.80 417.40 195.20 417.00 193.70 417.00 C192.20 417.00 190.67 417.43 189.20 417.40 C187.73 417.37 185.85 417.03 184.90 416.80 C183.95 416.57 183.43 416.67 183.50 416.00 C183.57 415.33 184.87 414.13 185.30 412.80 C185.73 411.47 185.87 409.50 186.10 408.00 C186.33 406.50 186.52 405.25 186.70 403.80 C186.88 402.35 186.93 400.63 187.20 399.30 C187.47 397.97 188.48 396.58 188.30 395.80 C188.12 395.02 186.48 394.93 186.10 394.60 C185.72 394.27 185.47 394.23 186.00 393.80 C186.53 393.37 188.42 392.75 189.30 392.00 C190.18 391.25 190.75 390.08 191.30 389.30 C191.85 388.52 192.32 388.05 192.60 387.30 C192.88 386.55 192.87 385.67 193.00 384.80 C193.13 383.93 193.27 382.10 193.40 382.10Z" fill="url(#mg14)" filter="url(#tex14)"/><g filter="url(#bl2)"><ellipse cx="189.30" cy="406.60" rx="3.00" ry="3.00" fill="#2a10ff"/><ellipse cx="189.30" cy="406.60" rx="1.65" ry="1.65" fill="#1030ff"/><ellipse cx="194.70" cy="393.80" rx="1.00" ry="1.00" fill="#2a10ff"/><ellipse cx="194.70" cy="393.80" rx="0.55" ry="0.55" fill="#1030ff"/><ellipse cx="197.00" cy="410.80" rx="1.40" ry="1.40" fill="#3010ff"/><ellipse cx="197.00" cy="410.80" rx="1.01" ry="1.01" fill="#00d0ff"/><ellipse cx="197.00" cy="410.80" rx="0.63" ry="0.63" fill="#10ff30"/><ellipse cx="200.70" cy="410.30" rx="1.00" ry="1.00" fill="#2a10ff"/><ellipse cx="200.70" cy="410.30" rx="0.55" ry="0.55" fill="#1030ff"/></g></g>
<g clip-path="url(#tc37)"><rect x="207.6" y="381.8" width="22.2" height="38.5" fill="#3c3c3c"/><rect x="207.6" y="381.8" width="22.2" height="38.5" fill="url(#stripes)"/><line x1="207.6" y1="415.40000000000003" x2="229.79999999999998" y2="416.0" stroke="#b0b0b0" stroke-width="0.6"/><path d="M218.30 382.10 C218.43 382.10 218.57 383.93 218.70 384.80 C218.83 385.67 218.78 386.55 219.10 387.30 C219.42 388.05 220.05 388.52 220.60 389.30 C221.15 390.08 221.60 391.38 222.40 392.00 C223.20 392.62 224.88 392.67 225.40 393.00 C225.92 393.33 225.82 393.53 225.50 394.00 C225.18 394.47 223.72 394.92 223.50 395.80 C223.28 396.68 223.88 397.97 224.20 399.30 C224.52 400.63 225.10 402.35 225.40 403.80 C225.70 405.25 225.77 406.50 226.00 408.00 C226.23 409.50 226.50 411.53 226.80 412.80 C227.10 414.07 227.77 414.90 227.80 415.60 C227.83 416.30 227.78 416.70 227.00 417.00 C226.22 417.30 224.50 417.40 223.10 417.40 C221.70 417.40 220.10 417.00 218.60 417.00 C217.10 417.00 215.57 417.43 214.10 417.40 C212.63 417.37 210.75 417.03 209.80 416.80 C208.85 416.57 208.33 416.67 208.40 416.00 C208.47 415.33 209.77 414.13 210.20 412.80 C210.63 411.47 210.77 409.50 211.00 408.00 C211.23 406.50 211.42 405.25 211.60 403.80 C211.78 402.35 211.83 400.63 212.10 399.30 C212.37 397.97 213.38 396.58 213.20 395.80 C213.02 395.02 211.38 394.93 211.00 394.60 C210.62 394.27 210.37 394.23 210.90 393.80 C211.43 393.37 213.32 392.75 214.20 392.00 C215.08 391.25 215.65 390.08 216.20 389.30 C216.75 388.52 217.22 388.05 217.50 387.30 C217.78 386.55 217.77 385.67 217.90 384.80 C218.03 383.93 218.17 382.10 218.30 382.10Z" fill="url(#mg14)" filter="url(#tex14)"/><g filter="url(#bl2)"><ellipse cx="217.10" cy="396.10" rx="1.60" ry="1.60" fill="#3010ff"/><ellipse cx="217.10" cy="396.10" rx="0.96" ry="0.96" fill="#00c8ff"/><ellipse cx="211.40" cy="411.40" rx="2.50" ry="2.50" fill="#3010ff"/><ellipse cx="211.40" cy="411.40" rx="1.80" ry="1.80" fill="#00d0ff"/><ellipse cx="211.40" cy="411.40" rx="1.12" ry="1.12" fill="#10ff30"/><ellipse cx="223.40" cy="411.40" rx="2.00" ry="2.00" fill="#2a10ff"/><ellipse cx="223.40" cy="411.40" rx="1.10" ry="1.10" fill="#1030ff"/></g></g>
<g clip-path="url(#tc38)"><rect x="232.1" y="381.8" width="22.2" height="38.5" fill="#404040"/><rect x="232.1" y="381.8" width="22.2" height="38.5" fill="url(#stripes)"/><line x1="232.1" y1="415.40000000000003" x2="254.29999999999998" y2="416.0" stroke="#b0b0b0" stroke-width="0.6"/><path d="M242.80 382.10 C242.93 382.10 243.07 383.93 243.20 384.80 C243.33 385.67 243.28 386.55 243.60 387.30 C243.92 388.05 244.55 388.52 245.10 389.30 C245.65 390.08 246.10 391.38 246.90 392.00 C247.70 392.62 249.38 392.67 249.90 393.00 C250.42 393.33 250.32 393.53 250.00 394.00 C249.68 394.47 248.22 394.92 248.00 395.80 C247.78 396.68 248.38 397.97 248.70 399.30 C249.02 400.63 249.60 402.35 249.90 403.80 C250.20 405.25 250.27 406.50 250.50 408.00 C250.73 409.50 251.00 411.53 251.30 412.80 C251.60 414.07 252.27 414.90 252.30 415.60 C252.33 416.30 252.28 416.70 251.50 417.00 C250.72 417.30 249.00 417.40 247.60 417.40 C246.20 417.40 244.60 417.00 243.10 417.00 C241.60 417.00 240.07 417.43 238.60 417.40 C237.13 417.37 235.25 417.03 234.30 416.80 C233.35 416.57 232.83 416.67 232.90 416.00 C232.97 415.33 234.27 414.13 234.70 412.80 C235.13 411.47 235.27 409.50 235.50 408.00 C235.73 406.50 235.92 405.25 236.10 403.80 C236.28 402.35 236.33 400.63 236.60 399.30 C236.87 397.97 237.88 396.58 237.70 395.80 C237.52 395.02 235.88 394.93 235.50 394.60 C235.12 394.27 234.87 394.23 235.40 393.80 C235.93 393.37 237.82 392.75 238.70 392.00 C239.58 391.25 240.15 390.08 240.70 389.30 C241.25 388.52 241.72 388.05 242.00 387.30 C242.28 386.55 242.27 385.67 242.40 384.80 C242.53 383.93 242.67 382.10 242.80 382.10Z" fill="url(#mg14)" filter="url(#tex14)"/><g filter="url(#bl2)"><ellipse cx="242.30" cy="392.30" rx="1.30" ry="1.30" fill="#3010ff"/><ellipse cx="242.30" cy="392.30" rx="0.94" ry="0.94" fill="#00d0ff"/><ellipse cx="242.30" cy="392.30" rx="0.59" ry="0.59" fill="#10ff30"/><ellipse cx="239.90" cy="402.40" rx="1.20" ry="1.00" fill="#2a10ff"/><ellipse cx="239.90" cy="402.40" rx="0.66" ry="0.55" fill="#1030ff"/><ellipse cx="236.00" cy="410.80" rx="1.50" ry="1.50" fill="#3010ff"/><ellipse cx="236.00" cy="410.80" rx="1.08" ry="1.08" fill="#00d0ff"/><ellipse cx="236.00" cy="410.80" rx="0.68" ry="0.68" fill="#10ff30"/></g></g>
<g clip-path="url(#tc39)"><rect x="256.4" y="381.8" width="22.2" height="38.5" fill="#4a4a4a"/><rect x="256.4" y="381.8" width="22.2" height="38.5" fill="url(#stripes)"/><line x1="256.4" y1="415.40000000000003" x2="278.59999999999997" y2="416.0" stroke="#b0b0b0" stroke-width="0.6"/><path d="M267.10 382.10 C267.23 382.10 267.37 383.93 267.50 384.80 C267.63 385.67 267.58 386.55 267.90 387.30 C268.22 388.05 268.85 388.52 269.40 389.30 C269.95 390.08 270.40 391.38 271.20 392.00 C272.00 392.62 273.68 392.67 274.20 393.00 C274.72 393.33 274.62 393.53 274.30 394.00 C273.98 394.47 272.52 394.92 272.30 395.80 C272.08 396.68 272.68 397.97 273.00 399.30 C273.32 400.63 273.90 402.35 274.20 403.80 C274.50 405.25 274.57 406.50 274.80 408.00 C275.03 409.50 275.30 411.53 275.60 412.80 C275.90 414.07 276.57 414.90 276.60 415.60 C276.63 416.30 276.58 416.70 275.80 417.00 C275.02 417.30 273.30 417.40 271.90 417.40 C270.50 417.40 268.90 417.00 267.40 417.00 C265.90 417.00 264.37 417.43 262.90 417.40 C261.43 417.37 259.55 417.03 258.60 416.80 C257.65 416.57 257.13 416.67 257.20 416.00 C257.27 415.33 258.57 414.13 259.00 412.80 C259.43 411.47 259.57 409.50 259.80 408.00 C260.03 406.50 260.22 405.25 260.40 403.80 C260.58 402.35 260.63 400.63 260.90 399.30 C261.17 397.97 262.18 396.58 262.00 395.80 C261.82 395.02 260.18 394.93 259.80 394.60 C259.42 394.27 259.17 394.23 259.70 393.80 C260.23 393.37 262.12 392.75 263.00 392.00 C263.88 391.25 264.45 390.08 265.00 389.30 C265.55 388.52 266.02 388.05 266.30 387.30 C266.58 386.55 266.57 385.67 266.70 384.80 C266.83 383.93 266.97 382.10 267.10 382.10Z" fill="url(#mg14)" filter="url(#tex14)"/><g filter="url(#bl2)"><ellipse cx="266.40" cy="394.80" rx="1.00" ry="1.00" fill="#2a10ff"/><ellipse cx="266.40" cy="394.80" rx="0.55" ry="0.55" fill="#1030ff"/><ellipse cx="266.40" cy="414.80" rx="1.00" ry="1.00" fill="#2a10ff"/><ellipse cx="266.40" cy="414.80" rx="0.55" ry="0.55" fill="#1030ff"/></g><g filter="url(#bl3)"><ellipse cx="259.90" cy="410.80" rx="2.20" ry="2.50" fill="#3010ff"/><ellipse cx="259.90" cy="410.80" rx="1.80" ry="2.05" fill="#00d8ff"/><ellipse cx="259.90" cy="410.80" rx="1.45" ry="1.65" fill="#20ff20"/><ellipse cx="259.90" cy="410.80" rx="1.10" ry="1.25" fill="#ffff00"/><ellipse cx="259.90" cy="410.80" rx="0.79" ry="0.90" fill="#ff2000"/><ellipse cx="272.70" cy="411.50" rx="2.50" ry="2.50" fill="#3010ff"/><ellipse cx="272.70" cy="411.50" rx="2.05" ry="2.05" fill="#00d8ff"/><ellipse cx="272.70" cy="411.50" rx="1.65" ry="1.65" fill="#20ff20"/><ellipse cx="272.70" cy="411.50" rx="1.25" ry="1.25" fill="#ffff00"/><ellipse cx="272.70" cy="411.50" rx="0.90" ry="0.90" fill="#ff2000"/></g></g>
<g clip-path="url(#tc40)"><rect x="284.7" y="381.8" width="22.2" height="38.5" fill="#5a5a5a"/><rect x="284.7" y="381.8" width="22.2" height="38.5" fill="url(#stripes)"/><line x1="284.7" y1="415.40000000000003" x2="306.9" y2="416.0" stroke="#b0b0b0" stroke-width="0.6"/><path d="M295.40 382.10 C295.53 382.10 295.67 383.93 295.80 384.80 C295.93 385.67 295.88 386.55 296.20 387.30 C296.52 388.05 297.15 388.52 297.70 389.30 C298.25 390.08 298.70 391.38 299.50 392.00 C300.30 392.62 301.98 392.67 302.50 393.00 C303.02 393.33 302.92 393.53 302.60 394.00 C302.28 394.47 300.82 394.92 300.60 395.80 C300.38 396.68 300.98 397.97 301.30 399.30 C301.62 400.63 302.20 402.35 302.50 403.80 C302.80 405.25 302.87 406.50 303.10 408.00 C303.33 409.50 303.60 411.53 303.90 412.80 C304.20 414.07 304.87 414.90 304.90 415.60 C304.93 416.30 304.88 416.70 304.10 417.00 C303.32 417.30 301.60 417.40 300.20 417.40 C298.80 417.40 297.20 417.00 295.70 417.00 C294.20 417.00 292.67 417.43 291.20 417.40 C289.73 417.37 287.85 417.03 286.90 416.80 C285.95 416.57 285.43 416.67 285.50 416.00 C285.57 415.33 286.87 414.13 287.30 412.80 C287.73 411.47 287.87 409.50 288.10 408.00 C288.33 406.50 288.52 405.25 288.70 403.80 C288.88 402.35 288.93 400.63 289.20 399.30 C289.47 397.97 290.48 396.58 290.30 395.80 C290.12 395.02 288.48 394.93 288.10 394.60 C287.72 394.27 287.47 394.23 288.00 393.80 C288.53 393.37 290.42 392.75 291.30 392.00 C292.18 391.25 292.75 390.08 293.30 389.30 C293.85 388.52 294.32 388.05 294.60 387.30 C294.88 386.55 294.87 385.67 295.00 384.80 C295.13 383.93 295.27 382.10 295.40 382.10Z" fill="url(#mg14)" filter="url(#tex14)"/><g filter="url(#bl2)"><ellipse cx="295.20" cy="386.50" rx="1.20" ry="1.20" fill="#3010ff"/><ellipse cx="295.20" cy="386.50" rx="0.72" ry="0.72" fill="#00c8ff"/><ellipse cx="294.20" cy="392.20" rx="1.90" ry="1.90" fill="#3010ff"/><ellipse cx="294.20" cy="392.20" rx="1.37" ry="1.37" fill="#00d0ff"/><ellipse cx="294.20" cy="392.20" rx="0.85" ry="0.85" fill="#10ff30"/><ellipse cx="299.00" cy="392.20" rx="1.90" ry="1.90" fill="#3010ff"/><ellipse cx="299.00" cy="392.20" rx="1.37" ry="1.37" fill="#00d0ff"/><ellipse cx="299.00" cy="392.20" rx="0.85" ry="0.85" fill="#10ff30"/><ellipse cx="296.10" cy="396.90" rx="1.10" ry="1.10" fill="#2a10ff"/><ellipse cx="296.10" cy="396.90" rx="0.61" ry="0.61" fill="#1030ff"/><ellipse cx="299.90" cy="403.50" rx="2.30" ry="1.90" fill="#3010ff"/><ellipse cx="299.90" cy="403.50" rx="1.70" ry="1.41" fill="#00c0ff"/><ellipse cx="299.90" cy="403.50" rx="1.15" ry="0.95" fill="#ffffff"/></g><g filter="url(#bl3)"><ellipse cx="296.10" cy="415.20" rx="8.50" ry="2.20" fill="#2a10ff"/><ellipse cx="296.10" cy="415.20" rx="4.68" ry="1.21" fill="#1030ff"/><ellipse cx="290.50" cy="412.00" rx="4.20" ry="3.70" fill="#3010ff"/><ellipse cx="290.50" cy="412.00" rx="3.91" ry="3.44" fill="#00d8ff"/><ellipse cx="290.50" cy="412.00" rx="3.70" ry="3.26" fill="#20ff20"/><ellipse cx="290.50" cy="412.00" rx="3.49" ry="3.07" fill="#ffee00"/><ellipse cx="290.50" cy="412.00" rx="3.28" ry="2.89" fill="#ff1000"/><ellipse cx="301.80" cy="412.90" rx="3.70" ry="3.20" fill="#3010ff"/><ellipse cx="301.80" cy="412.90" rx="3.44" ry="2.98" fill="#00d8ff"/><ellipse cx="301.80" cy="412.90" rx="3.26" ry="2.82" fill="#20ff20"/><ellipse cx="301.80" cy="412.90" rx="3.07" ry="2.66" fill="#ffee00"/><ellipse cx="301.80" cy="412.90" rx="2.89" ry="2.50" fill="#ff1000"/></g></g>
<g clip-path="url(#tc41)"><rect x="309.5" y="381.8" width="22.2" height="38.5" fill="#5a5a5a"/><rect x="309.5" y="381.8" width="22.2" height="38.5" fill="url(#stripes)"/><line x1="309.5" y1="415.40000000000003" x2="331.7" y2="416.0" stroke="#b0b0b0" stroke-width="0.6"/><path d="M320.20 382.10 C320.33 382.10 320.47 383.93 320.60 384.80 C320.73 385.67 320.68 386.55 321.00 387.30 C321.32 388.05 321.95 388.52 322.50 389.30 C323.05 390.08 323.50 391.38 324.30 392.00 C325.10 392.62 326.78 392.67 327.30 393.00 C327.82 393.33 327.72 393.53 327.40 394.00 C327.08 394.47 325.62 394.92 325.40 395.80 C325.18 396.68 325.78 397.97 326.10 399.30 C326.42 400.63 327.00 402.35 327.30 403.80 C327.60 405.25 327.67 406.50 327.90 408.00 C328.13 409.50 328.40 411.53 328.70 412.80 C329.00 414.07 329.67 414.90 329.70 415.60 C329.73 416.30 329.68 416.70 328.90 417.00 C328.12 417.30 326.40 417.40 325.00 417.40 C323.60 417.40 322.00 417.00 320.50 417.00 C319.00 417.00 317.47 417.43 316.00 417.40 C314.53 417.37 312.65 417.03 311.70 416.80 C310.75 416.57 310.23 416.67 310.30 416.00 C310.37 415.33 311.67 414.13 312.10 412.80 C312.53 411.47 312.67 409.50 312.90 408.00 C313.13 406.50 313.32 405.25 313.50 403.80 C313.68 402.35 313.73 400.63 314.00 399.30 C314.27 397.97 315.28 396.58 315.10 395.80 C314.92 395.02 313.28 394.93 312.90 394.60 C312.52 394.27 312.27 394.23 312.80 393.80 C313.33 393.37 315.22 392.75 316.10 392.00 C316.98 391.25 317.55 390.08 318.10 389.30 C318.65 388.52 319.12 388.05 319.40 387.30 C319.68 386.55 319.67 385.67 319.80 384.80 C319.93 383.93 320.07 382.10 320.20 382.10Z" fill="url(#mg14)" filter="url(#tex14)"/><g filter="url(#bl2)"><ellipse cx="321.40" cy="408.20" rx="1.60" ry="1.60" fill="#3010ff"/><ellipse cx="321.40" cy="408.20" rx="1.18" ry="1.18" fill="#00c0ff"/><ellipse cx="321.40" cy="408.20" rx="0.80" ry="0.80" fill="#ffffff"/></g><g filter="url(#bl3)"><ellipse cx="322.20" cy="386.50" rx="2.00" ry="2.20" fill="#3010ff"/><ellipse cx="322.20" cy="386.50" rx="1.64" ry="1.80" fill="#00d8ff"/><ellipse cx="322.20" cy="386.50" rx="1.32" ry="1.45" fill="#20ff20"/><ellipse cx="322.20" cy="386.50" rx="1.00" ry="1.10" fill="#ffff00"/><ellipse cx="322.20" cy="386.50" rx="0.72" ry="0.79" fill="#ff2000"/><ellipse cx="321.20" cy="405.40" rx="9.00" ry="11.80" fill="#3010ff"/><ellipse cx="321.20" cy="405.40" rx="8.37" ry="10.97" fill="#00d8ff"/><ellipse cx="321.20" cy="405.40" rx="7.92" ry="10.38" fill="#20ff20"/><ellipse cx="321.20" cy="405.40" rx="7.47" ry="9.79" fill="#ffee00"/><ellipse cx="321.20" cy="405.40" rx="7.02" ry="9.20" fill="#ff1000"/><ellipse cx="318.00" cy="399.80" rx="3.00" ry="3.50" fill="#3010ff"/><ellipse cx="318.00" cy="399.80" rx="2.16" ry="2.52" fill="#00d0ff"/><ellipse cx="318.00" cy="399.80" rx="1.35" ry="1.57" fill="#10ff30"/></g></g>
<g clip-path="url(#tc42)"><rect x="334.2" y="381.8" width="22.2" height="38.5" fill="#5a5a5a"/><rect x="334.2" y="381.8" width="22.2" height="38.5" fill="url(#stripes)"/><line x1="334.2" y1="415.40000000000003" x2="356.4" y2="416.0" stroke="#b0b0b0" stroke-width="0.6"/><path d="M344.90 382.10 C345.03 382.10 345.17 383.93 345.30 384.80 C345.43 385.67 345.38 386.55 345.70 387.30 C346.02 388.05 346.65 388.52 347.20 389.30 C347.75 390.08 348.20 391.38 349.00 392.00 C349.80 392.62 351.48 392.67 352.00 393.00 C352.52 393.33 352.42 393.53 352.10 394.00 C351.78 394.47 350.32 394.92 350.10 395.80 C349.88 396.68 350.48 397.97 350.80 399.30 C351.12 400.63 351.70 402.35 352.00 403.80 C352.30 405.25 352.37 406.50 352.60 408.00 C352.83 409.50 353.10 411.53 353.40 412.80 C353.70 414.07 354.37 414.90 354.40 415.60 C354.43 416.30 354.38 416.70 353.60 417.00 C352.82 417.30 351.10 417.40 349.70 417.40 C348.30 417.40 346.70 417.00 345.20 417.00 C343.70 417.00 342.17 417.43 340.70 417.40 C339.23 417.37 337.35 417.03 336.40 416.80 C335.45 416.57 334.93 416.67 335.00 416.00 C335.07 415.33 336.37 414.13 336.80 412.80 C337.23 411.47 337.37 409.50 337.60 408.00 C337.83 406.50 338.02 405.25 338.20 403.80 C338.38 402.35 338.43 400.63 338.70 399.30 C338.97 397.97 339.98 396.58 339.80 395.80 C339.62 395.02 337.98 394.93 337.60 394.60 C337.22 394.27 336.97 394.23 337.50 393.80 C338.03 393.37 339.92 392.75 340.80 392.00 C341.68 391.25 342.25 390.08 342.80 389.30 C343.35 388.52 343.82 388.05 344.10 387.30 C344.38 386.55 344.37 385.67 344.50 384.80 C344.63 383.93 344.77 382.10 344.90 382.10Z" fill="url(#mg14)" filter="url(#tex14)"/><g filter="url(#bl2)"><ellipse cx="345.10" cy="383.70" rx="1.20" ry="1.20" fill="#3010ff"/><ellipse cx="345.10" cy="383.70" rx="0.72" ry="0.72" fill="#00c8ff"/><ellipse cx="347.00" cy="389.40" rx="2.00" ry="2.00" fill="#3010ff"/><ellipse cx="347.00" cy="389.40" rx="1.48" ry="1.48" fill="#00c0ff"/><ellipse cx="347.00" cy="389.40" rx="1.00" ry="1.00" fill="#ffffff"/><ellipse cx="345.10" cy="396.00" rx="1.80" ry="1.80" fill="#3010ff"/><ellipse cx="345.10" cy="396.00" rx="1.33" ry="1.33" fill="#00c0ff"/><ellipse cx="345.10" cy="396.00" rx="0.90" ry="0.90" fill="#ffffff"/></g><g filter="url(#bl3)"><ellipse cx="348.90" cy="406.30" rx="5.00" ry="4.00" fill="#3010ff"/><ellipse cx="348.90" cy="406.30" rx="3.70" ry="2.96" fill="#00c0ff"/><ellipse cx="348.90" cy="406.30" rx="2.50" ry="2.00" fill="#ffffff"/><ellipse cx="345.20" cy="416.30" rx="7.50" ry="1.80" fill="#2a10ff"/><ellipse cx="345.20" cy="416.30" rx="4.12" ry="0.99" fill="#1030ff"/><ellipse cx="338.10" cy="412.90" rx="3.20" ry="3.20" fill="#3010ff"/><ellipse cx="338.10" cy="412.90" rx="2.98" ry="2.98" fill="#00d8ff"/><ellipse cx="338.10" cy="412.90" rx="2.82" ry="2.82" fill="#20ff20"/><ellipse cx="338.10" cy="412.90" rx="2.66" ry="2.66" fill="#ffee00"/><ellipse cx="338.10" cy="412.90" rx="2.50" ry="2.50" fill="#ff1000"/><ellipse cx="351.80" cy="411.10" rx="2.40" ry="3.20" fill="#3010ff"/><ellipse cx="351.80" cy="411.10" rx="1.97" ry="2.62" fill="#00d8ff"/><ellipse cx="351.80" cy="411.10" rx="1.58" ry="2.11" fill="#20ff20"/><ellipse cx="351.80" cy="411.10" rx="1.20" ry="1.60" fill="#ffff00"/><ellipse cx="351.80" cy="411.10" rx="0.86" ry="1.15" fill="#ff2000"/></g></g>
<g clip-path="url(#tc43)"><rect x="359.0" y="381.8" width="22.2" height="38.5" fill="#585858"/><rect x="359.0" y="381.8" width="22.2" height="38.5" fill="url(#stripes)"/><line x1="359.0" y1="415.40000000000003" x2="381.2" y2="416.0" stroke="#b0b0b0" stroke-width="0.6"/><path d="M369.70 382.10 C369.83 382.10 369.97 383.93 370.10 384.80 C370.23 385.67 370.18 386.55 370.50 387.30 C370.82 388.05 371.45 388.52 372.00 389.30 C372.55 390.08 373.00 391.38 373.80 392.00 C374.60 392.62 376.28 392.67 376.80 393.00 C377.32 393.33 377.22 393.53 376.90 394.00 C376.58 394.47 375.12 394.92 374.90 395.80 C374.68 396.68 375.28 397.97 375.60 399.30 C375.92 400.63 376.50 402.35 376.80 403.80 C377.10 405.25 377.17 406.50 377.40 408.00 C377.63 409.50 377.90 411.53 378.20 412.80 C378.50 414.07 379.17 414.90 379.20 415.60 C379.23 416.30 379.18 416.70 378.40 417.00 C377.62 417.30 375.90 417.40 374.50 417.40 C373.10 417.40 371.50 417.00 370.00 417.00 C368.50 417.00 366.97 417.43 365.50 417.40 C364.03 417.37 362.15 417.03 361.20 416.80 C360.25 416.57 359.73 416.67 359.80 416.00 C359.87 415.33 361.17 414.13 361.60 412.80 C362.03 411.47 362.17 409.50 362.40 408.00 C362.63 406.50 362.82 405.25 363.00 403.80 C363.18 402.35 363.23 400.63 363.50 399.30 C363.77 397.97 364.78 396.58 364.60 395.80 C364.42 395.02 362.78 394.93 362.40 394.60 C362.02 394.27 361.77 394.23 362.30 393.80 C362.83 393.37 364.72 392.75 365.60 392.00 C366.48 391.25 367.05 390.08 367.60 389.30 C368.15 388.52 368.62 388.05 368.90 387.30 C369.18 386.55 369.17 385.67 369.30 384.80 C369.43 383.93 369.57 382.10 369.70 382.10Z" fill="url(#mg14)" filter="url(#tex14)"/><g filter="url(#bl2)"><ellipse cx="365.90" cy="393.10" rx="1.50" ry="1.50" fill="#3010ff"/><ellipse cx="365.90" cy="393.10" rx="1.11" ry="1.11" fill="#00c0ff"/><ellipse cx="365.90" cy="393.10" rx="0.75" ry="0.75" fill="#ffffff"/><ellipse cx="365.90" cy="398.80" rx="2.00" ry="2.00" fill="#3010ff"/><ellipse cx="365.90" cy="398.80" rx="1.44" ry="1.44" fill="#00d0ff"/><ellipse cx="365.90" cy="398.80" rx="0.90" ry="0.90" fill="#10ff30"/></g><g filter="url(#bl3)"><ellipse cx="368.70" cy="387.40" rx="2.00" ry="2.00" fill="#3010ff"/><ellipse cx="368.70" cy="387.40" rx="1.64" ry="1.64" fill="#00d8ff"/><ellipse cx="368.70" cy="387.40" rx="1.32" ry="1.32" fill="#20ff20"/><ellipse cx="368.70" cy="387.40" rx="1.00" ry="1.00" fill="#ffff00"/><ellipse cx="368.70" cy="387.40" rx="0.72" ry="0.72" fill="#ff2000"/><ellipse cx="374.40" cy="412.00" rx="4.50" ry="2.20" fill="#2a10ff"/><ellipse cx="374.40" cy="412.00" rx="2.48" ry="1.21" fill="#1030ff"/><ellipse cx="369.00" cy="411.80" rx="8.50" ry="2.80" fill="#3010ff"/><ellipse cx="369.00" cy="411.80" rx="7.22" ry="2.38" fill="#00d8ff"/><ellipse cx="369.00" cy="411.80" rx="6.12" ry="2.02" fill="#20ff20"/><ellipse cx="369.00" cy="411.80" rx="5.10" ry="1.68" fill="#ffee00"/><ellipse cx="369.00" cy="411.80" rx="4.08" ry="1.34" fill="#ff1a00"/><ellipse cx="365.00" cy="411.10" rx="3.20" ry="2.60" fill="#3010ff"/><ellipse cx="365.00" cy="411.10" rx="2.98" ry="2.42" fill="#00d8ff"/><ellipse cx="365.00" cy="411.10" rx="2.82" ry="2.29" fill="#20ff20"/><ellipse cx="365.00" cy="411.10" rx="2.66" ry="2.16" fill="#ffee00"/><ellipse cx="365.00" cy="411.10" rx="2.50" ry="2.03" fill="#ff1000"/></g></g>
<g clip-path="url(#tc44)"><rect x="383.6" y="381.8" width="22.2" height="38.5" fill="#5a5a5a"/><rect x="383.6" y="381.8" width="22.2" height="38.5" fill="url(#stripes)"/><line x1="383.6" y1="415.40000000000003" x2="405.8" y2="416.0" stroke="#b0b0b0" stroke-width="0.6"/><path d="M394.30 382.10 C394.43 382.10 394.57 383.93 394.70 384.80 C394.83 385.67 394.78 386.55 395.10 387.30 C395.42 388.05 396.05 388.52 396.60 389.30 C397.15 390.08 397.60 391.38 398.40 392.00 C399.20 392.62 400.88 392.67 401.40 393.00 C401.92 393.33 401.82 393.53 401.50 394.00 C401.18 394.47 399.72 394.92 399.50 395.80 C399.28 396.68 399.88 397.97 400.20 399.30 C400.52 400.63 401.10 402.35 401.40 403.80 C401.70 405.25 401.77 406.50 402.00 408.00 C402.23 409.50 402.50 411.53 402.80 412.80 C403.10 414.07 403.77 414.90 403.80 415.60 C403.83 416.30 403.78 416.70 403.00 417.00 C402.22 417.30 400.50 417.40 399.10 417.40 C397.70 417.40 396.10 417.00 394.60 417.00 C393.10 417.00 391.57 417.43 390.10 417.40 C388.63 417.37 386.75 417.03 385.80 416.80 C384.85 416.57 384.33 416.67 384.40 416.00 C384.47 415.33 385.77 414.13 386.20 412.80 C386.63 411.47 386.77 409.50 387.00 408.00 C387.23 406.50 387.42 405.25 387.60 403.80 C387.78 402.35 387.83 400.63 388.10 399.30 C388.37 397.97 389.38 396.58 389.20 395.80 C389.02 395.02 387.38 394.93 387.00 394.60 C386.62 394.27 386.37 394.23 386.90 393.80 C387.43 393.37 389.32 392.75 390.20 392.00 C391.08 391.25 391.65 390.08 392.20 389.30 C392.75 388.52 393.22 388.05 393.50 387.30 C393.78 386.55 393.77 385.67 393.90 384.80 C394.03 383.93 394.17 382.10 394.30 382.10Z" fill="url(#mg14)" filter="url(#tex14)"/><g filter="url(#bl2)"><ellipse cx="394.10" cy="386.50" rx="1.60" ry="1.60" fill="#3010ff"/><ellipse cx="394.10" cy="386.50" rx="1.15" ry="1.15" fill="#00d0ff"/><ellipse cx="394.10" cy="386.50" rx="0.72" ry="0.72" fill="#10ff30"/></g><g filter="url(#bl3)"><ellipse cx="394.10" cy="398.30" rx="5.00" ry="5.50" fill="#3010ff"/><ellipse cx="394.10" cy="398.30" rx="3.70" ry="4.07" fill="#00c0ff"/><ellipse cx="394.10" cy="398.30" rx="2.50" ry="2.75" fill="#ffffff"/><ellipse cx="394.10" cy="413.80" rx="9.00" ry="4.00" fill="#2a10ff"/><ellipse cx="394.10" cy="413.80" rx="4.95" ry="2.20" fill="#1030ff"/><ellipse cx="398.80" cy="403.50" rx="2.60" ry="2.60" fill="#3010ff"/><ellipse cx="398.80" cy="403.50" rx="2.42" ry="2.42" fill="#00d8ff"/><ellipse cx="398.80" cy="403.50" rx="2.29" ry="2.29" fill="#20ff20"/><ellipse cx="398.80" cy="403.50" rx="2.16" ry="2.16" fill="#ffee00"/><ellipse cx="398.80" cy="403.50" rx="2.03" ry="2.03" fill="#ff1000"/><ellipse cx="389.40" cy="412.90" rx="3.20" ry="2.60" fill="#3010ff"/><ellipse cx="389.40" cy="412.90" rx="2.98" ry="2.42" fill="#00d8ff"/><ellipse cx="389.40" cy="412.90" rx="2.82" ry="2.29" fill="#20ff20"/><ellipse cx="389.40" cy="412.90" rx="2.66" ry="2.16" fill="#ffee00"/><ellipse cx="389.40" cy="412.90" rx="2.50" ry="2.03" fill="#ff1000"/><ellipse cx="398.80" cy="413.80" rx="4.20" ry="3.20" fill="#3010ff"/><ellipse cx="398.80" cy="413.80" rx="3.91" ry="2.98" fill="#00d8ff"/><ellipse cx="398.80" cy="413.80" rx="3.70" ry="2.82" fill="#20ff20"/><ellipse cx="398.80" cy="413.80" rx="3.49" ry="2.66" fill="#ffee00"/><ellipse cx="398.80" cy="413.80" rx="3.28" ry="2.50" fill="#ff1000"/></g></g>
<g clip-path="url(#tc45)"><rect x="32.1" y="426.0" width="22.2" height="38.5" fill="#505050"/><rect x="32.1" y="426.0" width="22.2" height="38.5" fill="url(#stripes)"/><rect x="32.1" y="426.0" width="22.2" height="5.5" fill="#000" opacity="0.28"/><line x1="32.1" y1="458.6" x2="54.3" y2="459.2" stroke="#9a9a9a" stroke-width="0.6"/><path d="M42.30 427.00 C42.45 427.00 42.68 429.12 42.80 430.00 C42.92 430.88 42.75 431.73 43.00 432.30 C43.25 432.87 44.02 432.95 44.30 433.40 C44.58 433.85 44.37 434.47 44.70 435.00 C45.03 435.53 45.17 436.27 46.30 436.60 C47.43 436.93 50.60 436.78 51.50 437.00 C52.40 437.22 52.37 437.23 51.70 437.90 C51.03 438.57 48.17 439.82 47.50 441.00 C46.83 442.18 47.53 443.58 47.70 445.00 C47.87 446.42 48.20 448.17 48.50 449.50 C48.80 450.83 49.27 451.92 49.50 453.00 C49.73 454.08 49.90 455.17 49.90 456.00 C49.90 456.83 49.07 457.50 49.50 458.00 C49.93 458.50 52.03 458.70 52.50 459.00 C52.97 459.30 53.00 459.63 52.30 459.80 C51.60 459.97 49.42 459.83 48.30 460.00 C47.18 460.17 46.50 460.63 45.60 460.80 C44.70 460.97 43.82 461.00 42.90 461.00 C41.98 461.00 41.00 460.97 40.10 460.80 C39.20 460.63 38.57 460.17 37.50 460.00 C36.43 459.83 34.37 459.97 33.70 459.80 C33.03 459.63 33.03 459.30 33.50 459.00 C33.97 458.70 36.07 458.50 36.50 458.00 C36.93 457.50 36.10 456.83 36.10 456.00 C36.10 455.17 36.27 454.08 36.50 453.00 C36.73 451.92 37.23 450.83 37.50 449.50 C37.77 448.17 37.97 446.42 38.10 445.00 C38.23 443.58 38.90 442.27 38.30 441.00 C37.70 439.73 35.17 438.17 34.50 437.40 C33.83 436.63 33.63 436.53 34.30 436.40 C34.97 436.27 37.47 436.83 38.50 436.60 C39.53 436.37 40.07 435.53 40.50 435.00 C40.93 434.47 40.90 433.85 41.10 433.40 C41.30 432.95 41.57 432.87 41.70 432.30 C41.83 431.73 41.80 430.88 41.90 430.00 C42.00 429.12 42.15 427.00 42.30 427.00Z" fill="url(#mg7)" filter="url(#tex)"/></g>
<g clip-path="url(#tc46)"><rect x="56.4" y="426.0" width="22.2" height="38.5" fill="#444444"/><rect x="56.4" y="426.0" width="22.2" height="38.5" fill="url(#stripes)"/><rect x="56.4" y="426.0" width="22.2" height="5.5" fill="#000" opacity="0.28"/><line x1="56.4" y1="458.6" x2="78.6" y2="459.2" stroke="#9a9a9a" stroke-width="0.6"/><path d="M66.60 427.00 C66.75 427.00 66.98 429.12 67.10 430.00 C67.22 430.88 67.05 431.73 67.30 432.30 C67.55 432.87 68.32 432.95 68.60 433.40 C68.88 433.85 68.67 434.47 69.00 435.00 C69.33 435.53 69.47 436.27 70.60 436.60 C71.73 436.93 74.90 436.78 75.80 437.00 C76.70 437.22 76.67 437.23 76.00 437.90 C75.33 438.57 72.47 439.82 71.80 441.00 C71.13 442.18 71.83 443.58 72.00 445.00 C72.17 446.42 72.50 448.17 72.80 449.50 C73.10 450.83 73.57 451.92 73.80 453.00 C74.03 454.08 74.20 455.17 74.20 456.00 C74.20 456.83 73.37 457.50 73.80 458.00 C74.23 458.50 76.33 458.70 76.80 459.00 C77.27 459.30 77.30 459.63 76.60 459.80 C75.90 459.97 73.72 459.83 72.60 460.00 C71.48 460.17 70.80 460.63 69.90 460.80 C69.00 460.97 68.12 461.00 67.20 461.00 C66.28 461.00 65.30 460.97 64.40 460.80 C63.50 460.63 62.87 460.17 61.80 460.00 C60.73 459.83 58.67 459.97 58.00 459.80 C57.33 459.63 57.33 459.30 57.80 459.00 C58.27 458.70 60.37 458.50 60.80 458.00 C61.23 457.50 60.40 456.83 60.40 456.00 C60.40 455.17 60.57 454.08 60.80 453.00 C61.03 451.92 61.53 450.83 61.80 449.50 C62.07 448.17 62.27 446.42 62.40 445.00 C62.53 443.58 63.20 442.27 62.60 441.00 C62.00 439.73 59.47 438.17 58.80 437.40 C58.13 436.63 57.93 436.53 58.60 436.40 C59.27 436.27 61.77 436.83 62.80 436.60 C63.83 436.37 64.37 435.53 64.80 435.00 C65.23 434.47 65.20 433.85 65.40 433.40 C65.60 432.95 65.87 432.87 66.00 432.30 C66.13 431.73 66.10 430.88 66.20 430.00 C66.30 429.12 66.45 427.00 66.60 427.00Z" fill="url(#mg7)" filter="url(#tex)"/></g>
<g clip-path="url(#tc47)"><rect x="81.0" y="426.0" width="22.2" height="38.5" fill="#353535"/><rect x="81.0" y="426.0" width="22.2" height="38.5" fill="url(#stripes)"/><rect x="81.0" y="426.0" width="22.2" height="5.5" fill="#000" opacity="0.28"/><line x1="81.0" y1="458.6" x2="103.2" y2="459.2" stroke="#9a9a9a" stroke-width="0.6"/><path d="M91.20 427.00 C91.35 427.00 91.58 429.12 91.70 430.00 C91.82 430.88 91.65 431.73 91.90 432.30 C92.15 432.87 92.92 432.95 93.20 433.40 C93.48 433.85 93.27 434.47 93.60 435.00 C93.93 435.53 94.07 436.27 95.20 436.60 C96.33 436.93 99.50 436.78 100.40 437.00 C101.30 437.22 101.27 437.23 100.60 437.90 C99.93 438.57 97.07 439.82 96.40 441.00 C95.73 442.18 96.43 443.58 96.60 445.00 C96.77 446.42 97.10 448.17 97.40 449.50 C97.70 450.83 98.17 451.92 98.40 453.00 C98.63 454.08 98.80 455.17 98.80 456.00 C98.80 456.83 97.97 457.50 98.40 458.00 C98.83 458.50 100.93 458.70 101.40 459.00 C101.87 459.30 101.90 459.63 101.20 459.80 C100.50 459.97 98.32 459.83 97.20 460.00 C96.08 460.17 95.40 460.63 94.50 460.80 C93.60 460.97 92.72 461.00 91.80 461.00 C90.88 461.00 89.90 460.97 89.00 460.80 C88.10 460.63 87.47 460.17 86.40 460.00 C85.33 459.83 83.27 459.97 82.60 459.80 C81.93 459.63 81.93 459.30 82.40 459.00 C82.87 458.70 84.97 458.50 85.40 458.00 C85.83 457.50 85.00 456.83 85.00 456.00 C85.00 455.17 85.17 454.08 85.40 453.00 C85.63 451.92 86.13 450.83 86.40 449.50 C86.67 448.17 86.87 446.42 87.00 445.00 C87.13 443.58 87.80 442.27 87.20 441.00 C86.60 439.73 84.07 438.17 83.40 437.40 C82.73 436.63 82.53 436.53 83.20 436.40 C83.87 436.27 86.37 436.83 87.40 436.60 C88.43 436.37 88.97 435.53 89.40 435.00 C89.83 434.47 89.80 433.85 90.00 433.40 C90.20 432.95 90.47 432.87 90.60 432.30 C90.73 431.73 90.70 430.88 90.80 430.00 C90.90 429.12 91.05 427.00 91.20 427.00Z" fill="url(#mg7)" filter="url(#tex)"/></g>
<g clip-path="url(#tc48)"><rect x="105.6" y="426.0" width="22.2" height="38.5" fill="#3c3c3c"/><rect x="105.6" y="426.0" width="22.2" height="38.5" fill="url(#stripes)"/><rect x="105.6" y="426.0" width="22.2" height="5.5" fill="#000" opacity="0.28"/><line x1="105.6" y1="458.6" x2="127.8" y2="459.2" stroke="#9a9a9a" stroke-width="0.6"/><path d="M115.80 427.00 C115.95 427.00 116.18 429.12 116.30 430.00 C116.42 430.88 116.25 431.73 116.50 432.30 C116.75 432.87 117.52 432.95 117.80 433.40 C118.08 433.85 117.87 434.47 118.20 435.00 C118.53 435.53 118.67 436.27 119.80 436.60 C120.93 436.93 124.10 436.78 125.00 437.00 C125.90 437.22 125.87 437.23 125.20 437.90 C124.53 438.57 121.67 439.82 121.00 441.00 C120.33 442.18 121.03 443.58 121.20 445.00 C121.37 446.42 121.70 448.17 122.00 449.50 C122.30 450.83 122.77 451.92 123.00 453.00 C123.23 454.08 123.40 455.17 123.40 456.00 C123.40 456.83 122.57 457.50 123.00 458.00 C123.43 458.50 125.53 458.70 126.00 459.00 C126.47 459.30 126.50 459.63 125.80 459.80 C125.10 459.97 122.92 459.83 121.80 460.00 C120.68 460.17 120.00 460.63 119.10 460.80 C118.20 460.97 117.32 461.00 116.40 461.00 C115.48 461.00 114.50 460.97 113.60 460.80 C112.70 460.63 112.07 460.17 111.00 460.00 C109.93 459.83 107.87 459.97 107.20 459.80 C106.53 459.63 106.53 459.30 107.00 459.00 C107.47 458.70 109.57 458.50 110.00 458.00 C110.43 457.50 109.60 456.83 109.60 456.00 C109.60 455.17 109.77 454.08 110.00 453.00 C110.23 451.92 110.73 450.83 111.00 449.50 C111.27 448.17 111.47 446.42 111.60 445.00 C111.73 443.58 112.40 442.27 111.80 441.00 C111.20 439.73 108.67 438.17 108.00 437.40 C107.33 436.63 107.13 436.53 107.80 436.40 C108.47 436.27 110.97 436.83 112.00 436.60 C113.03 436.37 113.57 435.53 114.00 435.00 C114.43 434.47 114.40 433.85 114.60 433.40 C114.80 432.95 115.07 432.87 115.20 432.30 C115.33 431.73 115.30 430.88 115.40 430.00 C115.50 429.12 115.65 427.00 115.80 427.00Z" fill="url(#mg7)" filter="url(#tex)"/></g>
<g clip-path="url(#tc49)"><rect x="130.1" y="426.0" width="22.2" height="38.5" fill="#555555"/><rect x="130.1" y="426.0" width="22.2" height="38.5" fill="url(#stripes)"/><rect x="130.1" y="426.0" width="22.2" height="5.5" fill="#000" opacity="0.28"/><line x1="130.1" y1="458.6" x2="152.29999999999998" y2="459.2" stroke="#9a9a9a" stroke-width="0.6"/><path d="M140.30 427.00 C140.45 427.00 140.68 429.12 140.80 430.00 C140.92 430.88 140.75 431.73 141.00 432.30 C141.25 432.87 142.02 432.95 142.30 433.40 C142.58 433.85 142.37 434.47 142.70 435.00 C143.03 435.53 143.17 436.27 144.30 436.60 C145.43 436.93 148.60 436.78 149.50 437.00 C150.40 437.22 150.37 437.23 149.70 437.90 C149.03 438.57 146.17 439.82 145.50 441.00 C144.83 442.18 145.53 443.58 145.70 445.00 C145.87 446.42 146.20 448.17 146.50 449.50 C146.80 450.83 147.27 451.92 147.50 453.00 C147.73 454.08 147.90 455.17 147.90 456.00 C147.90 456.83 147.07 457.50 147.50 458.00 C147.93 458.50 150.03 458.70 150.50 459.00 C150.97 459.30 151.00 459.63 150.30 459.80 C149.60 459.97 147.42 459.83 146.30 460.00 C145.18 460.17 144.50 460.63 143.60 460.80 C142.70 460.97 141.82 461.00 140.90 461.00 C139.98 461.00 139.00 460.97 138.10 460.80 C137.20 460.63 136.57 460.17 135.50 460.00 C134.43 459.83 132.37 459.97 131.70 459.80 C131.03 459.63 131.03 459.30 131.50 459.00 C131.97 458.70 134.07 458.50 134.50 458.00 C134.93 457.50 134.10 456.83 134.10 456.00 C134.10 455.17 134.27 454.08 134.50 453.00 C134.73 451.92 135.23 450.83 135.50 449.50 C135.77 448.17 135.97 446.42 136.10 445.00 C136.23 443.58 136.90 442.27 136.30 441.00 C135.70 439.73 133.17 438.17 132.50 437.40 C131.83 436.63 131.63 436.53 132.30 436.40 C132.97 436.27 135.47 436.83 136.50 436.60 C137.53 436.37 138.07 435.53 138.50 435.00 C138.93 434.47 138.90 433.85 139.10 433.40 C139.30 432.95 139.57 432.87 139.70 432.30 C139.83 431.73 139.80 430.88 139.90 430.00 C140.00 429.12 140.15 427.00 140.30 427.00Z" fill="url(#mg7)" filter="url(#tex)"/></g>
<g clip-path="url(#tc50)"><rect x="158.0" y="426.0" width="22.2" height="38.5" fill="#444444"/><rect x="158.0" y="426.0" width="22.2" height="38.5" fill="url(#stripes)"/><line x1="158.0" y1="459.6" x2="180.2" y2="460.2" stroke="#b0b0b0" stroke-width="0.6"/><path d="M168.70 426.30 C168.83 426.30 168.97 428.13 169.10 429.00 C169.23 429.87 169.18 430.75 169.50 431.50 C169.82 432.25 170.45 432.72 171.00 433.50 C171.55 434.28 172.00 435.58 172.80 436.20 C173.60 436.82 175.28 436.87 175.80 437.20 C176.32 437.53 176.22 437.73 175.90 438.20 C175.58 438.67 174.12 439.12 173.90 440.00 C173.68 440.88 174.28 442.17 174.60 443.50 C174.92 444.83 175.50 446.55 175.80 448.00 C176.10 449.45 176.17 450.70 176.40 452.20 C176.63 453.70 176.90 455.73 177.20 457.00 C177.50 458.27 178.17 459.10 178.20 459.80 C178.23 460.50 178.18 460.90 177.40 461.20 C176.62 461.50 174.90 461.60 173.50 461.60 C172.10 461.60 170.50 461.20 169.00 461.20 C167.50 461.20 165.97 461.63 164.50 461.60 C163.03 461.57 161.15 461.23 160.20 461.00 C159.25 460.77 158.73 460.87 158.80 460.20 C158.87 459.53 160.17 458.33 160.60 457.00 C161.03 455.67 161.17 453.70 161.40 452.20 C161.63 450.70 161.82 449.45 162.00 448.00 C162.18 446.55 162.23 444.83 162.50 443.50 C162.77 442.17 163.78 440.78 163.60 440.00 C163.42 439.22 161.78 439.13 161.40 438.80 C161.02 438.47 160.77 438.43 161.30 438.00 C161.83 437.57 163.72 436.95 164.60 436.20 C165.48 435.45 166.05 434.28 166.60 433.50 C167.15 432.72 167.62 432.25 167.90 431.50 C168.18 430.75 168.17 429.87 168.30 429.00 C168.43 428.13 168.57 426.30 168.70 426.30Z" fill="url(#mg14)" filter="url(#tex14)"/><g filter="url(#bl2)"><ellipse cx="171.20" cy="454.30" rx="1.60" ry="1.60" fill="#3010ff"/><ellipse cx="171.20" cy="454.30" rx="0.96" ry="0.96" fill="#00c8ff"/><ellipse cx="167.00" cy="457.00" rx="1.00" ry="0.80" fill="#2a10ff"/><ellipse cx="167.00" cy="457.00" rx="0.55" ry="0.44" fill="#1030ff"/></g></g>
<g clip-path="url(#tc51)"><rect x="182.7" y="426.0" width="22.2" height="38.5" fill="#474747"/><rect x="182.7" y="426.0" width="22.2" height="38.5" fill="url(#stripes)"/><line x1="182.7" y1="459.6" x2="204.89999999999998" y2="460.2" stroke="#b0b0b0" stroke-width="0.6"/><path d="M193.40 426.30 C193.53 426.30 193.67 428.13 193.80 429.00 C193.93 429.87 193.88 430.75 194.20 431.50 C194.52 432.25 195.15 432.72 195.70 433.50 C196.25 434.28 196.70 435.58 197.50 436.20 C198.30 436.82 199.98 436.87 200.50 437.20 C201.02 437.53 200.92 437.73 200.60 438.20 C200.28 438.67 198.82 439.12 198.60 440.00 C198.38 440.88 198.98 442.17 199.30 443.50 C199.62 444.83 200.20 446.55 200.50 448.00 C200.80 449.45 200.87 450.70 201.10 452.20 C201.33 453.70 201.60 455.73 201.90 457.00 C202.20 458.27 202.87 459.10 202.90 459.80 C202.93 460.50 202.88 460.90 202.10 461.20 C201.32 461.50 199.60 461.60 198.20 461.60 C196.80 461.60 195.20 461.20 193.70 461.20 C192.20 461.20 190.67 461.63 189.20 461.60 C187.73 461.57 185.85 461.23 184.90 461.00 C183.95 460.77 183.43 460.87 183.50 460.20 C183.57 459.53 184.87 458.33 185.30 457.00 C185.73 455.67 185.87 453.70 186.10 452.20 C186.33 450.70 186.52 449.45 186.70 448.00 C186.88 446.55 186.93 444.83 187.20 443.50 C187.47 442.17 188.48 440.78 188.30 440.00 C188.12 439.22 186.48 439.13 186.10 438.80 C185.72 438.47 185.47 438.43 186.00 438.00 C186.53 437.57 188.42 436.95 189.30 436.20 C190.18 435.45 190.75 434.28 191.30 433.50 C191.85 432.72 192.32 432.25 192.60 431.50 C192.88 430.75 192.87 429.87 193.00 429.00 C193.13 428.13 193.27 426.30 193.40 426.30Z" fill="url(#mg14)" filter="url(#tex14)"/><g filter="url(#bl2)"><ellipse cx="193.10" cy="441.90" rx="1.00" ry="2.00" fill="#2a10ff"/><ellipse cx="193.10" cy="441.90" rx="0.55" ry="1.10" fill="#1030ff"/><ellipse cx="188.40" cy="454.30" rx="1.50" ry="2.00" fill="#3010ff"/><ellipse cx="188.40" cy="454.30" rx="1.08" ry="1.44" fill="#00d0ff"/><ellipse cx="188.40" cy="454.30" rx="0.68" ry="0.90" fill="#10ff30"/><ellipse cx="200.70" cy="454.30" rx="1.50" ry="2.00" fill="#3010ff"/><ellipse cx="200.70" cy="454.30" rx="1.08" ry="1.44" fill="#00d0ff"/><ellipse cx="200.70" cy="454.30" rx="0.68" ry="0.90" fill="#10ff30"/></g></g>
<g clip-path="url(#tc52)"><rect x="207.6" y="426.0" width="22.2" height="38.5" fill="#3c3c3c"/><rect x="207.6" y="426.0" width="22.2" height="38.5" fill="url(#stripes)"/><line x1="207.6" y1="459.6" x2="229.79999999999998" y2="460.2" stroke="#b0b0b0" stroke-width="0.6"/><path d="M218.30 426.30 C218.43 426.30 218.57 428.13 218.70 429.00 C218.83 429.87 218.78 430.75 219.10 431.50 C219.42 432.25 220.05 432.72 220.60 433.50 C221.15 434.28 221.60 435.58 222.40 436.20 C223.20 436.82 224.88 436.87 225.40 437.20 C225.92 437.53 225.82 437.73 225.50 438.20 C225.18 438.67 223.72 439.12 223.50 440.00 C223.28 440.88 223.88 442.17 224.20 443.50 C224.52 444.83 225.10 446.55 225.40 448.00 C225.70 449.45 225.77 450.70 226.00 452.20 C226.23 453.70 226.50 455.73 226.80 457.00 C227.10 458.27 227.77 459.10 227.80 459.80 C227.83 460.50 227.78 460.90 227.00 461.20 C226.22 461.50 224.50 461.60 223.10 461.60 C221.70 461.60 220.10 461.20 218.60 461.20 C217.10 461.20 215.57 461.63 214.10 461.60 C212.63 461.57 210.75 461.23 209.80 461.00 C208.85 460.77 208.33 460.87 208.40 460.20 C208.47 459.53 209.77 458.33 210.20 457.00 C210.63 455.67 210.77 453.70 211.00 452.20 C211.23 450.70 211.42 449.45 211.60 448.00 C211.78 446.55 211.83 444.83 212.10 443.50 C212.37 442.17 213.38 440.78 213.20 440.00 C213.02 439.22 211.38 439.13 211.00 438.80 C210.62 438.47 210.37 438.43 210.90 438.00 C211.43 437.57 213.32 436.95 214.20 436.20 C215.08 435.45 215.65 434.28 216.20 433.50 C216.75 432.72 217.22 432.25 217.50 431.50 C217.78 430.75 217.77 429.87 217.90 429.00 C218.03 428.13 218.17 426.30 218.30 426.30Z" fill="url(#mg14)" filter="url(#tex14)"/><g filter="url(#bl2)"><ellipse cx="225.70" cy="455.00" rx="1.60" ry="2.00" fill="#3010ff"/><ellipse cx="225.70" cy="455.00" rx="1.15" ry="1.44" fill="#00d0ff"/><ellipse cx="225.70" cy="455.00" rx="0.72" ry="0.90" fill="#10ff30"/></g><g filter="url(#bl3)"><ellipse cx="215.20" cy="455.20" rx="2.20" ry="2.20" fill="#3010ff"/><ellipse cx="215.20" cy="455.20" rx="1.80" ry="1.80" fill="#00d8ff"/><ellipse cx="215.20" cy="455.20" rx="1.45" ry="1.45" fill="#20ff20"/><ellipse cx="215.20" cy="455.20" rx="1.10" ry="1.10" fill="#ffff00"/><ellipse cx="215.20" cy="455.20" rx="0.79" ry="0.79" fill="#ff2000"/></g></g>
<g clip-path="url(#tc53)"><rect x="232.1" y="426.0" width="22.2" height="38.5" fill="#4a4a4a"/><rect x="232.1" y="426.0" width="22.2" height="38.5" fill="url(#stripes)"/><line x1="232.1" y1="459.6" x2="254.29999999999998" y2="460.2" stroke="#b0b0b0" stroke-width="0.6"/><path d="M242.80 426.30 C242.93 426.30 243.07 428.13 243.20 429.00 C243.33 429.87 243.28 430.75 243.60 431.50 C243.92 432.25 244.55 432.72 245.10 433.50 C245.65 434.28 246.10 435.58 246.90 436.20 C247.70 436.82 249.38 436.87 249.90 437.20 C250.42 437.53 250.32 437.73 250.00 438.20 C249.68 438.67 248.22 439.12 248.00 440.00 C247.78 440.88 248.38 442.17 248.70 443.50 C249.02 444.83 249.60 446.55 249.90 448.00 C250.20 449.45 250.27 450.70 250.50 452.20 C250.73 453.70 251.00 455.73 251.30 457.00 C251.60 458.27 252.27 459.10 252.30 459.80 C252.33 460.50 252.28 460.90 251.50 461.20 C250.72 461.50 249.00 461.60 247.60 461.60 C246.20 461.60 244.60 461.20 243.10 461.20 C241.60 461.20 240.07 461.63 238.60 461.60 C237.13 461.57 235.25 461.23 234.30 461.00 C233.35 460.77 232.83 460.87 232.90 460.20 C232.97 459.53 234.27 458.33 234.70 457.00 C235.13 455.67 235.27 453.70 235.50 452.20 C235.73 450.70 235.92 449.45 236.10 448.00 C236.28 446.55 236.33 444.83 236.60 443.50 C236.87 442.17 237.88 440.78 237.70 440.00 C237.52 439.22 235.88 439.13 235.50 438.80 C235.12 438.47 234.87 438.43 235.40 438.00 C235.93 437.57 237.82 436.95 238.70 436.20 C239.58 435.45 240.15 434.28 240.70 433.50 C241.25 432.72 241.72 432.25 242.00 431.50 C242.28 430.75 242.27 429.87 242.40 429.00 C242.53 428.13 242.67 426.30 242.80 426.30Z" fill="url(#mg14)" filter="url(#tex14)"/><g filter="url(#bl2)"><ellipse cx="243.70" cy="440.00" rx="1.50" ry="1.50" fill="#2a10ff"/><ellipse cx="243.70" cy="440.00" rx="0.83" ry="0.83" fill="#1030ff"/><ellipse cx="249.80" cy="455.00" rx="1.30" ry="1.50" fill="#3010ff"/><ellipse cx="249.80" cy="455.00" rx="0.94" ry="1.08" fill="#00d0ff"/><ellipse cx="249.80" cy="455.00" rx="0.59" ry="0.68" fill="#10ff30"/><ellipse cx="243.10" cy="457.00" rx="0.90" ry="0.90" fill="#2a10ff"/><ellipse cx="243.10" cy="457.00" rx="0.50" ry="0.50" fill="#1030ff"/></g><g filter="url(#bl3)"><ellipse cx="237.40" cy="455.20" rx="2.00" ry="2.00" fill="#3010ff"/><ellipse cx="237.40" cy="455.20" rx="1.64" ry="1.64" fill="#00d8ff"/><ellipse cx="237.40" cy="455.20" rx="1.32" ry="1.32" fill="#20ff20"/><ellipse cx="237.40" cy="455.20" rx="1.00" ry="1.00" fill="#ffff00"/><ellipse cx="237.40" cy="455.20" rx="0.72" ry="0.72" fill="#ff2000"/></g></g>
<g clip-path="url(#tc54)"><rect x="256.4" y="426.0" width="22.2" height="38.5" fill="#4c4c4c"/><rect x="256.4" y="426.0" width="22.2" height="38.5" fill="url(#stripes)"/><line x1="256.4" y1="459.6" x2="278.59999999999997" y2="460.2" stroke="#b0b0b0" stroke-width="0.6"/><path d="M267.10 426.30 C267.23 426.30 267.37 428.13 267.50 429.00 C267.63 429.87 267.58 430.75 267.90 431.50 C268.22 432.25 268.85 432.72 269.40 433.50 C269.95 434.28 270.40 435.58 271.20 436.20 C272.00 436.82 273.68 436.87 274.20 437.20 C274.72 437.53 274.62 437.73 274.30 438.20 C273.98 438.67 272.52 439.12 272.30 440.00 C272.08 440.88 272.68 442.17 273.00 443.50 C273.32 444.83 273.90 446.55 274.20 448.00 C274.50 449.45 274.57 450.70 274.80 452.20 C275.03 453.70 275.30 455.73 275.60 457.00 C275.90 458.27 276.57 459.10 276.60 459.80 C276.63 460.50 276.58 460.90 275.80 461.20 C275.02 461.50 273.30 461.60 271.90 461.60 C270.50 461.60 268.90 461.20 267.40 461.20 C265.90 461.20 264.37 461.63 262.90 461.60 C261.43 461.57 259.55 461.23 258.60 461.00 C257.65 460.77 257.13 460.87 257.20 460.20 C257.27 459.53 258.57 458.33 259.00 457.00 C259.43 455.67 259.57 453.70 259.80 452.20 C260.03 450.70 260.22 449.45 260.40 448.00 C260.58 446.55 260.63 444.83 260.90 443.50 C261.17 442.17 262.18 440.78 262.00 440.00 C261.82 439.22 260.18 439.13 259.80 438.80 C259.42 438.47 259.17 438.43 259.70 438.00 C260.23 437.57 262.12 436.95 263.00 436.20 C263.88 435.45 264.45 434.28 265.00 433.50 C265.55 432.72 266.02 432.25 266.30 431.50 C266.58 430.75 266.57 429.87 266.70 429.00 C266.83 428.13 266.97 426.30 267.10 426.30Z" fill="url(#mg14)" filter="url(#tex14)"/><g filter="url(#bl2)"><ellipse cx="266.60" cy="447.60" rx="1.50" ry="2.00" fill="#2a10ff"/><ellipse cx="266.60" cy="447.60" rx="0.83" ry="1.10" fill="#1030ff"/><ellipse cx="273.40" cy="454.00" rx="1.20" ry="1.20" fill="#2a10ff"/><ellipse cx="273.40" cy="454.00" rx="0.66" ry="0.66" fill="#1030ff"/></g></g>
<g clip-path="url(#tc55)"><rect x="284.7" y="426.0" width="22.2" height="38.5" fill="#555555"/><rect x="284.7" y="426.0" width="22.2" height="38.5" fill="url(#stripes)"/><line x1="284.7" y1="459.6" x2="306.9" y2="460.2" stroke="#b0b0b0" stroke-width="0.6"/><path d="M295.40 426.30 C295.53 426.30 295.67 428.13 295.80 429.00 C295.93 429.87 295.88 430.75 296.20 431.50 C296.52 432.25 297.15 432.72 297.70 433.50 C298.25 434.28 298.70 435.58 299.50 436.20 C300.30 436.82 301.98 436.87 302.50 437.20 C303.02 437.53 302.92 437.73 302.60 438.20 C302.28 438.67 300.82 439.12 300.60 440.00 C300.38 440.88 300.98 442.17 301.30 443.50 C301.62 444.83 302.20 446.55 302.50 448.00 C302.80 449.45 302.87 450.70 303.10 452.20 C303.33 453.70 303.60 455.73 303.90 457.00 C304.20 458.27 304.87 459.10 304.90 459.80 C304.93 460.50 304.88 460.90 304.10 461.20 C303.32 461.50 301.60 461.60 300.20 461.60 C298.80 461.60 297.20 461.20 295.70 461.20 C294.20 461.20 292.67 461.63 291.20 461.60 C289.73 461.57 287.85 461.23 286.90 461.00 C285.95 460.77 285.43 460.87 285.50 460.20 C285.57 459.53 286.87 458.33 287.30 457.00 C287.73 455.67 287.87 453.70 288.10 452.20 C288.33 450.70 288.52 449.45 288.70 448.00 C288.88 446.55 288.93 444.83 289.20 443.50 C289.47 442.17 290.48 440.78 290.30 440.00 C290.12 439.22 288.48 439.13 288.10 438.80 C287.72 438.47 287.47 438.43 288.00 438.00 C288.53 437.57 290.42 436.95 291.30 436.20 C292.18 435.45 292.75 434.28 293.30 433.50 C293.85 432.72 294.32 432.25 294.60 431.50 C294.88 430.75 294.87 429.87 295.00 429.00 C295.13 428.13 295.27 426.30 295.40 426.30Z" fill="url(#mg14)" filter="url(#tex14)"/><g filter="url(#bl2)"><ellipse cx="300.80" cy="456.30" rx="2.00" ry="1.60" fill="#2a10ff"/><ellipse cx="300.80" cy="456.30" rx="1.10" ry="0.88" fill="#1030ff"/></g><g filter="url(#bl3)"><ellipse cx="296.10" cy="447.80" rx="2.80" ry="2.20" fill="#3010ff"/><ellipse cx="296.10" cy="447.80" rx="2.30" ry="1.80" fill="#00d8ff"/><ellipse cx="296.10" cy="447.80" rx="1.85" ry="1.45" fill="#20ff20"/><ellipse cx="296.10" cy="447.80" rx="1.40" ry="1.10" fill="#ffff00"/><ellipse cx="296.10" cy="447.80" rx="1.01" ry="0.79" fill="#ff2000"/><ellipse cx="291.40" cy="456.30" rx="6.20" ry="3.20" fill="#3010ff"/><ellipse cx="291.40" cy="456.30" rx="5.08" ry="2.62" fill="#00d8ff"/><ellipse cx="291.40" cy="456.30" rx="4.09" ry="2.11" fill="#20ff20"/><ellipse cx="291.40" cy="456.30" rx="3.10" ry="1.60" fill="#ffff00"/><ellipse cx="291.40" cy="456.30" rx="2.23" ry="1.15" fill="#ff2000"/><ellipse cx="295.70" cy="459.00" rx="5.00" ry="1.50" fill="#2a10ff"/><ellipse cx="295.70" cy="459.00" rx="2.75" ry="0.83" fill="#1030ff"/></g></g>
<g clip-path="url(#tc56)"><rect x="309.5" y="426.0" width="22.2" height="38.5" fill="#555555"/><rect x="309.5" y="426.0" width="22.2" height="38.5" fill="url(#stripes)"/><line x1="309.5" y1="459.6" x2="331.7" y2="460.2" stroke="#b0b0b0" stroke-width="0.6"/><path d="M320.20 426.30 C320.33 426.30 320.47 428.13 320.60 429.00 C320.73 429.87 320.68 430.75 321.00 431.50 C321.32 432.25 321.95 432.72 322.50 433.50 C323.05 434.28 323.50 435.58 324.30 436.20 C325.10 436.82 326.78 436.87 327.30 437.20 C327.82 437.53 327.72 437.73 327.40 438.20 C327.08 438.67 325.62 439.12 325.40 440.00 C325.18 440.88 325.78 442.17 326.10 443.50 C326.42 444.83 327.00 446.55 327.30 448.00 C327.60 449.45 327.67 450.70 327.90 452.20 C328.13 453.70 328.40 455.73 328.70 457.00 C329.00 458.27 329.67 459.10 329.70 459.80 C329.73 460.50 329.68 460.90 328.90 461.20 C328.12 461.50 326.40 461.60 325.00 461.60 C323.60 461.60 322.00 461.20 320.50 461.20 C319.00 461.20 317.47 461.63 316.00 461.60 C314.53 461.57 312.65 461.23 311.70 461.00 C310.75 460.77 310.23 460.87 310.30 460.20 C310.37 459.53 311.67 458.33 312.10 457.00 C312.53 455.67 312.67 453.70 312.90 452.20 C313.13 450.70 313.32 449.45 313.50 448.00 C313.68 446.55 313.73 444.83 314.00 443.50 C314.27 442.17 315.28 440.78 315.10 440.00 C314.92 439.22 313.28 439.13 312.90 438.80 C312.52 438.47 312.27 438.43 312.80 438.00 C313.33 437.57 315.22 436.95 316.10 436.20 C316.98 435.45 317.55 434.28 318.10 433.50 C318.65 432.72 319.12 432.25 319.40 431.50 C319.68 430.75 319.67 429.87 319.80 429.00 C319.93 428.13 320.07 426.30 320.20 426.30Z" fill="url(#mg14)" filter="url(#tex14)"/><g filter="url(#bl2)"><ellipse cx="322.20" cy="429.90" rx="1.60" ry="1.60" fill="#3010ff"/><ellipse cx="322.20" cy="429.90" rx="1.15" ry="1.15" fill="#00d0ff"/><ellipse cx="322.20" cy="429.90" rx="0.72" ry="0.72" fill="#10ff30"/></g><g filter="url(#bl3)"><ellipse cx="321.40" cy="442.10" rx="4.80" ry="8.80" fill="#3010ff"/><ellipse cx="321.40" cy="442.10" rx="3.55" ry="6.51" fill="#00c0ff"/><ellipse cx="321.40" cy="442.10" rx="2.40" ry="4.40" fill="#ffffff"/><ellipse cx="321.40" cy="445.90" rx="2.20" ry="2.20" fill="#3010ff"/><ellipse cx="321.40" cy="445.90" rx="1.80" ry="1.80" fill="#00d8ff"/><ellipse cx="321.40" cy="445.90" rx="1.45" ry="1.45" fill="#20ff20"/><ellipse cx="321.40" cy="445.90" rx="1.10" ry="1.10" fill="#ffff00"/><ellipse cx="321.40" cy="445.90" rx="0.79" ry="0.79" fill="#ff2000"/><ellipse cx="320.40" cy="458.20" rx="4.50" ry="2.80" fill="#2a10ff"/><ellipse cx="320.40" cy="458.20" rx="2.48" ry="1.54" fill="#1030ff"/><ellipse cx="314.80" cy="454.40" rx="3.20" ry="3.20" fill="#3010ff"/><ellipse cx="314.80" cy="454.40" rx="2.98" ry="2.98" fill="#00d8ff"/><ellipse cx="314.80" cy="454.40" rx="2.82" ry="2.82" fill="#20ff20"/><ellipse cx="314.80" cy="454.40" rx="2.66" ry="2.66" fill="#ffee00"/><ellipse cx="314.80" cy="454.40" rx="2.50" ry="2.50" fill="#ff1000"/><ellipse cx="327.00" cy="455.30" rx="2.60" ry="2.60" fill="#3010ff"/><ellipse cx="327.00" cy="455.30" rx="2.42" ry="2.42" fill="#00d8ff"/><ellipse cx="327.00" cy="455.30" rx="2.29" ry="2.29" fill="#20ff20"/><ellipse cx="327.00" cy="455.30" rx="2.16" ry="2.16" fill="#ffee00"/><ellipse cx="327.00" cy="455.30" rx="2.03" ry="2.03" fill="#ff1000"/></g></g>
<g clip-path="url(#tc57)"><rect x="334.2" y="426.0" width="22.2" height="38.5" fill="#555555"/><rect x="334.2" y="426.0" width="22.2" height="38.5" fill="url(#stripes)"/><line x1="334.2" y1="459.6" x2="356.4" y2="460.2" stroke="#b0b0b0" stroke-width="0.6"/><path d="M344.90 426.30 C345.03 426.30 345.17 428.13 345.30 429.00 C345.43 429.87 345.38 430.75 345.70 431.50 C346.02 432.25 346.65 432.72 347.20 433.50 C347.75 434.28 348.20 435.58 349.00 436.20 C349.80 436.82 351.48 436.87 352.00 437.20 C352.52 437.53 352.42 437.73 352.10 438.20 C351.78 438.67 350.32 439.12 350.10 440.00 C349.88 440.88 350.48 442.17 350.80 443.50 C351.12 444.83 351.70 446.55 352.00 448.00 C352.30 449.45 352.37 450.70 352.60 452.20 C352.83 453.70 353.10 455.73 353.40 457.00 C353.70 458.27 354.37 459.10 354.40 459.80 C354.43 460.50 354.38 460.90 353.60 461.20 C352.82 461.50 351.10 461.60 349.70 461.60 C348.30 461.60 346.70 461.20 345.20 461.20 C343.70 461.20 342.17 461.63 340.70 461.60 C339.23 461.57 337.35 461.23 336.40 461.00 C335.45 460.77 334.93 460.87 335.00 460.20 C335.07 459.53 336.37 458.33 336.80 457.00 C337.23 455.67 337.37 453.70 337.60 452.20 C337.83 450.70 338.02 449.45 338.20 448.00 C338.38 446.55 338.43 444.83 338.70 443.50 C338.97 442.17 339.98 440.78 339.80 440.00 C339.62 439.22 337.98 439.13 337.60 438.80 C337.22 438.47 336.97 438.43 337.50 438.00 C338.03 437.57 339.92 436.95 340.80 436.20 C341.68 435.45 342.25 434.28 342.80 433.50 C343.35 432.72 343.82 432.25 344.10 431.50 C344.38 430.75 344.37 429.87 344.50 429.00 C344.63 428.13 344.77 426.30 344.90 426.30Z" fill="url(#mg14)" filter="url(#tex14)"/><g filter="url(#bl2)"><ellipse cx="344.20" cy="447.80" rx="1.00" ry="1.00" fill="#2a10ff"/><ellipse cx="344.20" cy="447.80" rx="0.55" ry="0.55" fill="#1030ff"/></g><g filter="url(#bl3)"><ellipse cx="344.20" cy="456.30" rx="8.20" ry="6.80" fill="#3010ff"/><ellipse cx="344.20" cy="456.30" rx="6.07" ry="5.03" fill="#00c0ff"/><ellipse cx="344.20" cy="456.30" rx="4.10" ry="3.40" fill="#ffffff"/><ellipse cx="344.20" cy="456.30" rx="6.00" ry="5.00" fill="#3010ff"/><ellipse cx="344.20" cy="456.30" rx="4.32" ry="3.60" fill="#00d0ff"/><ellipse cx="344.20" cy="456.30" rx="2.70" ry="2.25" fill="#10ff30"/><ellipse cx="342.30" cy="454.40" rx="2.20" ry="2.20" fill="#3010ff"/><ellipse cx="342.30" cy="454.40" rx="2.05" ry="2.05" fill="#00d8ff"/><ellipse cx="342.30" cy="454.40" rx="1.94" ry="1.94" fill="#20ff20"/><ellipse cx="342.30" cy="454.40" rx="1.83" ry="1.83" fill="#ffee00"/><ellipse cx="342.30" cy="454.40" rx="1.72" ry="1.72" fill="#ff1000"/><ellipse cx="345.10" cy="460.10" rx="2.20" ry="2.00" fill="#3010ff"/><ellipse cx="345.10" cy="460.10" rx="2.05" ry="1.86" fill="#00d8ff"/><ellipse cx="345.10" cy="460.10" rx="1.94" ry="1.76" fill="#20ff20"/><ellipse cx="345.10" cy="460.10" rx="1.83" ry="1.66" fill="#ffee00"/><ellipse cx="345.10" cy="460.10" rx="1.72" ry="1.56" fill="#ff1000"/></g></g>
<g clip-path="url(#tc58)"><rect x="359.0" y="426.0" width="22.2" height="38.5" fill="#555555"/><rect x="359.0" y="426.0" width="22.2" height="38.5" fill="url(#stripes)"/><line x1="359.0" y1="459.6" x2="381.2" y2="460.2" stroke="#b0b0b0" stroke-width="0.6"/><path d="M369.70 426.30 C369.83 426.30 369.97 428.13 370.10 429.00 C370.23 429.87 370.18 430.75 370.50 431.50 C370.82 432.25 371.45 432.72 372.00 433.50 C372.55 434.28 373.00 435.58 373.80 436.20 C374.60 436.82 376.28 436.87 376.80 437.20 C377.32 437.53 377.22 437.73 376.90 438.20 C376.58 438.67 375.12 439.12 374.90 440.00 C374.68 440.88 375.28 442.17 375.60 443.50 C375.92 444.83 376.50 446.55 376.80 448.00 C377.10 449.45 377.17 450.70 377.40 452.20 C377.63 453.70 377.90 455.73 378.20 457.00 C378.50 458.27 379.17 459.10 379.20 459.80 C379.23 460.50 379.18 460.90 378.40 461.20 C377.62 461.50 375.90 461.60 374.50 461.60 C373.10 461.60 371.50 461.20 370.00 461.20 C368.50 461.20 366.97 461.63 365.50 461.60 C364.03 461.57 362.15 461.23 361.20 461.00 C360.25 460.77 359.73 460.87 359.80 460.20 C359.87 459.53 361.17 458.33 361.60 457.00 C362.03 455.67 362.17 453.70 362.40 452.20 C362.63 450.70 362.82 449.45 363.00 448.00 C363.18 446.55 363.23 444.83 363.50 443.50 C363.77 442.17 364.78 440.78 364.60 440.00 C364.42 439.22 362.78 439.13 362.40 438.80 C362.02 438.47 361.77 438.43 362.30 438.00 C362.83 437.57 364.72 436.95 365.60 436.20 C366.48 435.45 367.05 434.28 367.60 433.50 C368.15 432.72 368.62 432.25 368.90 431.50 C369.18 430.75 369.17 429.87 369.30 429.00 C369.43 428.13 369.57 426.30 369.70 426.30Z" fill="url(#mg14)" filter="url(#tex14)"/><g filter="url(#bl2)"><ellipse cx="369.70" cy="441.20" rx="2.60" ry="2.60" fill="#3010ff"/><ellipse cx="369.70" cy="441.20" rx="1.92" ry="1.92" fill="#00c0ff"/><ellipse cx="369.70" cy="441.20" rx="1.30" ry="1.30" fill="#ffffff"/><ellipse cx="372.20" cy="447.80" rx="2.60" ry="2.60" fill="#3010ff"/><ellipse cx="372.20" cy="447.80" rx="1.92" ry="1.92" fill="#00c0ff"/><ellipse cx="372.20" cy="447.80" rx="1.30" ry="1.30" fill="#ffffff"/></g><g filter="url(#bl3)"><ellipse cx="369.70" cy="431.80" rx="2.00" ry="2.00" fill="#3010ff"/><ellipse cx="369.70" cy="431.80" rx="1.64" ry="1.64" fill="#00d8ff"/><ellipse cx="369.70" cy="431.80" rx="1.32" ry="1.32" fill="#20ff20"/><ellipse cx="369.70" cy="431.80" rx="1.00" ry="1.00" fill="#ffff00"/><ellipse cx="369.70" cy="431.80" rx="0.72" ry="0.72" fill="#ff2000"/><ellipse cx="369.70" cy="457.80" rx="9.80" ry="5.20" fill="#3010ff"/><ellipse cx="369.70" cy="457.80" rx="9.11" ry="4.84" fill="#00d8ff"/><ellipse cx="369.70" cy="457.80" rx="8.62" ry="4.58" fill="#20ff20"/><ellipse cx="369.70" cy="457.80" rx="8.13" ry="4.32" fill="#ffee00"/><ellipse cx="369.70" cy="457.80" rx="7.64" ry="4.06" fill="#ff1000"/></g></g>
<g clip-path="url(#tc59)"><rect x="383.6" y="426.0" width="22.2" height="38.5" fill="#585858"/><rect x="383.6" y="426.0" width="22.2" height="38.5" fill="url(#stripes)"/><line x1="383.6" y1="459.6" x2="405.8" y2="460.2" stroke="#b0b0b0" stroke-width="0.6"/><path d="M394.30 426.30 C394.43 426.30 394.57 428.13 394.70 429.00 C394.83 429.87 394.78 430.75 395.10 431.50 C395.42 432.25 396.05 432.72 396.60 433.50 C397.15 434.28 397.60 435.58 398.40 436.20 C399.20 436.82 400.88 436.87 401.40 437.20 C401.92 437.53 401.82 437.73 401.50 438.20 C401.18 438.67 399.72 439.12 399.50 440.00 C399.28 440.88 399.88 442.17 400.20 443.50 C400.52 444.83 401.10 446.55 401.40 448.00 C401.70 449.45 401.77 450.70 402.00 452.20 C402.23 453.70 402.50 455.73 402.80 457.00 C403.10 458.27 403.77 459.10 403.80 459.80 C403.83 460.50 403.78 460.90 403.00 461.20 C402.22 461.50 400.50 461.60 399.10 461.60 C397.70 461.60 396.10 461.20 394.60 461.20 C393.10 461.20 391.57 461.63 390.10 461.60 C388.63 461.57 386.75 461.23 385.80 461.00 C384.85 460.77 384.33 460.87 384.40 460.20 C384.47 459.53 385.77 458.33 386.20 457.00 C386.63 455.67 386.77 453.70 387.00 452.20 C387.23 450.70 387.42 449.45 387.60 448.00 C387.78 446.55 387.83 444.83 388.10 443.50 C388.37 442.17 389.38 440.78 389.20 440.00 C389.02 439.22 387.38 439.13 387.00 438.80 C386.62 438.47 386.37 438.43 386.90 438.00 C387.43 437.57 389.32 436.95 390.20 436.20 C391.08 435.45 391.65 434.28 392.20 433.50 C392.75 432.72 393.22 432.25 393.50 431.50 C393.78 430.75 393.77 429.87 393.90 429.00 C394.03 428.13 394.17 426.30 394.30 426.30Z" fill="url(#mg14)" filter="url(#tex14)"/><g filter="url(#bl3)"><ellipse cx="393.20" cy="438.40" rx="4.00" ry="5.00" fill="#3010ff"/><ellipse cx="393.20" cy="438.40" rx="2.96" ry="3.70" fill="#00c0ff"/><ellipse cx="393.20" cy="438.40" rx="2.00" ry="2.50" fill="#ffffff"/><ellipse cx="396.00" cy="448.70" rx="3.20" ry="2.70" fill="#3010ff"/><ellipse cx="396.00" cy="448.70" rx="2.98" ry="2.51" fill="#00d8ff"/><ellipse cx="396.00" cy="448.70" rx="2.82" ry="2.38" fill="#20ff20"/><ellipse cx="396.00" cy="448.70" rx="2.66" ry="2.24" fill="#ffee00"/><ellipse cx="396.00" cy="448.70" rx="2.50" ry="2.11" fill="#ff1000"/><ellipse cx="394.10" cy="456.30" rx="9.20" ry="5.20" fill="#3010ff"/><ellipse cx="394.10" cy="456.30" rx="7.82" ry="4.42" fill="#00d8ff"/><ellipse cx="394.10" cy="456.30" rx="6.62" ry="3.74" fill="#20ff20"/><ellipse cx="394.10" cy="456.30" rx="5.52" ry="3.12" fill="#ffee00"/><ellipse cx="394.10" cy="456.30" rx="4.42" ry="2.50" fill="#ff1a00"/><ellipse cx="395.60" cy="456.50" rx="6.00" ry="3.50" fill="#3010ff"/><ellipse cx="395.60" cy="456.50" rx="5.58" ry="3.26" fill="#00d8ff"/><ellipse cx="395.60" cy="456.50" rx="5.28" ry="3.08" fill="#20ff20"/><ellipse cx="395.60" cy="456.50" rx="4.98" ry="2.90" fill="#ffee00"/><ellipse cx="395.60" cy="456.50" rx="4.68" ry="2.73" fill="#ff1000"/></g></g>
<rect x="409.6" y="289.8" width="7.2" height="174.6" fill="url(#cbar)"/>
<line x1="417.9" y1="289.8" x2="417.9" y2="464.4" stroke="#777" stroke-width="0.6"/>
<line x1="417.9" y1="290.70" x2="419.6" y2="290.70" stroke="#777" stroke-width="0.6"/>
<line x1="417.9" y1="300.50" x2="419.6" y2="300.50" stroke="#777" stroke-width="0.6"/>
<line x1="417.9" y1="310.30" x2="419.6" y2="310.30" stroke="#777" stroke-width="0.6"/>
<line x1="417.9" y1="320.10" x2="421.2" y2="320.10" stroke="#777" stroke-width="0.6"/>
<line x1="417.9" y1="329.90" x2="419.6" y2="329.90" stroke="#777" stroke-width="0.6"/>
<line x1="417.9" y1="339.70" x2="419.6" y2="339.70" stroke="#777" stroke-width="0.6"/>
<line x1="417.9" y1="349.50" x2="419.6" y2="349.50" stroke="#777" stroke-width="0.6"/>
<line x1="417.9" y1="359.30" x2="419.6" y2="359.30" stroke="#777" stroke-width="0.6"/>
<line x1="417.9" y1="369.10" x2="421.2" y2="369.10" stroke="#777" stroke-width="0.6"/>
<line x1="417.9" y1="378.90" x2="419.6" y2="378.90" stroke="#777" stroke-width="0.6"/>
<line x1="417.9" y1="388.70" x2="419.6" y2="388.70" stroke="#777" stroke-width="0.6"/>
<line x1="417.9" y1="398.50" x2="419.6" y2="398.50" stroke="#777" stroke-width="0.6"/>
<line x1="417.9" y1="408.30" x2="419.6" y2="408.30" stroke="#777" stroke-width="0.6"/>
<line x1="417.9" y1="418.10" x2="421.2" y2="418.10" stroke="#777" stroke-width="0.6"/>
<line x1="417.9" y1="427.90" x2="419.6" y2="427.90" stroke="#777" stroke-width="0.6"/>
<line x1="417.9" y1="437.70" x2="419.6" y2="437.70" stroke="#777" stroke-width="0.6"/>
<line x1="417.9" y1="447.50" x2="419.6" y2="447.50" stroke="#777" stroke-width="0.6"/>
<line x1="417.9" y1="457.30" x2="419.6" y2="457.30" stroke="#777" stroke-width="0.6"/>
<text x="422.20" y="324.00" font-size="11" text-anchor="start" fill="#111" font-weight="normal" >8.0</text>
<text x="422.20" y="373.00" font-size="11" text-anchor="start" fill="#111" font-weight="normal" >6.0</text>
<text x="422.20" y="422.00" font-size="11" text-anchor="start" fill="#111" font-weight="normal" >4.0</text>
<text x="419.60" y="267.90" font-size="8.6" text-anchor="start" fill="#111" font-weight="normal" >Average radiance</text>
<text x="419.6" y="277.3" font-size="8.6" fill="#111">(x10<tspan font-size="5.2" dy="-3">7</tspan><tspan dy="3">;p/sec/cm</tspan><tspan font-size="5.2" dy="-3">2</tspan><tspan dy="3">/sr)</tspan></text>
<text x="454.50" y="321.50" font-size="10" text-anchor="start" fill="#000" font-weight="bold" >D19</text>
<path d="M550.1 406.3 H471.7" fill="none" stroke="#333" stroke-width="1.0"/>
<path d="M471.7 328.1 V406.3" fill="none" stroke="#777" stroke-width="1.2"/>
<line x1="469.8" y1="406.30" x2="471.7" y2="406.30" stroke="#333" stroke-width="0.7"/>
<text x="469.00" y="408.20" font-size="5.4" text-anchor="end" fill="#222" font-weight="normal" >0</text>
<line x1="469.8" y1="386.75" x2="471.7" y2="386.75" stroke="#333" stroke-width="0.7"/>
<text x="469.00" y="388.65" font-size="5.4" text-anchor="end" fill="#222" font-weight="normal" >5</text>
<line x1="469.8" y1="367.20" x2="471.7" y2="367.20" stroke="#333" stroke-width="0.7"/>
<text x="469.00" y="369.10" font-size="5.4" text-anchor="end" fill="#222" font-weight="normal" >10</text>
<line x1="469.8" y1="347.65" x2="471.7" y2="347.65" stroke="#333" stroke-width="0.7"/>
<text x="469.00" y="349.55" font-size="5.4" text-anchor="end" fill="#222" font-weight="normal" >15</text>
<line x1="469.8" y1="328.10" x2="471.7" y2="328.10" stroke="#333" stroke-width="0.7"/>
<text x="469.00" y="330.00" font-size="5.4" text-anchor="end" fill="#222" font-weight="normal" >20</text>
<path d="M483.95 351.56V348.04M481.65 348.04h4.6" stroke="#4a2a8a" stroke-width="0.8" fill="none" opacity="0.8"/>
<rect x="478.80" y="351.56" width="10.30" height="54.74" fill="#b49fdc" stroke="#4a2a8a" stroke-width="1.1"/>
<line x1="483.95" y1="406.3" x2="483.95" y2="408.3" stroke="#333" stroke-width="0.7"/>
<path d="M501.80 374.24V369.16M499.50 369.16h4.6" stroke="#1560d8" stroke-width="0.8" fill="none" opacity="0.8"/>
<rect x="496.40" y="374.24" width="10.80" height="32.06" fill="#1ac8ff" stroke="#1560d8" stroke-width="1.1"/>
<line x1="501.80" y1="406.3" x2="501.80" y2="408.3" stroke="#333" stroke-width="0.7"/>
<path d="M520.00 369.55V353.91M517.70 353.91h4.6" stroke="#1a7f85" stroke-width="0.8" fill="none" opacity="0.8"/>
<rect x="514.60" y="369.55" width="10.80" height="36.75" fill="#7fd0d4" stroke="#1a7f85" stroke-width="1.1"/>
<line x1="520.00" y1="406.3" x2="520.00" y2="408.3" stroke="#333" stroke-width="0.7"/>
<path d="M537.90 382.84V377.37M535.60 377.37h4.6" stroke="#ff7020" stroke-width="0.8" fill="none" opacity="0.8"/>
<rect x="532.50" y="382.84" width="10.80" height="23.46" fill="#ffb08e" stroke="#ff7020" stroke-width="1.1"/>
<line x1="537.90" y1="406.3" x2="537.90" y2="408.3" stroke="#333" stroke-width="0.7"/>
<line x1="483.7" y1="329.5" x2="540.2" y2="329.5" stroke="#111" stroke-width="1"/>
<line x1="483.7" y1="342.5" x2="502.3" y2="342.5" stroke="#111" stroke-width="1"/>
<text x="512.40" y="330.20" font-size="11.2" text-anchor="middle" fill="#000" font-weight="bold" >**</text>
<text x="492.90" y="343.00" font-size="11.2" text-anchor="middle" fill="#000" font-weight="bold" >**</text>
<text x="0" y="0" font-size="6.3" text-anchor="middle" fill="#222" transform="translate(459.6 366.6) rotate(-90)">Avg Radiance [p/s/cm2/sr]</text>
<text x="0" y="0" font-size="6.6" text-anchor="end" fill="#222" transform="translate(485.30 412.90000000000003) rotate(-45)">CTR</text>
<text x="0" y="0" font-size="6.6" text-anchor="end" fill="#222" transform="translate(503.00 412.90000000000003) rotate(-45)">Chi</text>
<text x="0" y="0" font-size="6.6" text-anchor="end" fill="#222" transform="translate(521.20 412.90000000000003) rotate(-45)">ARA-C</text>
<text x="0" y="0" font-size="6.6" text-anchor="end" fill="#222" transform="translate(539.20 412.90000000000003) rotate(-45)">Chi+ARA-C</text>
</svg>
</body></html>
